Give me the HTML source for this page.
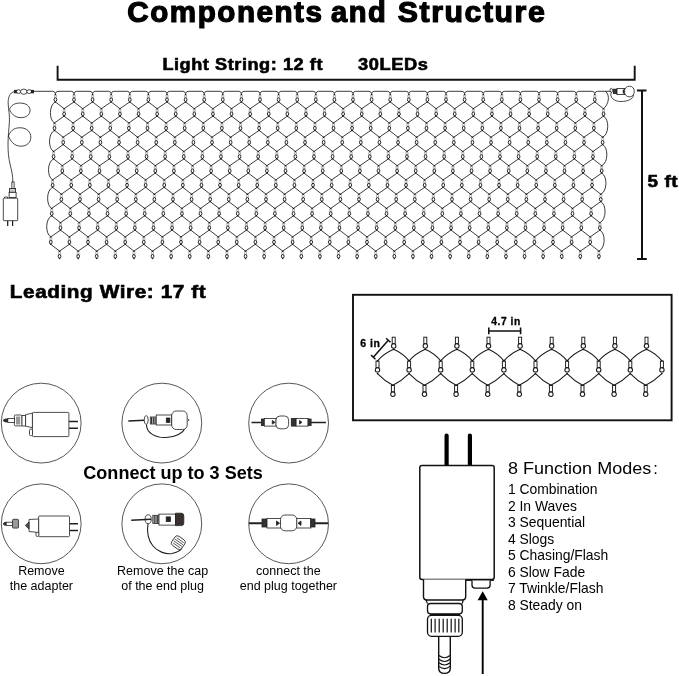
<!DOCTYPE html>
<html><head><meta charset="utf-8"><style>
html,body{margin:0;padding:0;background:#fff;}
body{width:679px;height:676px;overflow:hidden;position:relative;font-family:"Liberation Sans",sans-serif;}
svg{position:absolute;left:0;top:0;will-change:transform;}
text{font-family:"Liberation Sans",sans-serif;}
</style></head><body>
<svg width="679" height="676" viewBox="0 0 679 676" font-family="Liberation Sans, sans-serif">
<path d="M32,91.3 L52.8,91.3 Q54.8,91.3 55.4,93.6 Q56.0,91.3 58.0,91.3 L71.4,91.3 Q73.4,91.3 74.0,93.6 Q74.6,91.3 76.6,91.3 L90.0,91.3 Q92.0,91.3 92.6,93.6 Q93.2,91.3 95.2,91.3 L108.6,91.3 Q110.6,91.3 111.2,93.6 Q111.8,91.3 113.8,91.3 L127.2,91.3 Q129.2,91.3 129.8,93.6 Q130.4,91.3 132.4,91.3 L145.8,91.3 Q147.8,91.3 148.4,93.6 Q149.0,91.3 151.0,91.3 L164.4,91.3 Q166.4,91.3 167.0,93.6 Q167.6,91.3 169.6,91.3 L183.0,91.3 Q185.0,91.3 185.6,93.6 Q186.2,91.3 188.2,91.3 L201.6,91.3 Q203.6,91.3 204.2,93.6 Q204.8,91.3 206.8,91.3 L220.2,91.3 Q222.2,91.3 222.8,93.6 Q223.4,91.3 225.4,91.3 L238.8,91.3 Q240.8,91.3 241.4,93.6 Q242.0,91.3 244.0,91.3 L257.4,91.3 Q259.4,91.3 260.0,93.6 Q260.6,91.3 262.6,91.3 L276.0,91.3 Q278.0,91.3 278.6,93.6 Q279.2,91.3 281.2,91.3 L294.6,91.3 Q296.6,91.3 297.2,93.6 Q297.8,91.3 299.8,91.3 L313.2,91.3 Q315.2,91.3 315.8,93.6 Q316.4,91.3 318.4,91.3 L331.8,91.3 Q333.8,91.3 334.4,93.6 Q335.0,91.3 337.0,91.3 L350.4,91.3 Q352.4,91.3 353.0,93.6 Q353.6,91.3 355.6,91.3 L369.0,91.3 Q371.0,91.3 371.6,93.6 Q372.2,91.3 374.2,91.3 L387.6,91.3 Q389.6,91.3 390.2,93.6 Q390.8,91.3 392.8,91.3 L406.2,91.3 Q408.2,91.3 408.8,93.6 Q409.4,91.3 411.4,91.3 L424.8,91.3 Q426.8,91.3 427.4,93.6 Q428.0,91.3 430.0,91.3 L443.4,91.3 Q445.4,91.3 446.0,93.6 Q446.6,91.3 448.6,91.3 L462.0,91.3 Q464.0,91.3 464.6,93.6 Q465.2,91.3 467.2,91.3 L480.6,91.3 Q482.6,91.3 483.2,93.6 Q483.8,91.3 485.8,91.3 L499.2,91.3 Q501.2,91.3 501.8,93.6 Q502.4,91.3 504.4,91.3 L517.8,91.3 Q519.8,91.3 520.4,93.6 Q521.0,91.3 523.0,91.3 L536.4,91.3 Q538.4,91.3 539.0,93.6 Q539.6,91.3 541.6,91.3 L555.0,91.3 Q557.0,91.3 557.6,93.6 Q558.2,91.3 560.2,91.3 L573.6,91.3 Q575.6,91.3 576.2,93.6 Q576.8,91.3 578.8,91.3 L592.2,91.3 Q594.2,91.3 594.8,93.6 Q595.4,91.3 597.4,91.3 L611,91.3 M55.4,101.9 L64.1,108.7 M74.0,101.9 L64.1,108.7 M74.0,101.9 L82.7,108.7 M92.6,101.9 L82.7,108.7 M92.6,101.9 L101.3,108.7 M111.2,101.9 L101.3,108.7 M111.2,101.9 L119.9,108.7 M129.8,101.9 L119.9,108.7 M129.8,101.9 L138.5,108.7 M148.4,101.9 L138.5,108.7 M148.4,101.9 L157.1,108.7 M167.0,101.9 L157.1,108.7 M167.0,101.9 L175.7,108.7 M185.6,101.9 L175.7,108.7 M185.6,101.9 L194.3,108.7 M204.2,101.9 L194.3,108.7 M204.2,101.9 L212.9,108.7 M222.8,101.9 L212.9,108.7 M222.8,101.9 L231.5,108.7 M241.4,101.9 L231.5,108.7 M241.4,101.9 L250.1,108.7 M260.0,101.9 L250.1,108.7 M260.0,101.9 L268.7,108.7 M278.6,101.9 L268.7,108.7 M278.6,101.9 L287.3,108.7 M297.2,101.9 L287.3,108.7 M297.2,101.9 L305.9,108.7 M315.8,101.9 L305.9,108.7 M315.8,101.9 L324.5,108.7 M334.4,101.9 L324.5,108.7 M334.4,101.9 L343.1,108.7 M353.0,101.9 L343.1,108.7 M353.0,101.9 L361.7,108.7 M371.6,101.9 L361.7,108.7 M371.6,101.9 L380.3,108.7 M390.2,101.9 L380.3,108.7 M390.2,101.9 L398.9,108.7 M408.8,101.9 L398.9,108.7 M408.8,101.9 L417.5,108.7 M427.4,101.9 L417.5,108.7 M427.4,101.9 L436.1,108.7 M446.0,101.9 L436.1,108.7 M446.0,101.9 L454.7,108.7 M464.6,101.9 L454.7,108.7 M464.6,101.9 L473.3,108.7 M483.2,101.9 L473.3,108.7 M483.2,101.9 L491.9,108.7 M501.8,101.9 L491.9,108.7 M501.8,101.9 L510.5,108.7 M520.4,101.9 L510.5,108.7 M520.4,101.9 L529.1,108.7 M539.0,101.9 L529.1,108.7 M539.0,101.9 L547.7,108.7 M557.6,101.9 L547.7,108.7 M557.6,101.9 L566.3,108.7 M576.2,101.9 L566.3,108.7 M576.2,101.9 L584.9,108.7 M594.8,101.9 L584.9,108.7 M594.8,101.9 L603.5,108.7 M64.1,116.1 L54.5,123.0 M64.1,116.1 L73.1,123.0 M82.7,116.1 L73.1,123.0 M82.7,116.1 L91.7,123.0 M101.3,116.1 L91.7,123.0 M101.3,116.1 L110.3,123.0 M119.9,116.1 L110.3,123.0 M119.9,116.1 L128.9,123.0 M138.5,116.1 L128.9,123.0 M138.5,116.1 L147.5,123.0 M157.1,116.1 L147.5,123.0 M157.1,116.1 L166.1,123.0 M175.7,116.1 L166.1,123.0 M175.7,116.1 L184.7,123.0 M194.3,116.1 L184.7,123.0 M194.3,116.1 L203.3,123.0 M212.9,116.1 L203.3,123.0 M212.9,116.1 L221.9,123.0 M231.5,116.1 L221.9,123.0 M231.5,116.1 L240.5,123.0 M250.1,116.1 L240.5,123.0 M250.1,116.1 L259.1,123.0 M268.7,116.1 L259.1,123.0 M268.7,116.1 L277.7,123.0 M287.3,116.1 L277.7,123.0 M287.3,116.1 L296.3,123.0 M305.9,116.1 L296.3,123.0 M305.9,116.1 L314.9,123.0 M324.5,116.1 L314.9,123.0 M324.5,116.1 L333.5,123.0 M343.1,116.1 L333.5,123.0 M343.1,116.1 L352.1,123.0 M361.7,116.1 L352.1,123.0 M361.7,116.1 L370.7,123.0 M380.3,116.1 L370.7,123.0 M380.3,116.1 L389.3,123.0 M398.9,116.1 L389.3,123.0 M398.9,116.1 L407.9,123.0 M417.5,116.1 L407.9,123.0 M417.5,116.1 L426.5,123.0 M436.1,116.1 L426.5,123.0 M436.1,116.1 L445.1,123.0 M454.7,116.1 L445.1,123.0 M454.7,116.1 L463.7,123.0 M473.3,116.1 L463.7,123.0 M473.3,116.1 L482.3,123.0 M491.9,116.1 L482.3,123.0 M491.9,116.1 L500.9,123.0 M510.5,116.1 L500.9,123.0 M510.5,116.1 L519.5,123.0 M529.1,116.1 L519.5,123.0 M529.1,116.1 L538.1,123.0 M547.7,116.1 L538.1,123.0 M547.7,116.1 L556.7,123.0 M566.3,116.1 L556.7,123.0 M566.3,116.1 L575.3,123.0 M584.9,116.1 L575.3,123.0 M584.9,116.1 L593.9,123.0 M603.5,116.1 L593.9,123.0 M54.5,130.4 L63.2,137.2 M73.1,130.4 L63.2,137.2 M73.1,130.4 L81.8,137.2 M91.7,130.4 L81.8,137.2 M91.7,130.4 L100.4,137.2 M110.3,130.4 L100.4,137.2 M110.3,130.4 L119.0,137.2 M128.9,130.4 L119.0,137.2 M128.9,130.4 L137.6,137.2 M147.5,130.4 L137.6,137.2 M147.5,130.4 L156.2,137.2 M166.1,130.4 L156.2,137.2 M166.1,130.4 L174.8,137.2 M184.7,130.4 L174.8,137.2 M184.7,130.4 L193.4,137.2 M203.3,130.4 L193.4,137.2 M203.3,130.4 L212.0,137.2 M221.9,130.4 L212.0,137.2 M221.9,130.4 L230.6,137.2 M240.5,130.4 L230.6,137.2 M240.5,130.4 L249.2,137.2 M259.1,130.4 L249.2,137.2 M259.1,130.4 L267.8,137.2 M277.7,130.4 L267.8,137.2 M277.7,130.4 L286.4,137.2 M296.3,130.4 L286.4,137.2 M296.3,130.4 L305.0,137.2 M314.9,130.4 L305.0,137.2 M314.9,130.4 L323.6,137.2 M333.5,130.4 L323.6,137.2 M333.5,130.4 L342.2,137.2 M352.1,130.4 L342.2,137.2 M352.1,130.4 L360.8,137.2 M370.7,130.4 L360.8,137.2 M370.7,130.4 L379.4,137.2 M389.3,130.4 L379.4,137.2 M389.3,130.4 L398.0,137.2 M407.9,130.4 L398.0,137.2 M407.9,130.4 L416.6,137.2 M426.5,130.4 L416.6,137.2 M426.5,130.4 L435.2,137.2 M445.1,130.4 L435.2,137.2 M445.1,130.4 L453.8,137.2 M463.7,130.4 L453.8,137.2 M463.7,130.4 L472.4,137.2 M482.3,130.4 L472.4,137.2 M482.3,130.4 L491.0,137.2 M500.9,130.4 L491.0,137.2 M500.9,130.4 L509.6,137.2 M519.5,130.4 L509.6,137.2 M519.5,130.4 L528.2,137.2 M538.1,130.4 L528.2,137.2 M538.1,130.4 L546.8,137.2 M556.7,130.4 L546.8,137.2 M556.7,130.4 L565.4,137.2 M575.3,130.4 L565.4,137.2 M575.3,130.4 L584.0,137.2 M593.9,130.4 L584.0,137.2 M593.9,130.4 L602.6,137.2 M63.2,144.6 L53.6,151.5 M63.2,144.6 L72.2,151.5 M81.8,144.6 L72.2,151.5 M81.8,144.6 L90.8,151.5 M100.4,144.6 L90.8,151.5 M100.4,144.6 L109.4,151.5 M119.0,144.6 L109.4,151.5 M119.0,144.6 L128.0,151.5 M137.6,144.6 L128.0,151.5 M137.6,144.6 L146.6,151.5 M156.2,144.6 L146.6,151.5 M156.2,144.6 L165.2,151.5 M174.8,144.6 L165.2,151.5 M174.8,144.6 L183.8,151.5 M193.4,144.6 L183.8,151.5 M193.4,144.6 L202.4,151.5 M212.0,144.6 L202.4,151.5 M212.0,144.6 L221.0,151.5 M230.6,144.6 L221.0,151.5 M230.6,144.6 L239.6,151.5 M249.2,144.6 L239.6,151.5 M249.2,144.6 L258.2,151.5 M267.8,144.6 L258.2,151.5 M267.8,144.6 L276.8,151.5 M286.4,144.6 L276.8,151.5 M286.4,144.6 L295.4,151.5 M305.0,144.6 L295.4,151.5 M305.0,144.6 L314.0,151.5 M323.6,144.6 L314.0,151.5 M323.6,144.6 L332.6,151.5 M342.2,144.6 L332.6,151.5 M342.2,144.6 L351.2,151.5 M360.8,144.6 L351.2,151.5 M360.8,144.6 L369.8,151.5 M379.4,144.6 L369.8,151.5 M379.4,144.6 L388.4,151.5 M398.0,144.6 L388.4,151.5 M398.0,144.6 L407.0,151.5 M416.6,144.6 L407.0,151.5 M416.6,144.6 L425.6,151.5 M435.2,144.6 L425.6,151.5 M435.2,144.6 L444.2,151.5 M453.8,144.6 L444.2,151.5 M453.8,144.6 L462.8,151.5 M472.4,144.6 L462.8,151.5 M472.4,144.6 L481.4,151.5 M491.0,144.6 L481.4,151.5 M491.0,144.6 L500.0,151.5 M509.6,144.6 L500.0,151.5 M509.6,144.6 L518.6,151.5 M528.2,144.6 L518.6,151.5 M528.2,144.6 L537.2,151.5 M546.8,144.6 L537.2,151.5 M546.8,144.6 L555.8,151.5 M565.4,144.6 L555.8,151.5 M565.4,144.6 L574.4,151.5 M584.0,144.6 L574.4,151.5 M584.0,144.6 L593.0,151.5 M602.6,144.6 L593.0,151.5 M53.6,158.9 L62.3,165.7 M72.2,158.9 L62.3,165.7 M72.2,158.9 L80.9,165.7 M90.8,158.9 L80.9,165.7 M90.8,158.9 L99.5,165.7 M109.4,158.9 L99.5,165.7 M109.4,158.9 L118.1,165.7 M128.0,158.9 L118.1,165.7 M128.0,158.9 L136.7,165.7 M146.6,158.9 L136.7,165.7 M146.6,158.9 L155.3,165.7 M165.2,158.9 L155.3,165.7 M165.2,158.9 L173.9,165.7 M183.8,158.9 L173.9,165.7 M183.8,158.9 L192.5,165.7 M202.4,158.9 L192.5,165.7 M202.4,158.9 L211.1,165.7 M221.0,158.9 L211.1,165.7 M221.0,158.9 L229.7,165.7 M239.6,158.9 L229.7,165.7 M239.6,158.9 L248.3,165.7 M258.2,158.9 L248.3,165.7 M258.2,158.9 L266.9,165.7 M276.8,158.9 L266.9,165.7 M276.8,158.9 L285.5,165.7 M295.4,158.9 L285.5,165.7 M295.4,158.9 L304.1,165.7 M314.0,158.9 L304.1,165.7 M314.0,158.9 L322.7,165.7 M332.6,158.9 L322.7,165.7 M332.6,158.9 L341.3,165.7 M351.2,158.9 L341.3,165.7 M351.2,158.9 L359.9,165.7 M369.8,158.9 L359.9,165.7 M369.8,158.9 L378.5,165.7 M388.4,158.9 L378.5,165.7 M388.4,158.9 L397.1,165.7 M407.0,158.9 L397.1,165.7 M407.0,158.9 L415.7,165.7 M425.6,158.9 L415.7,165.7 M425.6,158.9 L434.3,165.7 M444.2,158.9 L434.3,165.7 M444.2,158.9 L452.9,165.7 M462.8,158.9 L452.9,165.7 M462.8,158.9 L471.5,165.7 M481.4,158.9 L471.5,165.7 M481.4,158.9 L490.1,165.7 M500.0,158.9 L490.1,165.7 M500.0,158.9 L508.7,165.7 M518.6,158.9 L508.7,165.7 M518.6,158.9 L527.3,165.7 M537.2,158.9 L527.3,165.7 M537.2,158.9 L545.9,165.7 M555.8,158.9 L545.9,165.7 M555.8,158.9 L564.5,165.7 M574.4,158.9 L564.5,165.7 M574.4,158.9 L583.1,165.7 M593.0,158.9 L583.1,165.7 M593.0,158.9 L601.7,165.7 M62.3,173.1 L52.6,179.9 M62.3,173.1 L71.2,179.9 M80.9,173.1 L71.2,179.9 M80.9,173.1 L89.8,179.9 M99.5,173.1 L89.8,179.9 M99.5,173.1 L108.4,179.9 M118.1,173.1 L108.4,179.9 M118.1,173.1 L127.0,179.9 M136.7,173.1 L127.0,179.9 M136.7,173.1 L145.6,179.9 M155.3,173.1 L145.6,179.9 M155.3,173.1 L164.2,179.9 M173.9,173.1 L164.2,179.9 M173.9,173.1 L182.8,179.9 M192.5,173.1 L182.8,179.9 M192.5,173.1 L201.4,179.9 M211.1,173.1 L201.4,179.9 M211.1,173.1 L220.0,179.9 M229.7,173.1 L220.0,179.9 M229.7,173.1 L238.6,179.9 M248.3,173.1 L238.6,179.9 M248.3,173.1 L257.2,179.9 M266.9,173.1 L257.2,179.9 M266.9,173.1 L275.8,179.9 M285.5,173.1 L275.8,179.9 M285.5,173.1 L294.4,179.9 M304.1,173.1 L294.4,179.9 M304.1,173.1 L313.0,179.9 M322.7,173.1 L313.0,179.9 M322.7,173.1 L331.6,179.9 M341.3,173.1 L331.6,179.9 M341.3,173.1 L350.2,179.9 M359.9,173.1 L350.2,179.9 M359.9,173.1 L368.8,179.9 M378.5,173.1 L368.8,179.9 M378.5,173.1 L387.4,179.9 M397.1,173.1 L387.4,179.9 M397.1,173.1 L406.0,179.9 M415.7,173.1 L406.0,179.9 M415.7,173.1 L424.6,179.9 M434.3,173.1 L424.6,179.9 M434.3,173.1 L443.2,179.9 M452.9,173.1 L443.2,179.9 M452.9,173.1 L461.8,179.9 M471.5,173.1 L461.8,179.9 M471.5,173.1 L480.4,179.9 M490.1,173.1 L480.4,179.9 M490.1,173.1 L499.0,179.9 M508.7,173.1 L499.0,179.9 M508.7,173.1 L517.6,179.9 M527.3,173.1 L517.6,179.9 M527.3,173.1 L536.2,179.9 M545.9,173.1 L536.2,179.9 M545.9,173.1 L554.8,179.9 M564.5,173.1 L554.8,179.9 M564.5,173.1 L573.4,179.9 M583.1,173.1 L573.4,179.9 M583.1,173.1 L592.0,179.9 M601.7,173.1 L592.0,179.9 M52.6,187.3 L61.4,194.2 M71.2,187.3 L61.4,194.2 M71.2,187.3 L80.0,194.2 M89.8,187.3 L80.0,194.2 M89.8,187.3 L98.6,194.2 M108.4,187.3 L98.6,194.2 M108.4,187.3 L117.2,194.2 M127.0,187.3 L117.2,194.2 M127.0,187.3 L135.8,194.2 M145.6,187.3 L135.8,194.2 M145.6,187.3 L154.4,194.2 M164.2,187.3 L154.4,194.2 M164.2,187.3 L173.0,194.2 M182.8,187.3 L173.0,194.2 M182.8,187.3 L191.6,194.2 M201.4,187.3 L191.6,194.2 M201.4,187.3 L210.2,194.2 M220.0,187.3 L210.2,194.2 M220.0,187.3 L228.8,194.2 M238.6,187.3 L228.8,194.2 M238.6,187.3 L247.4,194.2 M257.2,187.3 L247.4,194.2 M257.2,187.3 L266.0,194.2 M275.8,187.3 L266.0,194.2 M275.8,187.3 L284.6,194.2 M294.4,187.3 L284.6,194.2 M294.4,187.3 L303.2,194.2 M313.0,187.3 L303.2,194.2 M313.0,187.3 L321.8,194.2 M331.6,187.3 L321.8,194.2 M331.6,187.3 L340.4,194.2 M350.2,187.3 L340.4,194.2 M350.2,187.3 L359.0,194.2 M368.8,187.3 L359.0,194.2 M368.8,187.3 L377.6,194.2 M387.4,187.3 L377.6,194.2 M387.4,187.3 L396.2,194.2 M406.0,187.3 L396.2,194.2 M406.0,187.3 L414.8,194.2 M424.6,187.3 L414.8,194.2 M424.6,187.3 L433.4,194.2 M443.2,187.3 L433.4,194.2 M443.2,187.3 L452.0,194.2 M461.8,187.3 L452.0,194.2 M461.8,187.3 L470.6,194.2 M480.4,187.3 L470.6,194.2 M480.4,187.3 L489.2,194.2 M499.0,187.3 L489.2,194.2 M499.0,187.3 L507.8,194.2 M517.6,187.3 L507.8,194.2 M517.6,187.3 L526.4,194.2 M536.2,187.3 L526.4,194.2 M536.2,187.3 L545.0,194.2 M554.8,187.3 L545.0,194.2 M554.8,187.3 L563.6,194.2 M573.4,187.3 L563.6,194.2 M573.4,187.3 L582.2,194.2 M592.0,187.3 L582.2,194.2 M592.0,187.3 L600.8,194.2 M61.4,201.6 L51.7,208.4 M61.4,201.6 L70.3,208.4 M80.0,201.6 L70.3,208.4 M80.0,201.6 L88.9,208.4 M98.6,201.6 L88.9,208.4 M98.6,201.6 L107.5,208.4 M117.2,201.6 L107.5,208.4 M117.2,201.6 L126.1,208.4 M135.8,201.6 L126.1,208.4 M135.8,201.6 L144.7,208.4 M154.4,201.6 L144.7,208.4 M154.4,201.6 L163.3,208.4 M173.0,201.6 L163.3,208.4 M173.0,201.6 L181.9,208.4 M191.6,201.6 L181.9,208.4 M191.6,201.6 L200.5,208.4 M210.2,201.6 L200.5,208.4 M210.2,201.6 L219.1,208.4 M228.8,201.6 L219.1,208.4 M228.8,201.6 L237.7,208.4 M247.4,201.6 L237.7,208.4 M247.4,201.6 L256.3,208.4 M266.0,201.6 L256.3,208.4 M266.0,201.6 L274.9,208.4 M284.6,201.6 L274.9,208.4 M284.6,201.6 L293.5,208.4 M303.2,201.6 L293.5,208.4 M303.2,201.6 L312.1,208.4 M321.8,201.6 L312.1,208.4 M321.8,201.6 L330.7,208.4 M340.4,201.6 L330.7,208.4 M340.4,201.6 L349.3,208.4 M359.0,201.6 L349.3,208.4 M359.0,201.6 L367.9,208.4 M377.6,201.6 L367.9,208.4 M377.6,201.6 L386.5,208.4 M396.2,201.6 L386.5,208.4 M396.2,201.6 L405.1,208.4 M414.8,201.6 L405.1,208.4 M414.8,201.6 L423.7,208.4 M433.4,201.6 L423.7,208.4 M433.4,201.6 L442.3,208.4 M452.0,201.6 L442.3,208.4 M452.0,201.6 L460.9,208.4 M470.6,201.6 L460.9,208.4 M470.6,201.6 L479.5,208.4 M489.2,201.6 L479.5,208.4 M489.2,201.6 L498.1,208.4 M507.8,201.6 L498.1,208.4 M507.8,201.6 L516.7,208.4 M526.4,201.6 L516.7,208.4 M526.4,201.6 L535.3,208.4 M545.0,201.6 L535.3,208.4 M545.0,201.6 L553.9,208.4 M563.6,201.6 L553.9,208.4 M563.6,201.6 L572.5,208.4 M582.2,201.6 L572.5,208.4 M582.2,201.6 L591.1,208.4 M600.8,201.6 L591.1,208.4 M51.7,215.8 L60.5,222.7 M70.3,215.8 L60.5,222.7 M70.3,215.8 L79.1,222.7 M88.9,215.8 L79.1,222.7 M88.9,215.8 L97.7,222.7 M107.5,215.8 L97.7,222.7 M107.5,215.8 L116.3,222.7 M126.1,215.8 L116.3,222.7 M126.1,215.8 L134.9,222.7 M144.7,215.8 L134.9,222.7 M144.7,215.8 L153.5,222.7 M163.3,215.8 L153.5,222.7 M163.3,215.8 L172.1,222.7 M181.9,215.8 L172.1,222.7 M181.9,215.8 L190.7,222.7 M200.5,215.8 L190.7,222.7 M200.5,215.8 L209.3,222.7 M219.1,215.8 L209.3,222.7 M219.1,215.8 L227.9,222.7 M237.7,215.8 L227.9,222.7 M237.7,215.8 L246.5,222.7 M256.3,215.8 L246.5,222.7 M256.3,215.8 L265.1,222.7 M274.9,215.8 L265.1,222.7 M274.9,215.8 L283.7,222.7 M293.5,215.8 L283.7,222.7 M293.5,215.8 L302.3,222.7 M312.1,215.8 L302.3,222.7 M312.1,215.8 L320.9,222.7 M330.7,215.8 L320.9,222.7 M330.7,215.8 L339.5,222.7 M349.3,215.8 L339.5,222.7 M349.3,215.8 L358.1,222.7 M367.9,215.8 L358.1,222.7 M367.9,215.8 L376.7,222.7 M386.5,215.8 L376.7,222.7 M386.5,215.8 L395.3,222.7 M405.1,215.8 L395.3,222.7 M405.1,215.8 L413.9,222.7 M423.7,215.8 L413.9,222.7 M423.7,215.8 L432.5,222.7 M442.3,215.8 L432.5,222.7 M442.3,215.8 L451.1,222.7 M460.9,215.8 L451.1,222.7 M460.9,215.8 L469.7,222.7 M479.5,215.8 L469.7,222.7 M479.5,215.8 L488.3,222.7 M498.1,215.8 L488.3,222.7 M498.1,215.8 L506.9,222.7 M516.7,215.8 L506.9,222.7 M516.7,215.8 L525.5,222.7 M535.3,215.8 L525.5,222.7 M535.3,215.8 L544.1,222.7 M553.9,215.8 L544.1,222.7 M553.9,215.8 L562.7,222.7 M572.5,215.8 L562.7,222.7 M572.5,215.8 L581.3,222.7 M591.1,215.8 L581.3,222.7 M591.1,215.8 L599.9,222.7 M60.5,230.1 L50.8,236.9 M60.5,230.1 L69.4,236.9 M79.1,230.1 L69.4,236.9 M79.1,230.1 L88.0,236.9 M97.7,230.1 L88.0,236.9 M97.7,230.1 L106.6,236.9 M116.3,230.1 L106.6,236.9 M116.3,230.1 L125.2,236.9 M134.9,230.1 L125.2,236.9 M134.9,230.1 L143.8,236.9 M153.5,230.1 L143.8,236.9 M153.5,230.1 L162.4,236.9 M172.1,230.1 L162.4,236.9 M172.1,230.1 L181.0,236.9 M190.7,230.1 L181.0,236.9 M190.7,230.1 L199.6,236.9 M209.3,230.1 L199.6,236.9 M209.3,230.1 L218.2,236.9 M227.9,230.1 L218.2,236.9 M227.9,230.1 L236.8,236.9 M246.5,230.1 L236.8,236.9 M246.5,230.1 L255.4,236.9 M265.1,230.1 L255.4,236.9 M265.1,230.1 L274.0,236.9 M283.7,230.1 L274.0,236.9 M283.7,230.1 L292.6,236.9 M302.3,230.1 L292.6,236.9 M302.3,230.1 L311.2,236.9 M320.9,230.1 L311.2,236.9 M320.9,230.1 L329.8,236.9 M339.5,230.1 L329.8,236.9 M339.5,230.1 L348.4,236.9 M358.1,230.1 L348.4,236.9 M358.1,230.1 L367.0,236.9 M376.7,230.1 L367.0,236.9 M376.7,230.1 L385.6,236.9 M395.3,230.1 L385.6,236.9 M395.3,230.1 L404.2,236.9 M413.9,230.1 L404.2,236.9 M413.9,230.1 L422.8,236.9 M432.5,230.1 L422.8,236.9 M432.5,230.1 L441.4,236.9 M451.1,230.1 L441.4,236.9 M451.1,230.1 L460.0,236.9 M469.7,230.1 L460.0,236.9 M469.7,230.1 L478.6,236.9 M488.3,230.1 L478.6,236.9 M488.3,230.1 L497.2,236.9 M506.9,230.1 L497.2,236.9 M506.9,230.1 L515.8,236.9 M525.5,230.1 L515.8,236.9 M525.5,230.1 L534.4,236.9 M544.1,230.1 L534.4,236.9 M544.1,230.1 L553.0,236.9 M562.7,230.1 L553.0,236.9 M562.7,230.1 L571.6,236.9 M581.3,230.1 L571.6,236.9 M581.3,230.1 L590.2,236.9 M599.9,230.1 L590.2,236.9 M50.8,244.3 L59.5,251.1 M69.4,244.3 L59.5,251.1 M69.4,244.3 L78.1,251.1 M88.0,244.3 L78.1,251.1 M88.0,244.3 L96.7,251.1 M106.6,244.3 L96.7,251.1 M106.6,244.3 L115.3,251.1 M125.2,244.3 L115.3,251.1 M125.2,244.3 L133.9,251.1 M143.8,244.3 L133.9,251.1 M143.8,244.3 L152.5,251.1 M162.4,244.3 L152.5,251.1 M162.4,244.3 L171.1,251.1 M181.0,244.3 L171.1,251.1 M181.0,244.3 L189.7,251.1 M199.6,244.3 L189.7,251.1 M199.6,244.3 L208.3,251.1 M218.2,244.3 L208.3,251.1 M218.2,244.3 L226.9,251.1 M236.8,244.3 L226.9,251.1 M236.8,244.3 L245.5,251.1 M255.4,244.3 L245.5,251.1 M255.4,244.3 L264.1,251.1 M274.0,244.3 L264.1,251.1 M274.0,244.3 L282.7,251.1 M292.6,244.3 L282.7,251.1 M292.6,244.3 L301.3,251.1 M311.2,244.3 L301.3,251.1 M311.2,244.3 L319.9,251.1 M329.8,244.3 L319.9,251.1 M329.8,244.3 L338.5,251.1 M348.4,244.3 L338.5,251.1 M348.4,244.3 L357.1,251.1 M367.0,244.3 L357.1,251.1 M367.0,244.3 L375.7,251.1 M385.6,244.3 L375.7,251.1 M385.6,244.3 L394.3,251.1 M404.2,244.3 L394.3,251.1 M404.2,244.3 L412.9,251.1 M422.8,244.3 L412.9,251.1 M422.8,244.3 L431.5,251.1 M441.4,244.3 L431.5,251.1 M441.4,244.3 L450.1,251.1 M460.0,244.3 L450.1,251.1 M460.0,244.3 L468.7,251.1 M478.6,244.3 L468.7,251.1 M478.6,244.3 L487.3,251.1 M497.2,244.3 L487.3,251.1 M497.2,244.3 L505.9,251.1 M515.8,244.3 L505.9,251.1 M515.8,244.3 L524.5,251.1 M534.4,244.3 L524.5,251.1 M534.4,244.3 L543.1,251.1 M553.0,244.3 L543.1,251.1 M553.0,244.3 L561.7,251.1 M571.6,244.3 L561.7,251.1 M571.6,244.3 L580.3,251.1 M590.2,244.3 L580.3,251.1 M590.2,244.3 L598.9,251.1 M55.4,101.9 C48.9,104.9 48.9,120.0 54.5,123.0 M54.5,130.4 C48.0,133.4 48.0,148.5 53.6,151.5 M53.6,158.9 C47.0,161.9 47.0,176.9 52.6,179.9 M52.6,187.3 C46.1,190.3 46.1,205.4 51.7,208.4 M51.7,215.8 C45.2,218.8 45.2,233.9 50.8,236.9 M605.5,91.3 C610.5,95.3 608.5,104.7 603.5,108.7 M603.5,116.1 C609.3,119.1 609.3,134.2 602.6,137.2 M602.6,144.6 C608.4,147.6 608.4,162.7 601.7,165.7 M601.7,173.1 C607.5,176.1 607.5,191.2 600.8,194.2 M600.8,201.6 C606.6,204.6 606.6,219.7 599.9,222.7 M599.9,230.1 C605.7,233.1 605.7,248.1 598.9,251.1" fill="none" stroke="#1a1a1a" stroke-width="0.85"/>
<path d="M54.4,94.8h2v3.1h-2zM73.0,94.8h2v3.1h-2zM91.6,94.8h2v3.1h-2zM110.2,94.8h2v3.1h-2zM128.8,94.8h2v3.1h-2zM147.4,94.8h2v3.1h-2zM166.0,94.8h2v3.1h-2zM184.6,94.8h2v3.1h-2zM203.2,94.8h2v3.1h-2zM221.8,94.8h2v3.1h-2zM240.4,94.8h2v3.1h-2zM259.0,94.8h2v3.1h-2zM277.6,94.8h2v3.1h-2zM296.2,94.8h2v3.1h-2zM314.8,94.8h2v3.1h-2zM333.4,94.8h2v3.1h-2zM352.0,94.8h2v3.1h-2zM370.6,94.8h2v3.1h-2zM389.2,94.8h2v3.1h-2zM407.8,94.8h2v3.1h-2zM426.4,94.8h2v3.1h-2zM445.0,94.8h2v3.1h-2zM463.6,94.8h2v3.1h-2zM482.2,94.8h2v3.1h-2zM500.8,94.8h2v3.1h-2zM519.4,94.8h2v3.1h-2zM538.0,94.8h2v3.1h-2zM556.6,94.8h2v3.1h-2zM575.2,94.8h2v3.1h-2zM593.8,94.8h2v3.1h-2zM63.1,109.0h2v3.1h-2zM81.7,109.0h2v3.1h-2zM100.3,109.0h2v3.1h-2zM118.9,109.0h2v3.1h-2zM137.5,109.0h2v3.1h-2zM156.1,109.0h2v3.1h-2zM174.7,109.0h2v3.1h-2zM193.3,109.0h2v3.1h-2zM211.9,109.0h2v3.1h-2zM230.5,109.0h2v3.1h-2zM249.1,109.0h2v3.1h-2zM267.7,109.0h2v3.1h-2zM286.3,109.0h2v3.1h-2zM304.9,109.0h2v3.1h-2zM323.5,109.0h2v3.1h-2zM342.1,109.0h2v3.1h-2zM360.7,109.0h2v3.1h-2zM379.3,109.0h2v3.1h-2zM397.9,109.0h2v3.1h-2zM416.5,109.0h2v3.1h-2zM435.1,109.0h2v3.1h-2zM453.7,109.0h2v3.1h-2zM472.3,109.0h2v3.1h-2zM490.9,109.0h2v3.1h-2zM509.5,109.0h2v3.1h-2zM528.1,109.0h2v3.1h-2zM546.7,109.0h2v3.1h-2zM565.3,109.0h2v3.1h-2zM583.9,109.0h2v3.1h-2zM602.5,109.0h2v3.1h-2zM53.5,123.3h2v3.1h-2zM72.1,123.3h2v3.1h-2zM90.7,123.3h2v3.1h-2zM109.3,123.3h2v3.1h-2zM127.9,123.3h2v3.1h-2zM146.5,123.3h2v3.1h-2zM165.1,123.3h2v3.1h-2zM183.7,123.3h2v3.1h-2zM202.3,123.3h2v3.1h-2zM220.9,123.3h2v3.1h-2zM239.5,123.3h2v3.1h-2zM258.1,123.3h2v3.1h-2zM276.7,123.3h2v3.1h-2zM295.3,123.3h2v3.1h-2zM313.9,123.3h2v3.1h-2zM332.5,123.3h2v3.1h-2zM351.1,123.3h2v3.1h-2zM369.7,123.3h2v3.1h-2zM388.3,123.3h2v3.1h-2zM406.9,123.3h2v3.1h-2zM425.5,123.3h2v3.1h-2zM444.1,123.3h2v3.1h-2zM462.7,123.3h2v3.1h-2zM481.3,123.3h2v3.1h-2zM499.9,123.3h2v3.1h-2zM518.5,123.3h2v3.1h-2zM537.1,123.3h2v3.1h-2zM555.7,123.3h2v3.1h-2zM574.3,123.3h2v3.1h-2zM592.9,123.3h2v3.1h-2zM62.2,137.5h2v3.1h-2zM80.8,137.5h2v3.1h-2zM99.4,137.5h2v3.1h-2zM118.0,137.5h2v3.1h-2zM136.6,137.5h2v3.1h-2zM155.2,137.5h2v3.1h-2zM173.8,137.5h2v3.1h-2zM192.4,137.5h2v3.1h-2zM211.0,137.5h2v3.1h-2zM229.6,137.5h2v3.1h-2zM248.2,137.5h2v3.1h-2zM266.8,137.5h2v3.1h-2zM285.4,137.5h2v3.1h-2zM304.0,137.5h2v3.1h-2zM322.6,137.5h2v3.1h-2zM341.2,137.5h2v3.1h-2zM359.8,137.5h2v3.1h-2zM378.4,137.5h2v3.1h-2zM397.0,137.5h2v3.1h-2zM415.6,137.5h2v3.1h-2zM434.2,137.5h2v3.1h-2zM452.8,137.5h2v3.1h-2zM471.4,137.5h2v3.1h-2zM490.0,137.5h2v3.1h-2zM508.6,137.5h2v3.1h-2zM527.2,137.5h2v3.1h-2zM545.8,137.5h2v3.1h-2zM564.4,137.5h2v3.1h-2zM583.0,137.5h2v3.1h-2zM601.6,137.5h2v3.1h-2zM52.6,151.8h2v3.1h-2zM71.2,151.8h2v3.1h-2zM89.8,151.8h2v3.1h-2zM108.4,151.8h2v3.1h-2zM127.0,151.8h2v3.1h-2zM145.6,151.8h2v3.1h-2zM164.2,151.8h2v3.1h-2zM182.8,151.8h2v3.1h-2zM201.4,151.8h2v3.1h-2zM220.0,151.8h2v3.1h-2zM238.6,151.8h2v3.1h-2zM257.2,151.8h2v3.1h-2zM275.8,151.8h2v3.1h-2zM294.4,151.8h2v3.1h-2zM313.0,151.8h2v3.1h-2zM331.6,151.8h2v3.1h-2zM350.2,151.8h2v3.1h-2zM368.8,151.8h2v3.1h-2zM387.4,151.8h2v3.1h-2zM406.0,151.8h2v3.1h-2zM424.6,151.8h2v3.1h-2zM443.2,151.8h2v3.1h-2zM461.8,151.8h2v3.1h-2zM480.4,151.8h2v3.1h-2zM499.0,151.8h2v3.1h-2zM517.6,151.8h2v3.1h-2zM536.2,151.8h2v3.1h-2zM554.8,151.8h2v3.1h-2zM573.4,151.8h2v3.1h-2zM592.0,151.8h2v3.1h-2zM61.3,166.0h2v3.1h-2zM79.9,166.0h2v3.1h-2zM98.5,166.0h2v3.1h-2zM117.1,166.0h2v3.1h-2zM135.7,166.0h2v3.1h-2zM154.3,166.0h2v3.1h-2zM172.9,166.0h2v3.1h-2zM191.5,166.0h2v3.1h-2zM210.1,166.0h2v3.1h-2zM228.7,166.0h2v3.1h-2zM247.3,166.0h2v3.1h-2zM265.9,166.0h2v3.1h-2zM284.5,166.0h2v3.1h-2zM303.1,166.0h2v3.1h-2zM321.7,166.0h2v3.1h-2zM340.3,166.0h2v3.1h-2zM358.9,166.0h2v3.1h-2zM377.5,166.0h2v3.1h-2zM396.1,166.0h2v3.1h-2zM414.7,166.0h2v3.1h-2zM433.3,166.0h2v3.1h-2zM451.9,166.0h2v3.1h-2zM470.5,166.0h2v3.1h-2zM489.1,166.0h2v3.1h-2zM507.7,166.0h2v3.1h-2zM526.3,166.0h2v3.1h-2zM544.9,166.0h2v3.1h-2zM563.5,166.0h2v3.1h-2zM582.1,166.0h2v3.1h-2zM600.7,166.0h2v3.1h-2zM51.6,180.2h2v3.1h-2zM70.2,180.2h2v3.1h-2zM88.8,180.2h2v3.1h-2zM107.4,180.2h2v3.1h-2zM126.0,180.2h2v3.1h-2zM144.6,180.2h2v3.1h-2zM163.2,180.2h2v3.1h-2zM181.8,180.2h2v3.1h-2zM200.4,180.2h2v3.1h-2zM219.0,180.2h2v3.1h-2zM237.6,180.2h2v3.1h-2zM256.2,180.2h2v3.1h-2zM274.8,180.2h2v3.1h-2zM293.4,180.2h2v3.1h-2zM312.0,180.2h2v3.1h-2zM330.6,180.2h2v3.1h-2zM349.2,180.2h2v3.1h-2zM367.8,180.2h2v3.1h-2zM386.4,180.2h2v3.1h-2zM405.0,180.2h2v3.1h-2zM423.6,180.2h2v3.1h-2zM442.2,180.2h2v3.1h-2zM460.8,180.2h2v3.1h-2zM479.4,180.2h2v3.1h-2zM498.0,180.2h2v3.1h-2zM516.6,180.2h2v3.1h-2zM535.2,180.2h2v3.1h-2zM553.8,180.2h2v3.1h-2zM572.4,180.2h2v3.1h-2zM591.0,180.2h2v3.1h-2zM60.4,194.5h2v3.1h-2zM79.0,194.5h2v3.1h-2zM97.6,194.5h2v3.1h-2zM116.2,194.5h2v3.1h-2zM134.8,194.5h2v3.1h-2zM153.4,194.5h2v3.1h-2zM172.0,194.5h2v3.1h-2zM190.6,194.5h2v3.1h-2zM209.2,194.5h2v3.1h-2zM227.8,194.5h2v3.1h-2zM246.4,194.5h2v3.1h-2zM265.0,194.5h2v3.1h-2zM283.6,194.5h2v3.1h-2zM302.2,194.5h2v3.1h-2zM320.8,194.5h2v3.1h-2zM339.4,194.5h2v3.1h-2zM358.0,194.5h2v3.1h-2zM376.6,194.5h2v3.1h-2zM395.2,194.5h2v3.1h-2zM413.8,194.5h2v3.1h-2zM432.4,194.5h2v3.1h-2zM451.0,194.5h2v3.1h-2zM469.6,194.5h2v3.1h-2zM488.2,194.5h2v3.1h-2zM506.8,194.5h2v3.1h-2zM525.4,194.5h2v3.1h-2zM544.0,194.5h2v3.1h-2zM562.6,194.5h2v3.1h-2zM581.2,194.5h2v3.1h-2zM599.8,194.5h2v3.1h-2zM50.7,208.7h2v3.1h-2zM69.3,208.7h2v3.1h-2zM87.9,208.7h2v3.1h-2zM106.5,208.7h2v3.1h-2zM125.1,208.7h2v3.1h-2zM143.7,208.7h2v3.1h-2zM162.3,208.7h2v3.1h-2zM180.9,208.7h2v3.1h-2zM199.5,208.7h2v3.1h-2zM218.1,208.7h2v3.1h-2zM236.7,208.7h2v3.1h-2zM255.3,208.7h2v3.1h-2zM273.9,208.7h2v3.1h-2zM292.5,208.7h2v3.1h-2zM311.1,208.7h2v3.1h-2zM329.7,208.7h2v3.1h-2zM348.3,208.7h2v3.1h-2zM366.9,208.7h2v3.1h-2zM385.5,208.7h2v3.1h-2zM404.1,208.7h2v3.1h-2zM422.7,208.7h2v3.1h-2zM441.3,208.7h2v3.1h-2zM459.9,208.7h2v3.1h-2zM478.5,208.7h2v3.1h-2zM497.1,208.7h2v3.1h-2zM515.7,208.7h2v3.1h-2zM534.3,208.7h2v3.1h-2zM552.9,208.7h2v3.1h-2zM571.5,208.7h2v3.1h-2zM590.1,208.7h2v3.1h-2zM59.5,223.0h2v3.1h-2zM78.1,223.0h2v3.1h-2zM96.7,223.0h2v3.1h-2zM115.3,223.0h2v3.1h-2zM133.9,223.0h2v3.1h-2zM152.5,223.0h2v3.1h-2zM171.1,223.0h2v3.1h-2zM189.7,223.0h2v3.1h-2zM208.3,223.0h2v3.1h-2zM226.9,223.0h2v3.1h-2zM245.5,223.0h2v3.1h-2zM264.1,223.0h2v3.1h-2zM282.7,223.0h2v3.1h-2zM301.3,223.0h2v3.1h-2zM319.9,223.0h2v3.1h-2zM338.5,223.0h2v3.1h-2zM357.1,223.0h2v3.1h-2zM375.7,223.0h2v3.1h-2zM394.3,223.0h2v3.1h-2zM412.9,223.0h2v3.1h-2zM431.5,223.0h2v3.1h-2zM450.1,223.0h2v3.1h-2zM468.7,223.0h2v3.1h-2zM487.3,223.0h2v3.1h-2zM505.9,223.0h2v3.1h-2zM524.5,223.0h2v3.1h-2zM543.1,223.0h2v3.1h-2zM561.7,223.0h2v3.1h-2zM580.3,223.0h2v3.1h-2zM598.9,223.0h2v3.1h-2zM49.8,237.2h2v3.1h-2zM68.4,237.2h2v3.1h-2zM87.0,237.2h2v3.1h-2zM105.6,237.2h2v3.1h-2zM124.2,237.2h2v3.1h-2zM142.8,237.2h2v3.1h-2zM161.4,237.2h2v3.1h-2zM180.0,237.2h2v3.1h-2zM198.6,237.2h2v3.1h-2zM217.2,237.2h2v3.1h-2zM235.8,237.2h2v3.1h-2zM254.4,237.2h2v3.1h-2zM273.0,237.2h2v3.1h-2zM291.6,237.2h2v3.1h-2zM310.2,237.2h2v3.1h-2zM328.8,237.2h2v3.1h-2zM347.4,237.2h2v3.1h-2zM366.0,237.2h2v3.1h-2zM384.6,237.2h2v3.1h-2zM403.2,237.2h2v3.1h-2zM421.8,237.2h2v3.1h-2zM440.4,237.2h2v3.1h-2zM459.0,237.2h2v3.1h-2zM477.6,237.2h2v3.1h-2zM496.2,237.2h2v3.1h-2zM514.8,237.2h2v3.1h-2zM533.4,237.2h2v3.1h-2zM552.0,237.2h2v3.1h-2zM570.6,237.2h2v3.1h-2zM589.2,237.2h2v3.1h-2zM58.5,251.4h2v3.1h-2zM77.1,251.4h2v3.1h-2zM95.7,251.4h2v3.1h-2zM114.3,251.4h2v3.1h-2zM132.9,251.4h2v3.1h-2zM151.5,251.4h2v3.1h-2zM170.1,251.4h2v3.1h-2zM188.7,251.4h2v3.1h-2zM207.3,251.4h2v3.1h-2zM225.9,251.4h2v3.1h-2zM244.5,251.4h2v3.1h-2zM263.1,251.4h2v3.1h-2zM281.7,251.4h2v3.1h-2zM300.3,251.4h2v3.1h-2zM318.9,251.4h2v3.1h-2zM337.5,251.4h2v3.1h-2zM356.1,251.4h2v3.1h-2zM374.7,251.4h2v3.1h-2zM393.3,251.4h2v3.1h-2zM411.9,251.4h2v3.1h-2zM430.5,251.4h2v3.1h-2zM449.1,251.4h2v3.1h-2zM467.7,251.4h2v3.1h-2zM486.3,251.4h2v3.1h-2zM504.9,251.4h2v3.1h-2zM523.5,251.4h2v3.1h-2zM542.1,251.4h2v3.1h-2zM560.7,251.4h2v3.1h-2zM579.3,251.4h2v3.1h-2zM597.9,251.4h2v3.1h-2z" fill="#f4f4f4" stroke="#888" stroke-width="0.6"/>
<path d="M54.05,99.70a1.35,1.85 0 1,0 2.7,0a1.35,1.85 0 1,0 -2.7,0M72.65,99.70a1.35,1.85 0 1,0 2.7,0a1.35,1.85 0 1,0 -2.7,0M91.25,99.70a1.35,1.85 0 1,0 2.7,0a1.35,1.85 0 1,0 -2.7,0M109.85,99.70a1.35,1.85 0 1,0 2.7,0a1.35,1.85 0 1,0 -2.7,0M128.45,99.70a1.35,1.85 0 1,0 2.7,0a1.35,1.85 0 1,0 -2.7,0M147.05,99.70a1.35,1.85 0 1,0 2.7,0a1.35,1.85 0 1,0 -2.7,0M165.65,99.70a1.35,1.85 0 1,0 2.7,0a1.35,1.85 0 1,0 -2.7,0M184.25,99.70a1.35,1.85 0 1,0 2.7,0a1.35,1.85 0 1,0 -2.7,0M202.85,99.70a1.35,1.85 0 1,0 2.7,0a1.35,1.85 0 1,0 -2.7,0M221.45,99.70a1.35,1.85 0 1,0 2.7,0a1.35,1.85 0 1,0 -2.7,0M240.05,99.70a1.35,1.85 0 1,0 2.7,0a1.35,1.85 0 1,0 -2.7,0M258.65,99.70a1.35,1.85 0 1,0 2.7,0a1.35,1.85 0 1,0 -2.7,0M277.25,99.70a1.35,1.85 0 1,0 2.7,0a1.35,1.85 0 1,0 -2.7,0M295.85,99.70a1.35,1.85 0 1,0 2.7,0a1.35,1.85 0 1,0 -2.7,0M314.45,99.70a1.35,1.85 0 1,0 2.7,0a1.35,1.85 0 1,0 -2.7,0M333.05,99.70a1.35,1.85 0 1,0 2.7,0a1.35,1.85 0 1,0 -2.7,0M351.65,99.70a1.35,1.85 0 1,0 2.7,0a1.35,1.85 0 1,0 -2.7,0M370.25,99.70a1.35,1.85 0 1,0 2.7,0a1.35,1.85 0 1,0 -2.7,0M388.85,99.70a1.35,1.85 0 1,0 2.7,0a1.35,1.85 0 1,0 -2.7,0M407.45,99.70a1.35,1.85 0 1,0 2.7,0a1.35,1.85 0 1,0 -2.7,0M426.05,99.70a1.35,1.85 0 1,0 2.7,0a1.35,1.85 0 1,0 -2.7,0M444.65,99.70a1.35,1.85 0 1,0 2.7,0a1.35,1.85 0 1,0 -2.7,0M463.25,99.70a1.35,1.85 0 1,0 2.7,0a1.35,1.85 0 1,0 -2.7,0M481.85,99.70a1.35,1.85 0 1,0 2.7,0a1.35,1.85 0 1,0 -2.7,0M500.45,99.70a1.35,1.85 0 1,0 2.7,0a1.35,1.85 0 1,0 -2.7,0M519.05,99.70a1.35,1.85 0 1,0 2.7,0a1.35,1.85 0 1,0 -2.7,0M537.65,99.70a1.35,1.85 0 1,0 2.7,0a1.35,1.85 0 1,0 -2.7,0M556.25,99.70a1.35,1.85 0 1,0 2.7,0a1.35,1.85 0 1,0 -2.7,0M574.85,99.70a1.35,1.85 0 1,0 2.7,0a1.35,1.85 0 1,0 -2.7,0M593.45,99.70a1.35,1.85 0 1,0 2.7,0a1.35,1.85 0 1,0 -2.7,0M62.79,113.94a1.35,1.85 0 1,0 2.7,0a1.35,1.85 0 1,0 -2.7,0M81.39,113.94a1.35,1.85 0 1,0 2.7,0a1.35,1.85 0 1,0 -2.7,0M99.99,113.94a1.35,1.85 0 1,0 2.7,0a1.35,1.85 0 1,0 -2.7,0M118.59,113.94a1.35,1.85 0 1,0 2.7,0a1.35,1.85 0 1,0 -2.7,0M137.19,113.94a1.35,1.85 0 1,0 2.7,0a1.35,1.85 0 1,0 -2.7,0M155.79,113.94a1.35,1.85 0 1,0 2.7,0a1.35,1.85 0 1,0 -2.7,0M174.39,113.94a1.35,1.85 0 1,0 2.7,0a1.35,1.85 0 1,0 -2.7,0M192.99,113.94a1.35,1.85 0 1,0 2.7,0a1.35,1.85 0 1,0 -2.7,0M211.59,113.94a1.35,1.85 0 1,0 2.7,0a1.35,1.85 0 1,0 -2.7,0M230.19,113.94a1.35,1.85 0 1,0 2.7,0a1.35,1.85 0 1,0 -2.7,0M248.79,113.94a1.35,1.85 0 1,0 2.7,0a1.35,1.85 0 1,0 -2.7,0M267.39,113.94a1.35,1.85 0 1,0 2.7,0a1.35,1.85 0 1,0 -2.7,0M285.99,113.94a1.35,1.85 0 1,0 2.7,0a1.35,1.85 0 1,0 -2.7,0M304.59,113.94a1.35,1.85 0 1,0 2.7,0a1.35,1.85 0 1,0 -2.7,0M323.19,113.94a1.35,1.85 0 1,0 2.7,0a1.35,1.85 0 1,0 -2.7,0M341.79,113.94a1.35,1.85 0 1,0 2.7,0a1.35,1.85 0 1,0 -2.7,0M360.39,113.94a1.35,1.85 0 1,0 2.7,0a1.35,1.85 0 1,0 -2.7,0M378.99,113.94a1.35,1.85 0 1,0 2.7,0a1.35,1.85 0 1,0 -2.7,0M397.59,113.94a1.35,1.85 0 1,0 2.7,0a1.35,1.85 0 1,0 -2.7,0M416.19,113.94a1.35,1.85 0 1,0 2.7,0a1.35,1.85 0 1,0 -2.7,0M434.79,113.94a1.35,1.85 0 1,0 2.7,0a1.35,1.85 0 1,0 -2.7,0M453.39,113.94a1.35,1.85 0 1,0 2.7,0a1.35,1.85 0 1,0 -2.7,0M471.99,113.94a1.35,1.85 0 1,0 2.7,0a1.35,1.85 0 1,0 -2.7,0M490.59,113.94a1.35,1.85 0 1,0 2.7,0a1.35,1.85 0 1,0 -2.7,0M509.19,113.94a1.35,1.85 0 1,0 2.7,0a1.35,1.85 0 1,0 -2.7,0M527.79,113.94a1.35,1.85 0 1,0 2.7,0a1.35,1.85 0 1,0 -2.7,0M546.39,113.94a1.35,1.85 0 1,0 2.7,0a1.35,1.85 0 1,0 -2.7,0M564.99,113.94a1.35,1.85 0 1,0 2.7,0a1.35,1.85 0 1,0 -2.7,0M583.59,113.94a1.35,1.85 0 1,0 2.7,0a1.35,1.85 0 1,0 -2.7,0M602.19,113.94a1.35,1.85 0 1,0 2.7,0a1.35,1.85 0 1,0 -2.7,0M53.13,128.18a1.35,1.85 0 1,0 2.7,0a1.35,1.85 0 1,0 -2.7,0M71.73,128.18a1.35,1.85 0 1,0 2.7,0a1.35,1.85 0 1,0 -2.7,0M90.33,128.18a1.35,1.85 0 1,0 2.7,0a1.35,1.85 0 1,0 -2.7,0M108.93,128.18a1.35,1.85 0 1,0 2.7,0a1.35,1.85 0 1,0 -2.7,0M127.53,128.18a1.35,1.85 0 1,0 2.7,0a1.35,1.85 0 1,0 -2.7,0M146.13,128.18a1.35,1.85 0 1,0 2.7,0a1.35,1.85 0 1,0 -2.7,0M164.73,128.18a1.35,1.85 0 1,0 2.7,0a1.35,1.85 0 1,0 -2.7,0M183.33,128.18a1.35,1.85 0 1,0 2.7,0a1.35,1.85 0 1,0 -2.7,0M201.93,128.18a1.35,1.85 0 1,0 2.7,0a1.35,1.85 0 1,0 -2.7,0M220.53,128.18a1.35,1.85 0 1,0 2.7,0a1.35,1.85 0 1,0 -2.7,0M239.13,128.18a1.35,1.85 0 1,0 2.7,0a1.35,1.85 0 1,0 -2.7,0M257.73,128.18a1.35,1.85 0 1,0 2.7,0a1.35,1.85 0 1,0 -2.7,0M276.33,128.18a1.35,1.85 0 1,0 2.7,0a1.35,1.85 0 1,0 -2.7,0M294.93,128.18a1.35,1.85 0 1,0 2.7,0a1.35,1.85 0 1,0 -2.7,0M313.53,128.18a1.35,1.85 0 1,0 2.7,0a1.35,1.85 0 1,0 -2.7,0M332.13,128.18a1.35,1.85 0 1,0 2.7,0a1.35,1.85 0 1,0 -2.7,0M350.73,128.18a1.35,1.85 0 1,0 2.7,0a1.35,1.85 0 1,0 -2.7,0M369.33,128.18a1.35,1.85 0 1,0 2.7,0a1.35,1.85 0 1,0 -2.7,0M387.93,128.18a1.35,1.85 0 1,0 2.7,0a1.35,1.85 0 1,0 -2.7,0M406.53,128.18a1.35,1.85 0 1,0 2.7,0a1.35,1.85 0 1,0 -2.7,0M425.13,128.18a1.35,1.85 0 1,0 2.7,0a1.35,1.85 0 1,0 -2.7,0M443.73,128.18a1.35,1.85 0 1,0 2.7,0a1.35,1.85 0 1,0 -2.7,0M462.33,128.18a1.35,1.85 0 1,0 2.7,0a1.35,1.85 0 1,0 -2.7,0M480.93,128.18a1.35,1.85 0 1,0 2.7,0a1.35,1.85 0 1,0 -2.7,0M499.53,128.18a1.35,1.85 0 1,0 2.7,0a1.35,1.85 0 1,0 -2.7,0M518.13,128.18a1.35,1.85 0 1,0 2.7,0a1.35,1.85 0 1,0 -2.7,0M536.73,128.18a1.35,1.85 0 1,0 2.7,0a1.35,1.85 0 1,0 -2.7,0M555.33,128.18a1.35,1.85 0 1,0 2.7,0a1.35,1.85 0 1,0 -2.7,0M573.93,128.18a1.35,1.85 0 1,0 2.7,0a1.35,1.85 0 1,0 -2.7,0M592.53,128.18a1.35,1.85 0 1,0 2.7,0a1.35,1.85 0 1,0 -2.7,0M61.87,142.42a1.35,1.85 0 1,0 2.7,0a1.35,1.85 0 1,0 -2.7,0M80.47,142.42a1.35,1.85 0 1,0 2.7,0a1.35,1.85 0 1,0 -2.7,0M99.07,142.42a1.35,1.85 0 1,0 2.7,0a1.35,1.85 0 1,0 -2.7,0M117.67,142.42a1.35,1.85 0 1,0 2.7,0a1.35,1.85 0 1,0 -2.7,0M136.27,142.42a1.35,1.85 0 1,0 2.7,0a1.35,1.85 0 1,0 -2.7,0M154.87,142.42a1.35,1.85 0 1,0 2.7,0a1.35,1.85 0 1,0 -2.7,0M173.47,142.42a1.35,1.85 0 1,0 2.7,0a1.35,1.85 0 1,0 -2.7,0M192.07,142.42a1.35,1.85 0 1,0 2.7,0a1.35,1.85 0 1,0 -2.7,0M210.67,142.42a1.35,1.85 0 1,0 2.7,0a1.35,1.85 0 1,0 -2.7,0M229.27,142.42a1.35,1.85 0 1,0 2.7,0a1.35,1.85 0 1,0 -2.7,0M247.87,142.42a1.35,1.85 0 1,0 2.7,0a1.35,1.85 0 1,0 -2.7,0M266.47,142.42a1.35,1.85 0 1,0 2.7,0a1.35,1.85 0 1,0 -2.7,0M285.07,142.42a1.35,1.85 0 1,0 2.7,0a1.35,1.85 0 1,0 -2.7,0M303.67,142.42a1.35,1.85 0 1,0 2.7,0a1.35,1.85 0 1,0 -2.7,0M322.27,142.42a1.35,1.85 0 1,0 2.7,0a1.35,1.85 0 1,0 -2.7,0M340.87,142.42a1.35,1.85 0 1,0 2.7,0a1.35,1.85 0 1,0 -2.7,0M359.47,142.42a1.35,1.85 0 1,0 2.7,0a1.35,1.85 0 1,0 -2.7,0M378.07,142.42a1.35,1.85 0 1,0 2.7,0a1.35,1.85 0 1,0 -2.7,0M396.67,142.42a1.35,1.85 0 1,0 2.7,0a1.35,1.85 0 1,0 -2.7,0M415.27,142.42a1.35,1.85 0 1,0 2.7,0a1.35,1.85 0 1,0 -2.7,0M433.87,142.42a1.35,1.85 0 1,0 2.7,0a1.35,1.85 0 1,0 -2.7,0M452.47,142.42a1.35,1.85 0 1,0 2.7,0a1.35,1.85 0 1,0 -2.7,0M471.07,142.42a1.35,1.85 0 1,0 2.7,0a1.35,1.85 0 1,0 -2.7,0M489.67,142.42a1.35,1.85 0 1,0 2.7,0a1.35,1.85 0 1,0 -2.7,0M508.27,142.42a1.35,1.85 0 1,0 2.7,0a1.35,1.85 0 1,0 -2.7,0M526.87,142.42a1.35,1.85 0 1,0 2.7,0a1.35,1.85 0 1,0 -2.7,0M545.47,142.42a1.35,1.85 0 1,0 2.7,0a1.35,1.85 0 1,0 -2.7,0M564.07,142.42a1.35,1.85 0 1,0 2.7,0a1.35,1.85 0 1,0 -2.7,0M582.67,142.42a1.35,1.85 0 1,0 2.7,0a1.35,1.85 0 1,0 -2.7,0M601.27,142.42a1.35,1.85 0 1,0 2.7,0a1.35,1.85 0 1,0 -2.7,0M52.21,156.66a1.35,1.85 0 1,0 2.7,0a1.35,1.85 0 1,0 -2.7,0M70.81,156.66a1.35,1.85 0 1,0 2.7,0a1.35,1.85 0 1,0 -2.7,0M89.41,156.66a1.35,1.85 0 1,0 2.7,0a1.35,1.85 0 1,0 -2.7,0M108.01,156.66a1.35,1.85 0 1,0 2.7,0a1.35,1.85 0 1,0 -2.7,0M126.61,156.66a1.35,1.85 0 1,0 2.7,0a1.35,1.85 0 1,0 -2.7,0M145.21,156.66a1.35,1.85 0 1,0 2.7,0a1.35,1.85 0 1,0 -2.7,0M163.81,156.66a1.35,1.85 0 1,0 2.7,0a1.35,1.85 0 1,0 -2.7,0M182.41,156.66a1.35,1.85 0 1,0 2.7,0a1.35,1.85 0 1,0 -2.7,0M201.01,156.66a1.35,1.85 0 1,0 2.7,0a1.35,1.85 0 1,0 -2.7,0M219.61,156.66a1.35,1.85 0 1,0 2.7,0a1.35,1.85 0 1,0 -2.7,0M238.21,156.66a1.35,1.85 0 1,0 2.7,0a1.35,1.85 0 1,0 -2.7,0M256.81,156.66a1.35,1.85 0 1,0 2.7,0a1.35,1.85 0 1,0 -2.7,0M275.41,156.66a1.35,1.85 0 1,0 2.7,0a1.35,1.85 0 1,0 -2.7,0M294.01,156.66a1.35,1.85 0 1,0 2.7,0a1.35,1.85 0 1,0 -2.7,0M312.61,156.66a1.35,1.85 0 1,0 2.7,0a1.35,1.85 0 1,0 -2.7,0M331.21,156.66a1.35,1.85 0 1,0 2.7,0a1.35,1.85 0 1,0 -2.7,0M349.81,156.66a1.35,1.85 0 1,0 2.7,0a1.35,1.85 0 1,0 -2.7,0M368.41,156.66a1.35,1.85 0 1,0 2.7,0a1.35,1.85 0 1,0 -2.7,0M387.01,156.66a1.35,1.85 0 1,0 2.7,0a1.35,1.85 0 1,0 -2.7,0M405.61,156.66a1.35,1.85 0 1,0 2.7,0a1.35,1.85 0 1,0 -2.7,0M424.21,156.66a1.35,1.85 0 1,0 2.7,0a1.35,1.85 0 1,0 -2.7,0M442.81,156.66a1.35,1.85 0 1,0 2.7,0a1.35,1.85 0 1,0 -2.7,0M461.41,156.66a1.35,1.85 0 1,0 2.7,0a1.35,1.85 0 1,0 -2.7,0M480.01,156.66a1.35,1.85 0 1,0 2.7,0a1.35,1.85 0 1,0 -2.7,0M498.61,156.66a1.35,1.85 0 1,0 2.7,0a1.35,1.85 0 1,0 -2.7,0M517.21,156.66a1.35,1.85 0 1,0 2.7,0a1.35,1.85 0 1,0 -2.7,0M535.81,156.66a1.35,1.85 0 1,0 2.7,0a1.35,1.85 0 1,0 -2.7,0M554.41,156.66a1.35,1.85 0 1,0 2.7,0a1.35,1.85 0 1,0 -2.7,0M573.01,156.66a1.35,1.85 0 1,0 2.7,0a1.35,1.85 0 1,0 -2.7,0M591.61,156.66a1.35,1.85 0 1,0 2.7,0a1.35,1.85 0 1,0 -2.7,0M60.95,170.90a1.35,1.85 0 1,0 2.7,0a1.35,1.85 0 1,0 -2.7,0M79.55,170.90a1.35,1.85 0 1,0 2.7,0a1.35,1.85 0 1,0 -2.7,0M98.15,170.90a1.35,1.85 0 1,0 2.7,0a1.35,1.85 0 1,0 -2.7,0M116.75,170.90a1.35,1.85 0 1,0 2.7,0a1.35,1.85 0 1,0 -2.7,0M135.35,170.90a1.35,1.85 0 1,0 2.7,0a1.35,1.85 0 1,0 -2.7,0M153.95,170.90a1.35,1.85 0 1,0 2.7,0a1.35,1.85 0 1,0 -2.7,0M172.55,170.90a1.35,1.85 0 1,0 2.7,0a1.35,1.85 0 1,0 -2.7,0M191.15,170.90a1.35,1.85 0 1,0 2.7,0a1.35,1.85 0 1,0 -2.7,0M209.75,170.90a1.35,1.85 0 1,0 2.7,0a1.35,1.85 0 1,0 -2.7,0M228.35,170.90a1.35,1.85 0 1,0 2.7,0a1.35,1.85 0 1,0 -2.7,0M246.95,170.90a1.35,1.85 0 1,0 2.7,0a1.35,1.85 0 1,0 -2.7,0M265.55,170.90a1.35,1.85 0 1,0 2.7,0a1.35,1.85 0 1,0 -2.7,0M284.15,170.90a1.35,1.85 0 1,0 2.7,0a1.35,1.85 0 1,0 -2.7,0M302.75,170.90a1.35,1.85 0 1,0 2.7,0a1.35,1.85 0 1,0 -2.7,0M321.35,170.90a1.35,1.85 0 1,0 2.7,0a1.35,1.85 0 1,0 -2.7,0M339.95,170.90a1.35,1.85 0 1,0 2.7,0a1.35,1.85 0 1,0 -2.7,0M358.55,170.90a1.35,1.85 0 1,0 2.7,0a1.35,1.85 0 1,0 -2.7,0M377.15,170.90a1.35,1.85 0 1,0 2.7,0a1.35,1.85 0 1,0 -2.7,0M395.75,170.90a1.35,1.85 0 1,0 2.7,0a1.35,1.85 0 1,0 -2.7,0M414.35,170.90a1.35,1.85 0 1,0 2.7,0a1.35,1.85 0 1,0 -2.7,0M432.95,170.90a1.35,1.85 0 1,0 2.7,0a1.35,1.85 0 1,0 -2.7,0M451.55,170.90a1.35,1.85 0 1,0 2.7,0a1.35,1.85 0 1,0 -2.7,0M470.15,170.90a1.35,1.85 0 1,0 2.7,0a1.35,1.85 0 1,0 -2.7,0M488.75,170.90a1.35,1.85 0 1,0 2.7,0a1.35,1.85 0 1,0 -2.7,0M507.35,170.90a1.35,1.85 0 1,0 2.7,0a1.35,1.85 0 1,0 -2.7,0M525.95,170.90a1.35,1.85 0 1,0 2.7,0a1.35,1.85 0 1,0 -2.7,0M544.55,170.90a1.35,1.85 0 1,0 2.7,0a1.35,1.85 0 1,0 -2.7,0M563.15,170.90a1.35,1.85 0 1,0 2.7,0a1.35,1.85 0 1,0 -2.7,0M581.75,170.90a1.35,1.85 0 1,0 2.7,0a1.35,1.85 0 1,0 -2.7,0M600.35,170.90a1.35,1.85 0 1,0 2.7,0a1.35,1.85 0 1,0 -2.7,0M51.29,185.14a1.35,1.85 0 1,0 2.7,0a1.35,1.85 0 1,0 -2.7,0M69.89,185.14a1.35,1.85 0 1,0 2.7,0a1.35,1.85 0 1,0 -2.7,0M88.49,185.14a1.35,1.85 0 1,0 2.7,0a1.35,1.85 0 1,0 -2.7,0M107.09,185.14a1.35,1.85 0 1,0 2.7,0a1.35,1.85 0 1,0 -2.7,0M125.69,185.14a1.35,1.85 0 1,0 2.7,0a1.35,1.85 0 1,0 -2.7,0M144.29,185.14a1.35,1.85 0 1,0 2.7,0a1.35,1.85 0 1,0 -2.7,0M162.89,185.14a1.35,1.85 0 1,0 2.7,0a1.35,1.85 0 1,0 -2.7,0M181.49,185.14a1.35,1.85 0 1,0 2.7,0a1.35,1.85 0 1,0 -2.7,0M200.09,185.14a1.35,1.85 0 1,0 2.7,0a1.35,1.85 0 1,0 -2.7,0M218.69,185.14a1.35,1.85 0 1,0 2.7,0a1.35,1.85 0 1,0 -2.7,0M237.29,185.14a1.35,1.85 0 1,0 2.7,0a1.35,1.85 0 1,0 -2.7,0M255.89,185.14a1.35,1.85 0 1,0 2.7,0a1.35,1.85 0 1,0 -2.7,0M274.49,185.14a1.35,1.85 0 1,0 2.7,0a1.35,1.85 0 1,0 -2.7,0M293.09,185.14a1.35,1.85 0 1,0 2.7,0a1.35,1.85 0 1,0 -2.7,0M311.69,185.14a1.35,1.85 0 1,0 2.7,0a1.35,1.85 0 1,0 -2.7,0M330.29,185.14a1.35,1.85 0 1,0 2.7,0a1.35,1.85 0 1,0 -2.7,0M348.89,185.14a1.35,1.85 0 1,0 2.7,0a1.35,1.85 0 1,0 -2.7,0M367.49,185.14a1.35,1.85 0 1,0 2.7,0a1.35,1.85 0 1,0 -2.7,0M386.09,185.14a1.35,1.85 0 1,0 2.7,0a1.35,1.85 0 1,0 -2.7,0M404.69,185.14a1.35,1.85 0 1,0 2.7,0a1.35,1.85 0 1,0 -2.7,0M423.29,185.14a1.35,1.85 0 1,0 2.7,0a1.35,1.85 0 1,0 -2.7,0M441.89,185.14a1.35,1.85 0 1,0 2.7,0a1.35,1.85 0 1,0 -2.7,0M460.49,185.14a1.35,1.85 0 1,0 2.7,0a1.35,1.85 0 1,0 -2.7,0M479.09,185.14a1.35,1.85 0 1,0 2.7,0a1.35,1.85 0 1,0 -2.7,0M497.69,185.14a1.35,1.85 0 1,0 2.7,0a1.35,1.85 0 1,0 -2.7,0M516.29,185.14a1.35,1.85 0 1,0 2.7,0a1.35,1.85 0 1,0 -2.7,0M534.89,185.14a1.35,1.85 0 1,0 2.7,0a1.35,1.85 0 1,0 -2.7,0M553.49,185.14a1.35,1.85 0 1,0 2.7,0a1.35,1.85 0 1,0 -2.7,0M572.09,185.14a1.35,1.85 0 1,0 2.7,0a1.35,1.85 0 1,0 -2.7,0M590.69,185.14a1.35,1.85 0 1,0 2.7,0a1.35,1.85 0 1,0 -2.7,0M60.03,199.38a1.35,1.85 0 1,0 2.7,0a1.35,1.85 0 1,0 -2.7,0M78.63,199.38a1.35,1.85 0 1,0 2.7,0a1.35,1.85 0 1,0 -2.7,0M97.23,199.38a1.35,1.85 0 1,0 2.7,0a1.35,1.85 0 1,0 -2.7,0M115.83,199.38a1.35,1.85 0 1,0 2.7,0a1.35,1.85 0 1,0 -2.7,0M134.43,199.38a1.35,1.85 0 1,0 2.7,0a1.35,1.85 0 1,0 -2.7,0M153.03,199.38a1.35,1.85 0 1,0 2.7,0a1.35,1.85 0 1,0 -2.7,0M171.63,199.38a1.35,1.85 0 1,0 2.7,0a1.35,1.85 0 1,0 -2.7,0M190.23,199.38a1.35,1.85 0 1,0 2.7,0a1.35,1.85 0 1,0 -2.7,0M208.83,199.38a1.35,1.85 0 1,0 2.7,0a1.35,1.85 0 1,0 -2.7,0M227.43,199.38a1.35,1.85 0 1,0 2.7,0a1.35,1.85 0 1,0 -2.7,0M246.03,199.38a1.35,1.85 0 1,0 2.7,0a1.35,1.85 0 1,0 -2.7,0M264.63,199.38a1.35,1.85 0 1,0 2.7,0a1.35,1.85 0 1,0 -2.7,0M283.23,199.38a1.35,1.85 0 1,0 2.7,0a1.35,1.85 0 1,0 -2.7,0M301.83,199.38a1.35,1.85 0 1,0 2.7,0a1.35,1.85 0 1,0 -2.7,0M320.43,199.38a1.35,1.85 0 1,0 2.7,0a1.35,1.85 0 1,0 -2.7,0M339.03,199.38a1.35,1.85 0 1,0 2.7,0a1.35,1.85 0 1,0 -2.7,0M357.63,199.38a1.35,1.85 0 1,0 2.7,0a1.35,1.85 0 1,0 -2.7,0M376.23,199.38a1.35,1.85 0 1,0 2.7,0a1.35,1.85 0 1,0 -2.7,0M394.83,199.38a1.35,1.85 0 1,0 2.7,0a1.35,1.85 0 1,0 -2.7,0M413.43,199.38a1.35,1.85 0 1,0 2.7,0a1.35,1.85 0 1,0 -2.7,0M432.03,199.38a1.35,1.85 0 1,0 2.7,0a1.35,1.85 0 1,0 -2.7,0M450.63,199.38a1.35,1.85 0 1,0 2.7,0a1.35,1.85 0 1,0 -2.7,0M469.23,199.38a1.35,1.85 0 1,0 2.7,0a1.35,1.85 0 1,0 -2.7,0M487.83,199.38a1.35,1.85 0 1,0 2.7,0a1.35,1.85 0 1,0 -2.7,0M506.43,199.38a1.35,1.85 0 1,0 2.7,0a1.35,1.85 0 1,0 -2.7,0M525.03,199.38a1.35,1.85 0 1,0 2.7,0a1.35,1.85 0 1,0 -2.7,0M543.63,199.38a1.35,1.85 0 1,0 2.7,0a1.35,1.85 0 1,0 -2.7,0M562.23,199.38a1.35,1.85 0 1,0 2.7,0a1.35,1.85 0 1,0 -2.7,0M580.83,199.38a1.35,1.85 0 1,0 2.7,0a1.35,1.85 0 1,0 -2.7,0M599.43,199.38a1.35,1.85 0 1,0 2.7,0a1.35,1.85 0 1,0 -2.7,0M50.37,213.62a1.35,1.85 0 1,0 2.7,0a1.35,1.85 0 1,0 -2.7,0M68.97,213.62a1.35,1.85 0 1,0 2.7,0a1.35,1.85 0 1,0 -2.7,0M87.57,213.62a1.35,1.85 0 1,0 2.7,0a1.35,1.85 0 1,0 -2.7,0M106.17,213.62a1.35,1.85 0 1,0 2.7,0a1.35,1.85 0 1,0 -2.7,0M124.77,213.62a1.35,1.85 0 1,0 2.7,0a1.35,1.85 0 1,0 -2.7,0M143.37,213.62a1.35,1.85 0 1,0 2.7,0a1.35,1.85 0 1,0 -2.7,0M161.97,213.62a1.35,1.85 0 1,0 2.7,0a1.35,1.85 0 1,0 -2.7,0M180.57,213.62a1.35,1.85 0 1,0 2.7,0a1.35,1.85 0 1,0 -2.7,0M199.17,213.62a1.35,1.85 0 1,0 2.7,0a1.35,1.85 0 1,0 -2.7,0M217.77,213.62a1.35,1.85 0 1,0 2.7,0a1.35,1.85 0 1,0 -2.7,0M236.37,213.62a1.35,1.85 0 1,0 2.7,0a1.35,1.85 0 1,0 -2.7,0M254.97,213.62a1.35,1.85 0 1,0 2.7,0a1.35,1.85 0 1,0 -2.7,0M273.57,213.62a1.35,1.85 0 1,0 2.7,0a1.35,1.85 0 1,0 -2.7,0M292.17,213.62a1.35,1.85 0 1,0 2.7,0a1.35,1.85 0 1,0 -2.7,0M310.77,213.62a1.35,1.85 0 1,0 2.7,0a1.35,1.85 0 1,0 -2.7,0M329.37,213.62a1.35,1.85 0 1,0 2.7,0a1.35,1.85 0 1,0 -2.7,0M347.97,213.62a1.35,1.85 0 1,0 2.7,0a1.35,1.85 0 1,0 -2.7,0M366.57,213.62a1.35,1.85 0 1,0 2.7,0a1.35,1.85 0 1,0 -2.7,0M385.17,213.62a1.35,1.85 0 1,0 2.7,0a1.35,1.85 0 1,0 -2.7,0M403.77,213.62a1.35,1.85 0 1,0 2.7,0a1.35,1.85 0 1,0 -2.7,0M422.37,213.62a1.35,1.85 0 1,0 2.7,0a1.35,1.85 0 1,0 -2.7,0M440.97,213.62a1.35,1.85 0 1,0 2.7,0a1.35,1.85 0 1,0 -2.7,0M459.57,213.62a1.35,1.85 0 1,0 2.7,0a1.35,1.85 0 1,0 -2.7,0M478.17,213.62a1.35,1.85 0 1,0 2.7,0a1.35,1.85 0 1,0 -2.7,0M496.77,213.62a1.35,1.85 0 1,0 2.7,0a1.35,1.85 0 1,0 -2.7,0M515.37,213.62a1.35,1.85 0 1,0 2.7,0a1.35,1.85 0 1,0 -2.7,0M533.97,213.62a1.35,1.85 0 1,0 2.7,0a1.35,1.85 0 1,0 -2.7,0M552.57,213.62a1.35,1.85 0 1,0 2.7,0a1.35,1.85 0 1,0 -2.7,0M571.17,213.62a1.35,1.85 0 1,0 2.7,0a1.35,1.85 0 1,0 -2.7,0M589.77,213.62a1.35,1.85 0 1,0 2.7,0a1.35,1.85 0 1,0 -2.7,0M59.11,227.86a1.35,1.85 0 1,0 2.7,0a1.35,1.85 0 1,0 -2.7,0M77.71,227.86a1.35,1.85 0 1,0 2.7,0a1.35,1.85 0 1,0 -2.7,0M96.31,227.86a1.35,1.85 0 1,0 2.7,0a1.35,1.85 0 1,0 -2.7,0M114.91,227.86a1.35,1.85 0 1,0 2.7,0a1.35,1.85 0 1,0 -2.7,0M133.51,227.86a1.35,1.85 0 1,0 2.7,0a1.35,1.85 0 1,0 -2.7,0M152.11,227.86a1.35,1.85 0 1,0 2.7,0a1.35,1.85 0 1,0 -2.7,0M170.71,227.86a1.35,1.85 0 1,0 2.7,0a1.35,1.85 0 1,0 -2.7,0M189.31,227.86a1.35,1.85 0 1,0 2.7,0a1.35,1.85 0 1,0 -2.7,0M207.91,227.86a1.35,1.85 0 1,0 2.7,0a1.35,1.85 0 1,0 -2.7,0M226.51,227.86a1.35,1.85 0 1,0 2.7,0a1.35,1.85 0 1,0 -2.7,0M245.11,227.86a1.35,1.85 0 1,0 2.7,0a1.35,1.85 0 1,0 -2.7,0M263.71,227.86a1.35,1.85 0 1,0 2.7,0a1.35,1.85 0 1,0 -2.7,0M282.31,227.86a1.35,1.85 0 1,0 2.7,0a1.35,1.85 0 1,0 -2.7,0M300.91,227.86a1.35,1.85 0 1,0 2.7,0a1.35,1.85 0 1,0 -2.7,0M319.51,227.86a1.35,1.85 0 1,0 2.7,0a1.35,1.85 0 1,0 -2.7,0M338.11,227.86a1.35,1.85 0 1,0 2.7,0a1.35,1.85 0 1,0 -2.7,0M356.71,227.86a1.35,1.85 0 1,0 2.7,0a1.35,1.85 0 1,0 -2.7,0M375.31,227.86a1.35,1.85 0 1,0 2.7,0a1.35,1.85 0 1,0 -2.7,0M393.91,227.86a1.35,1.85 0 1,0 2.7,0a1.35,1.85 0 1,0 -2.7,0M412.51,227.86a1.35,1.85 0 1,0 2.7,0a1.35,1.85 0 1,0 -2.7,0M431.11,227.86a1.35,1.85 0 1,0 2.7,0a1.35,1.85 0 1,0 -2.7,0M449.71,227.86a1.35,1.85 0 1,0 2.7,0a1.35,1.85 0 1,0 -2.7,0M468.31,227.86a1.35,1.85 0 1,0 2.7,0a1.35,1.85 0 1,0 -2.7,0M486.91,227.86a1.35,1.85 0 1,0 2.7,0a1.35,1.85 0 1,0 -2.7,0M505.51,227.86a1.35,1.85 0 1,0 2.7,0a1.35,1.85 0 1,0 -2.7,0M524.11,227.86a1.35,1.85 0 1,0 2.7,0a1.35,1.85 0 1,0 -2.7,0M542.71,227.86a1.35,1.85 0 1,0 2.7,0a1.35,1.85 0 1,0 -2.7,0M561.31,227.86a1.35,1.85 0 1,0 2.7,0a1.35,1.85 0 1,0 -2.7,0M579.91,227.86a1.35,1.85 0 1,0 2.7,0a1.35,1.85 0 1,0 -2.7,0M598.51,227.86a1.35,1.85 0 1,0 2.7,0a1.35,1.85 0 1,0 -2.7,0M49.45,242.10a1.35,1.85 0 1,0 2.7,0a1.35,1.85 0 1,0 -2.7,0M68.05,242.10a1.35,1.85 0 1,0 2.7,0a1.35,1.85 0 1,0 -2.7,0M86.65,242.10a1.35,1.85 0 1,0 2.7,0a1.35,1.85 0 1,0 -2.7,0M105.25,242.10a1.35,1.85 0 1,0 2.7,0a1.35,1.85 0 1,0 -2.7,0M123.85,242.10a1.35,1.85 0 1,0 2.7,0a1.35,1.85 0 1,0 -2.7,0M142.45,242.10a1.35,1.85 0 1,0 2.7,0a1.35,1.85 0 1,0 -2.7,0M161.05,242.10a1.35,1.85 0 1,0 2.7,0a1.35,1.85 0 1,0 -2.7,0M179.65,242.10a1.35,1.85 0 1,0 2.7,0a1.35,1.85 0 1,0 -2.7,0M198.25,242.10a1.35,1.85 0 1,0 2.7,0a1.35,1.85 0 1,0 -2.7,0M216.85,242.10a1.35,1.85 0 1,0 2.7,0a1.35,1.85 0 1,0 -2.7,0M235.45,242.10a1.35,1.85 0 1,0 2.7,0a1.35,1.85 0 1,0 -2.7,0M254.05,242.10a1.35,1.85 0 1,0 2.7,0a1.35,1.85 0 1,0 -2.7,0M272.65,242.10a1.35,1.85 0 1,0 2.7,0a1.35,1.85 0 1,0 -2.7,0M291.25,242.10a1.35,1.85 0 1,0 2.7,0a1.35,1.85 0 1,0 -2.7,0M309.85,242.10a1.35,1.85 0 1,0 2.7,0a1.35,1.85 0 1,0 -2.7,0M328.45,242.10a1.35,1.85 0 1,0 2.7,0a1.35,1.85 0 1,0 -2.7,0M347.05,242.10a1.35,1.85 0 1,0 2.7,0a1.35,1.85 0 1,0 -2.7,0M365.65,242.10a1.35,1.85 0 1,0 2.7,0a1.35,1.85 0 1,0 -2.7,0M384.25,242.10a1.35,1.85 0 1,0 2.7,0a1.35,1.85 0 1,0 -2.7,0M402.85,242.10a1.35,1.85 0 1,0 2.7,0a1.35,1.85 0 1,0 -2.7,0M421.45,242.10a1.35,1.85 0 1,0 2.7,0a1.35,1.85 0 1,0 -2.7,0M440.05,242.10a1.35,1.85 0 1,0 2.7,0a1.35,1.85 0 1,0 -2.7,0M458.65,242.10a1.35,1.85 0 1,0 2.7,0a1.35,1.85 0 1,0 -2.7,0M477.25,242.10a1.35,1.85 0 1,0 2.7,0a1.35,1.85 0 1,0 -2.7,0M495.85,242.10a1.35,1.85 0 1,0 2.7,0a1.35,1.85 0 1,0 -2.7,0M514.45,242.10a1.35,1.85 0 1,0 2.7,0a1.35,1.85 0 1,0 -2.7,0M533.05,242.10a1.35,1.85 0 1,0 2.7,0a1.35,1.85 0 1,0 -2.7,0M551.65,242.10a1.35,1.85 0 1,0 2.7,0a1.35,1.85 0 1,0 -2.7,0M570.25,242.10a1.35,1.85 0 1,0 2.7,0a1.35,1.85 0 1,0 -2.7,0M588.85,242.10a1.35,1.85 0 1,0 2.7,0a1.35,1.85 0 1,0 -2.7,0M58.19,256.34a1.35,1.85 0 1,0 2.7,0a1.35,1.85 0 1,0 -2.7,0M76.79,256.34a1.35,1.85 0 1,0 2.7,0a1.35,1.85 0 1,0 -2.7,0M95.39,256.34a1.35,1.85 0 1,0 2.7,0a1.35,1.85 0 1,0 -2.7,0M113.99,256.34a1.35,1.85 0 1,0 2.7,0a1.35,1.85 0 1,0 -2.7,0M132.59,256.34a1.35,1.85 0 1,0 2.7,0a1.35,1.85 0 1,0 -2.7,0M151.19,256.34a1.35,1.85 0 1,0 2.7,0a1.35,1.85 0 1,0 -2.7,0M169.79,256.34a1.35,1.85 0 1,0 2.7,0a1.35,1.85 0 1,0 -2.7,0M188.39,256.34a1.35,1.85 0 1,0 2.7,0a1.35,1.85 0 1,0 -2.7,0M206.99,256.34a1.35,1.85 0 1,0 2.7,0a1.35,1.85 0 1,0 -2.7,0M225.59,256.34a1.35,1.85 0 1,0 2.7,0a1.35,1.85 0 1,0 -2.7,0M244.19,256.34a1.35,1.85 0 1,0 2.7,0a1.35,1.85 0 1,0 -2.7,0M262.79,256.34a1.35,1.85 0 1,0 2.7,0a1.35,1.85 0 1,0 -2.7,0M281.39,256.34a1.35,1.85 0 1,0 2.7,0a1.35,1.85 0 1,0 -2.7,0M299.99,256.34a1.35,1.85 0 1,0 2.7,0a1.35,1.85 0 1,0 -2.7,0M318.59,256.34a1.35,1.85 0 1,0 2.7,0a1.35,1.85 0 1,0 -2.7,0M337.19,256.34a1.35,1.85 0 1,0 2.7,0a1.35,1.85 0 1,0 -2.7,0M355.79,256.34a1.35,1.85 0 1,0 2.7,0a1.35,1.85 0 1,0 -2.7,0M374.39,256.34a1.35,1.85 0 1,0 2.7,0a1.35,1.85 0 1,0 -2.7,0M392.99,256.34a1.35,1.85 0 1,0 2.7,0a1.35,1.85 0 1,0 -2.7,0M411.59,256.34a1.35,1.85 0 1,0 2.7,0a1.35,1.85 0 1,0 -2.7,0M430.19,256.34a1.35,1.85 0 1,0 2.7,0a1.35,1.85 0 1,0 -2.7,0M448.79,256.34a1.35,1.85 0 1,0 2.7,0a1.35,1.85 0 1,0 -2.7,0M467.39,256.34a1.35,1.85 0 1,0 2.7,0a1.35,1.85 0 1,0 -2.7,0M485.99,256.34a1.35,1.85 0 1,0 2.7,0a1.35,1.85 0 1,0 -2.7,0M504.59,256.34a1.35,1.85 0 1,0 2.7,0a1.35,1.85 0 1,0 -2.7,0M523.19,256.34a1.35,1.85 0 1,0 2.7,0a1.35,1.85 0 1,0 -2.7,0M541.79,256.34a1.35,1.85 0 1,0 2.7,0a1.35,1.85 0 1,0 -2.7,0M560.39,256.34a1.35,1.85 0 1,0 2.7,0a1.35,1.85 0 1,0 -2.7,0M578.99,256.34a1.35,1.85 0 1,0 2.7,0a1.35,1.85 0 1,0 -2.7,0M597.59,256.34a1.35,1.85 0 1,0 2.7,0a1.35,1.85 0 1,0 -2.7,0" fill="#fff" stroke="#111" stroke-width="0.9"/>
<path d="M54.65,94.50a0.75,0.75 0 1,0 1.5,0a0.75,0.75 0 1,0 -1.5,0M54.65,101.90a0.75,0.75 0 1,0 1.5,0a0.75,0.75 0 1,0 -1.5,0M73.25,94.50a0.75,0.75 0 1,0 1.5,0a0.75,0.75 0 1,0 -1.5,0M73.25,101.90a0.75,0.75 0 1,0 1.5,0a0.75,0.75 0 1,0 -1.5,0M91.85,94.50a0.75,0.75 0 1,0 1.5,0a0.75,0.75 0 1,0 -1.5,0M91.85,101.90a0.75,0.75 0 1,0 1.5,0a0.75,0.75 0 1,0 -1.5,0M110.45,94.50a0.75,0.75 0 1,0 1.5,0a0.75,0.75 0 1,0 -1.5,0M110.45,101.90a0.75,0.75 0 1,0 1.5,0a0.75,0.75 0 1,0 -1.5,0M129.05,94.50a0.75,0.75 0 1,0 1.5,0a0.75,0.75 0 1,0 -1.5,0M129.05,101.90a0.75,0.75 0 1,0 1.5,0a0.75,0.75 0 1,0 -1.5,0M147.65,94.50a0.75,0.75 0 1,0 1.5,0a0.75,0.75 0 1,0 -1.5,0M147.65,101.90a0.75,0.75 0 1,0 1.5,0a0.75,0.75 0 1,0 -1.5,0M166.25,94.50a0.75,0.75 0 1,0 1.5,0a0.75,0.75 0 1,0 -1.5,0M166.25,101.90a0.75,0.75 0 1,0 1.5,0a0.75,0.75 0 1,0 -1.5,0M184.85,94.50a0.75,0.75 0 1,0 1.5,0a0.75,0.75 0 1,0 -1.5,0M184.85,101.90a0.75,0.75 0 1,0 1.5,0a0.75,0.75 0 1,0 -1.5,0M203.45,94.50a0.75,0.75 0 1,0 1.5,0a0.75,0.75 0 1,0 -1.5,0M203.45,101.90a0.75,0.75 0 1,0 1.5,0a0.75,0.75 0 1,0 -1.5,0M222.05,94.50a0.75,0.75 0 1,0 1.5,0a0.75,0.75 0 1,0 -1.5,0M222.05,101.90a0.75,0.75 0 1,0 1.5,0a0.75,0.75 0 1,0 -1.5,0M240.65,94.50a0.75,0.75 0 1,0 1.5,0a0.75,0.75 0 1,0 -1.5,0M240.65,101.90a0.75,0.75 0 1,0 1.5,0a0.75,0.75 0 1,0 -1.5,0M259.25,94.50a0.75,0.75 0 1,0 1.5,0a0.75,0.75 0 1,0 -1.5,0M259.25,101.90a0.75,0.75 0 1,0 1.5,0a0.75,0.75 0 1,0 -1.5,0M277.85,94.50a0.75,0.75 0 1,0 1.5,0a0.75,0.75 0 1,0 -1.5,0M277.85,101.90a0.75,0.75 0 1,0 1.5,0a0.75,0.75 0 1,0 -1.5,0M296.45,94.50a0.75,0.75 0 1,0 1.5,0a0.75,0.75 0 1,0 -1.5,0M296.45,101.90a0.75,0.75 0 1,0 1.5,0a0.75,0.75 0 1,0 -1.5,0M315.05,94.50a0.75,0.75 0 1,0 1.5,0a0.75,0.75 0 1,0 -1.5,0M315.05,101.90a0.75,0.75 0 1,0 1.5,0a0.75,0.75 0 1,0 -1.5,0M333.65,94.50a0.75,0.75 0 1,0 1.5,0a0.75,0.75 0 1,0 -1.5,0M333.65,101.90a0.75,0.75 0 1,0 1.5,0a0.75,0.75 0 1,0 -1.5,0M352.25,94.50a0.75,0.75 0 1,0 1.5,0a0.75,0.75 0 1,0 -1.5,0M352.25,101.90a0.75,0.75 0 1,0 1.5,0a0.75,0.75 0 1,0 -1.5,0M370.85,94.50a0.75,0.75 0 1,0 1.5,0a0.75,0.75 0 1,0 -1.5,0M370.85,101.90a0.75,0.75 0 1,0 1.5,0a0.75,0.75 0 1,0 -1.5,0M389.45,94.50a0.75,0.75 0 1,0 1.5,0a0.75,0.75 0 1,0 -1.5,0M389.45,101.90a0.75,0.75 0 1,0 1.5,0a0.75,0.75 0 1,0 -1.5,0M408.05,94.50a0.75,0.75 0 1,0 1.5,0a0.75,0.75 0 1,0 -1.5,0M408.05,101.90a0.75,0.75 0 1,0 1.5,0a0.75,0.75 0 1,0 -1.5,0M426.65,94.50a0.75,0.75 0 1,0 1.5,0a0.75,0.75 0 1,0 -1.5,0M426.65,101.90a0.75,0.75 0 1,0 1.5,0a0.75,0.75 0 1,0 -1.5,0M445.25,94.50a0.75,0.75 0 1,0 1.5,0a0.75,0.75 0 1,0 -1.5,0M445.25,101.90a0.75,0.75 0 1,0 1.5,0a0.75,0.75 0 1,0 -1.5,0M463.85,94.50a0.75,0.75 0 1,0 1.5,0a0.75,0.75 0 1,0 -1.5,0M463.85,101.90a0.75,0.75 0 1,0 1.5,0a0.75,0.75 0 1,0 -1.5,0M482.45,94.50a0.75,0.75 0 1,0 1.5,0a0.75,0.75 0 1,0 -1.5,0M482.45,101.90a0.75,0.75 0 1,0 1.5,0a0.75,0.75 0 1,0 -1.5,0M501.05,94.50a0.75,0.75 0 1,0 1.5,0a0.75,0.75 0 1,0 -1.5,0M501.05,101.90a0.75,0.75 0 1,0 1.5,0a0.75,0.75 0 1,0 -1.5,0M519.65,94.50a0.75,0.75 0 1,0 1.5,0a0.75,0.75 0 1,0 -1.5,0M519.65,101.90a0.75,0.75 0 1,0 1.5,0a0.75,0.75 0 1,0 -1.5,0M538.25,94.50a0.75,0.75 0 1,0 1.5,0a0.75,0.75 0 1,0 -1.5,0M538.25,101.90a0.75,0.75 0 1,0 1.5,0a0.75,0.75 0 1,0 -1.5,0M556.85,94.50a0.75,0.75 0 1,0 1.5,0a0.75,0.75 0 1,0 -1.5,0M556.85,101.90a0.75,0.75 0 1,0 1.5,0a0.75,0.75 0 1,0 -1.5,0M575.45,94.50a0.75,0.75 0 1,0 1.5,0a0.75,0.75 0 1,0 -1.5,0M575.45,101.90a0.75,0.75 0 1,0 1.5,0a0.75,0.75 0 1,0 -1.5,0M594.05,94.50a0.75,0.75 0 1,0 1.5,0a0.75,0.75 0 1,0 -1.5,0M594.05,101.90a0.75,0.75 0 1,0 1.5,0a0.75,0.75 0 1,0 -1.5,0M63.39,108.74a0.75,0.75 0 1,0 1.5,0a0.75,0.75 0 1,0 -1.5,0M63.39,116.14a0.75,0.75 0 1,0 1.5,0a0.75,0.75 0 1,0 -1.5,0M81.99,108.74a0.75,0.75 0 1,0 1.5,0a0.75,0.75 0 1,0 -1.5,0M81.99,116.14a0.75,0.75 0 1,0 1.5,0a0.75,0.75 0 1,0 -1.5,0M100.59,108.74a0.75,0.75 0 1,0 1.5,0a0.75,0.75 0 1,0 -1.5,0M100.59,116.14a0.75,0.75 0 1,0 1.5,0a0.75,0.75 0 1,0 -1.5,0M119.19,108.74a0.75,0.75 0 1,0 1.5,0a0.75,0.75 0 1,0 -1.5,0M119.19,116.14a0.75,0.75 0 1,0 1.5,0a0.75,0.75 0 1,0 -1.5,0M137.79,108.74a0.75,0.75 0 1,0 1.5,0a0.75,0.75 0 1,0 -1.5,0M137.79,116.14a0.75,0.75 0 1,0 1.5,0a0.75,0.75 0 1,0 -1.5,0M156.39,108.74a0.75,0.75 0 1,0 1.5,0a0.75,0.75 0 1,0 -1.5,0M156.39,116.14a0.75,0.75 0 1,0 1.5,0a0.75,0.75 0 1,0 -1.5,0M174.99,108.74a0.75,0.75 0 1,0 1.5,0a0.75,0.75 0 1,0 -1.5,0M174.99,116.14a0.75,0.75 0 1,0 1.5,0a0.75,0.75 0 1,0 -1.5,0M193.59,108.74a0.75,0.75 0 1,0 1.5,0a0.75,0.75 0 1,0 -1.5,0M193.59,116.14a0.75,0.75 0 1,0 1.5,0a0.75,0.75 0 1,0 -1.5,0M212.19,108.74a0.75,0.75 0 1,0 1.5,0a0.75,0.75 0 1,0 -1.5,0M212.19,116.14a0.75,0.75 0 1,0 1.5,0a0.75,0.75 0 1,0 -1.5,0M230.79,108.74a0.75,0.75 0 1,0 1.5,0a0.75,0.75 0 1,0 -1.5,0M230.79,116.14a0.75,0.75 0 1,0 1.5,0a0.75,0.75 0 1,0 -1.5,0M249.39,108.74a0.75,0.75 0 1,0 1.5,0a0.75,0.75 0 1,0 -1.5,0M249.39,116.14a0.75,0.75 0 1,0 1.5,0a0.75,0.75 0 1,0 -1.5,0M267.99,108.74a0.75,0.75 0 1,0 1.5,0a0.75,0.75 0 1,0 -1.5,0M267.99,116.14a0.75,0.75 0 1,0 1.5,0a0.75,0.75 0 1,0 -1.5,0M286.59,108.74a0.75,0.75 0 1,0 1.5,0a0.75,0.75 0 1,0 -1.5,0M286.59,116.14a0.75,0.75 0 1,0 1.5,0a0.75,0.75 0 1,0 -1.5,0M305.19,108.74a0.75,0.75 0 1,0 1.5,0a0.75,0.75 0 1,0 -1.5,0M305.19,116.14a0.75,0.75 0 1,0 1.5,0a0.75,0.75 0 1,0 -1.5,0M323.79,108.74a0.75,0.75 0 1,0 1.5,0a0.75,0.75 0 1,0 -1.5,0M323.79,116.14a0.75,0.75 0 1,0 1.5,0a0.75,0.75 0 1,0 -1.5,0M342.39,108.74a0.75,0.75 0 1,0 1.5,0a0.75,0.75 0 1,0 -1.5,0M342.39,116.14a0.75,0.75 0 1,0 1.5,0a0.75,0.75 0 1,0 -1.5,0M360.99,108.74a0.75,0.75 0 1,0 1.5,0a0.75,0.75 0 1,0 -1.5,0M360.99,116.14a0.75,0.75 0 1,0 1.5,0a0.75,0.75 0 1,0 -1.5,0M379.59,108.74a0.75,0.75 0 1,0 1.5,0a0.75,0.75 0 1,0 -1.5,0M379.59,116.14a0.75,0.75 0 1,0 1.5,0a0.75,0.75 0 1,0 -1.5,0M398.19,108.74a0.75,0.75 0 1,0 1.5,0a0.75,0.75 0 1,0 -1.5,0M398.19,116.14a0.75,0.75 0 1,0 1.5,0a0.75,0.75 0 1,0 -1.5,0M416.79,108.74a0.75,0.75 0 1,0 1.5,0a0.75,0.75 0 1,0 -1.5,0M416.79,116.14a0.75,0.75 0 1,0 1.5,0a0.75,0.75 0 1,0 -1.5,0M435.39,108.74a0.75,0.75 0 1,0 1.5,0a0.75,0.75 0 1,0 -1.5,0M435.39,116.14a0.75,0.75 0 1,0 1.5,0a0.75,0.75 0 1,0 -1.5,0M453.99,108.74a0.75,0.75 0 1,0 1.5,0a0.75,0.75 0 1,0 -1.5,0M453.99,116.14a0.75,0.75 0 1,0 1.5,0a0.75,0.75 0 1,0 -1.5,0M472.59,108.74a0.75,0.75 0 1,0 1.5,0a0.75,0.75 0 1,0 -1.5,0M472.59,116.14a0.75,0.75 0 1,0 1.5,0a0.75,0.75 0 1,0 -1.5,0M491.19,108.74a0.75,0.75 0 1,0 1.5,0a0.75,0.75 0 1,0 -1.5,0M491.19,116.14a0.75,0.75 0 1,0 1.5,0a0.75,0.75 0 1,0 -1.5,0M509.79,108.74a0.75,0.75 0 1,0 1.5,0a0.75,0.75 0 1,0 -1.5,0M509.79,116.14a0.75,0.75 0 1,0 1.5,0a0.75,0.75 0 1,0 -1.5,0M528.39,108.74a0.75,0.75 0 1,0 1.5,0a0.75,0.75 0 1,0 -1.5,0M528.39,116.14a0.75,0.75 0 1,0 1.5,0a0.75,0.75 0 1,0 -1.5,0M546.99,108.74a0.75,0.75 0 1,0 1.5,0a0.75,0.75 0 1,0 -1.5,0M546.99,116.14a0.75,0.75 0 1,0 1.5,0a0.75,0.75 0 1,0 -1.5,0M565.59,108.74a0.75,0.75 0 1,0 1.5,0a0.75,0.75 0 1,0 -1.5,0M565.59,116.14a0.75,0.75 0 1,0 1.5,0a0.75,0.75 0 1,0 -1.5,0M584.19,108.74a0.75,0.75 0 1,0 1.5,0a0.75,0.75 0 1,0 -1.5,0M584.19,116.14a0.75,0.75 0 1,0 1.5,0a0.75,0.75 0 1,0 -1.5,0M602.79,108.74a0.75,0.75 0 1,0 1.5,0a0.75,0.75 0 1,0 -1.5,0M602.79,116.14a0.75,0.75 0 1,0 1.5,0a0.75,0.75 0 1,0 -1.5,0M53.73,122.98a0.75,0.75 0 1,0 1.5,0a0.75,0.75 0 1,0 -1.5,0M53.73,130.38a0.75,0.75 0 1,0 1.5,0a0.75,0.75 0 1,0 -1.5,0M72.33,122.98a0.75,0.75 0 1,0 1.5,0a0.75,0.75 0 1,0 -1.5,0M72.33,130.38a0.75,0.75 0 1,0 1.5,0a0.75,0.75 0 1,0 -1.5,0M90.93,122.98a0.75,0.75 0 1,0 1.5,0a0.75,0.75 0 1,0 -1.5,0M90.93,130.38a0.75,0.75 0 1,0 1.5,0a0.75,0.75 0 1,0 -1.5,0M109.53,122.98a0.75,0.75 0 1,0 1.5,0a0.75,0.75 0 1,0 -1.5,0M109.53,130.38a0.75,0.75 0 1,0 1.5,0a0.75,0.75 0 1,0 -1.5,0M128.13,122.98a0.75,0.75 0 1,0 1.5,0a0.75,0.75 0 1,0 -1.5,0M128.13,130.38a0.75,0.75 0 1,0 1.5,0a0.75,0.75 0 1,0 -1.5,0M146.73,122.98a0.75,0.75 0 1,0 1.5,0a0.75,0.75 0 1,0 -1.5,0M146.73,130.38a0.75,0.75 0 1,0 1.5,0a0.75,0.75 0 1,0 -1.5,0M165.33,122.98a0.75,0.75 0 1,0 1.5,0a0.75,0.75 0 1,0 -1.5,0M165.33,130.38a0.75,0.75 0 1,0 1.5,0a0.75,0.75 0 1,0 -1.5,0M183.93,122.98a0.75,0.75 0 1,0 1.5,0a0.75,0.75 0 1,0 -1.5,0M183.93,130.38a0.75,0.75 0 1,0 1.5,0a0.75,0.75 0 1,0 -1.5,0M202.53,122.98a0.75,0.75 0 1,0 1.5,0a0.75,0.75 0 1,0 -1.5,0M202.53,130.38a0.75,0.75 0 1,0 1.5,0a0.75,0.75 0 1,0 -1.5,0M221.13,122.98a0.75,0.75 0 1,0 1.5,0a0.75,0.75 0 1,0 -1.5,0M221.13,130.38a0.75,0.75 0 1,0 1.5,0a0.75,0.75 0 1,0 -1.5,0M239.73,122.98a0.75,0.75 0 1,0 1.5,0a0.75,0.75 0 1,0 -1.5,0M239.73,130.38a0.75,0.75 0 1,0 1.5,0a0.75,0.75 0 1,0 -1.5,0M258.33,122.98a0.75,0.75 0 1,0 1.5,0a0.75,0.75 0 1,0 -1.5,0M258.33,130.38a0.75,0.75 0 1,0 1.5,0a0.75,0.75 0 1,0 -1.5,0M276.93,122.98a0.75,0.75 0 1,0 1.5,0a0.75,0.75 0 1,0 -1.5,0M276.93,130.38a0.75,0.75 0 1,0 1.5,0a0.75,0.75 0 1,0 -1.5,0M295.53,122.98a0.75,0.75 0 1,0 1.5,0a0.75,0.75 0 1,0 -1.5,0M295.53,130.38a0.75,0.75 0 1,0 1.5,0a0.75,0.75 0 1,0 -1.5,0M314.13,122.98a0.75,0.75 0 1,0 1.5,0a0.75,0.75 0 1,0 -1.5,0M314.13,130.38a0.75,0.75 0 1,0 1.5,0a0.75,0.75 0 1,0 -1.5,0M332.73,122.98a0.75,0.75 0 1,0 1.5,0a0.75,0.75 0 1,0 -1.5,0M332.73,130.38a0.75,0.75 0 1,0 1.5,0a0.75,0.75 0 1,0 -1.5,0M351.33,122.98a0.75,0.75 0 1,0 1.5,0a0.75,0.75 0 1,0 -1.5,0M351.33,130.38a0.75,0.75 0 1,0 1.5,0a0.75,0.75 0 1,0 -1.5,0M369.93,122.98a0.75,0.75 0 1,0 1.5,0a0.75,0.75 0 1,0 -1.5,0M369.93,130.38a0.75,0.75 0 1,0 1.5,0a0.75,0.75 0 1,0 -1.5,0M388.53,122.98a0.75,0.75 0 1,0 1.5,0a0.75,0.75 0 1,0 -1.5,0M388.53,130.38a0.75,0.75 0 1,0 1.5,0a0.75,0.75 0 1,0 -1.5,0M407.13,122.98a0.75,0.75 0 1,0 1.5,0a0.75,0.75 0 1,0 -1.5,0M407.13,130.38a0.75,0.75 0 1,0 1.5,0a0.75,0.75 0 1,0 -1.5,0M425.73,122.98a0.75,0.75 0 1,0 1.5,0a0.75,0.75 0 1,0 -1.5,0M425.73,130.38a0.75,0.75 0 1,0 1.5,0a0.75,0.75 0 1,0 -1.5,0M444.33,122.98a0.75,0.75 0 1,0 1.5,0a0.75,0.75 0 1,0 -1.5,0M444.33,130.38a0.75,0.75 0 1,0 1.5,0a0.75,0.75 0 1,0 -1.5,0M462.93,122.98a0.75,0.75 0 1,0 1.5,0a0.75,0.75 0 1,0 -1.5,0M462.93,130.38a0.75,0.75 0 1,0 1.5,0a0.75,0.75 0 1,0 -1.5,0M481.53,122.98a0.75,0.75 0 1,0 1.5,0a0.75,0.75 0 1,0 -1.5,0M481.53,130.38a0.75,0.75 0 1,0 1.5,0a0.75,0.75 0 1,0 -1.5,0M500.13,122.98a0.75,0.75 0 1,0 1.5,0a0.75,0.75 0 1,0 -1.5,0M500.13,130.38a0.75,0.75 0 1,0 1.5,0a0.75,0.75 0 1,0 -1.5,0M518.73,122.98a0.75,0.75 0 1,0 1.5,0a0.75,0.75 0 1,0 -1.5,0M518.73,130.38a0.75,0.75 0 1,0 1.5,0a0.75,0.75 0 1,0 -1.5,0M537.33,122.98a0.75,0.75 0 1,0 1.5,0a0.75,0.75 0 1,0 -1.5,0M537.33,130.38a0.75,0.75 0 1,0 1.5,0a0.75,0.75 0 1,0 -1.5,0M555.93,122.98a0.75,0.75 0 1,0 1.5,0a0.75,0.75 0 1,0 -1.5,0M555.93,130.38a0.75,0.75 0 1,0 1.5,0a0.75,0.75 0 1,0 -1.5,0M574.53,122.98a0.75,0.75 0 1,0 1.5,0a0.75,0.75 0 1,0 -1.5,0M574.53,130.38a0.75,0.75 0 1,0 1.5,0a0.75,0.75 0 1,0 -1.5,0M593.13,122.98a0.75,0.75 0 1,0 1.5,0a0.75,0.75 0 1,0 -1.5,0M593.13,130.38a0.75,0.75 0 1,0 1.5,0a0.75,0.75 0 1,0 -1.5,0M62.47,137.22a0.75,0.75 0 1,0 1.5,0a0.75,0.75 0 1,0 -1.5,0M62.47,144.62a0.75,0.75 0 1,0 1.5,0a0.75,0.75 0 1,0 -1.5,0M81.07,137.22a0.75,0.75 0 1,0 1.5,0a0.75,0.75 0 1,0 -1.5,0M81.07,144.62a0.75,0.75 0 1,0 1.5,0a0.75,0.75 0 1,0 -1.5,0M99.67,137.22a0.75,0.75 0 1,0 1.5,0a0.75,0.75 0 1,0 -1.5,0M99.67,144.62a0.75,0.75 0 1,0 1.5,0a0.75,0.75 0 1,0 -1.5,0M118.27,137.22a0.75,0.75 0 1,0 1.5,0a0.75,0.75 0 1,0 -1.5,0M118.27,144.62a0.75,0.75 0 1,0 1.5,0a0.75,0.75 0 1,0 -1.5,0M136.87,137.22a0.75,0.75 0 1,0 1.5,0a0.75,0.75 0 1,0 -1.5,0M136.87,144.62a0.75,0.75 0 1,0 1.5,0a0.75,0.75 0 1,0 -1.5,0M155.47,137.22a0.75,0.75 0 1,0 1.5,0a0.75,0.75 0 1,0 -1.5,0M155.47,144.62a0.75,0.75 0 1,0 1.5,0a0.75,0.75 0 1,0 -1.5,0M174.07,137.22a0.75,0.75 0 1,0 1.5,0a0.75,0.75 0 1,0 -1.5,0M174.07,144.62a0.75,0.75 0 1,0 1.5,0a0.75,0.75 0 1,0 -1.5,0M192.67,137.22a0.75,0.75 0 1,0 1.5,0a0.75,0.75 0 1,0 -1.5,0M192.67,144.62a0.75,0.75 0 1,0 1.5,0a0.75,0.75 0 1,0 -1.5,0M211.27,137.22a0.75,0.75 0 1,0 1.5,0a0.75,0.75 0 1,0 -1.5,0M211.27,144.62a0.75,0.75 0 1,0 1.5,0a0.75,0.75 0 1,0 -1.5,0M229.87,137.22a0.75,0.75 0 1,0 1.5,0a0.75,0.75 0 1,0 -1.5,0M229.87,144.62a0.75,0.75 0 1,0 1.5,0a0.75,0.75 0 1,0 -1.5,0M248.47,137.22a0.75,0.75 0 1,0 1.5,0a0.75,0.75 0 1,0 -1.5,0M248.47,144.62a0.75,0.75 0 1,0 1.5,0a0.75,0.75 0 1,0 -1.5,0M267.07,137.22a0.75,0.75 0 1,0 1.5,0a0.75,0.75 0 1,0 -1.5,0M267.07,144.62a0.75,0.75 0 1,0 1.5,0a0.75,0.75 0 1,0 -1.5,0M285.67,137.22a0.75,0.75 0 1,0 1.5,0a0.75,0.75 0 1,0 -1.5,0M285.67,144.62a0.75,0.75 0 1,0 1.5,0a0.75,0.75 0 1,0 -1.5,0M304.27,137.22a0.75,0.75 0 1,0 1.5,0a0.75,0.75 0 1,0 -1.5,0M304.27,144.62a0.75,0.75 0 1,0 1.5,0a0.75,0.75 0 1,0 -1.5,0M322.87,137.22a0.75,0.75 0 1,0 1.5,0a0.75,0.75 0 1,0 -1.5,0M322.87,144.62a0.75,0.75 0 1,0 1.5,0a0.75,0.75 0 1,0 -1.5,0M341.47,137.22a0.75,0.75 0 1,0 1.5,0a0.75,0.75 0 1,0 -1.5,0M341.47,144.62a0.75,0.75 0 1,0 1.5,0a0.75,0.75 0 1,0 -1.5,0M360.07,137.22a0.75,0.75 0 1,0 1.5,0a0.75,0.75 0 1,0 -1.5,0M360.07,144.62a0.75,0.75 0 1,0 1.5,0a0.75,0.75 0 1,0 -1.5,0M378.67,137.22a0.75,0.75 0 1,0 1.5,0a0.75,0.75 0 1,0 -1.5,0M378.67,144.62a0.75,0.75 0 1,0 1.5,0a0.75,0.75 0 1,0 -1.5,0M397.27,137.22a0.75,0.75 0 1,0 1.5,0a0.75,0.75 0 1,0 -1.5,0M397.27,144.62a0.75,0.75 0 1,0 1.5,0a0.75,0.75 0 1,0 -1.5,0M415.87,137.22a0.75,0.75 0 1,0 1.5,0a0.75,0.75 0 1,0 -1.5,0M415.87,144.62a0.75,0.75 0 1,0 1.5,0a0.75,0.75 0 1,0 -1.5,0M434.47,137.22a0.75,0.75 0 1,0 1.5,0a0.75,0.75 0 1,0 -1.5,0M434.47,144.62a0.75,0.75 0 1,0 1.5,0a0.75,0.75 0 1,0 -1.5,0M453.07,137.22a0.75,0.75 0 1,0 1.5,0a0.75,0.75 0 1,0 -1.5,0M453.07,144.62a0.75,0.75 0 1,0 1.5,0a0.75,0.75 0 1,0 -1.5,0M471.67,137.22a0.75,0.75 0 1,0 1.5,0a0.75,0.75 0 1,0 -1.5,0M471.67,144.62a0.75,0.75 0 1,0 1.5,0a0.75,0.75 0 1,0 -1.5,0M490.27,137.22a0.75,0.75 0 1,0 1.5,0a0.75,0.75 0 1,0 -1.5,0M490.27,144.62a0.75,0.75 0 1,0 1.5,0a0.75,0.75 0 1,0 -1.5,0M508.87,137.22a0.75,0.75 0 1,0 1.5,0a0.75,0.75 0 1,0 -1.5,0M508.87,144.62a0.75,0.75 0 1,0 1.5,0a0.75,0.75 0 1,0 -1.5,0M527.47,137.22a0.75,0.75 0 1,0 1.5,0a0.75,0.75 0 1,0 -1.5,0M527.47,144.62a0.75,0.75 0 1,0 1.5,0a0.75,0.75 0 1,0 -1.5,0M546.07,137.22a0.75,0.75 0 1,0 1.5,0a0.75,0.75 0 1,0 -1.5,0M546.07,144.62a0.75,0.75 0 1,0 1.5,0a0.75,0.75 0 1,0 -1.5,0M564.67,137.22a0.75,0.75 0 1,0 1.5,0a0.75,0.75 0 1,0 -1.5,0M564.67,144.62a0.75,0.75 0 1,0 1.5,0a0.75,0.75 0 1,0 -1.5,0M583.27,137.22a0.75,0.75 0 1,0 1.5,0a0.75,0.75 0 1,0 -1.5,0M583.27,144.62a0.75,0.75 0 1,0 1.5,0a0.75,0.75 0 1,0 -1.5,0M601.87,137.22a0.75,0.75 0 1,0 1.5,0a0.75,0.75 0 1,0 -1.5,0M601.87,144.62a0.75,0.75 0 1,0 1.5,0a0.75,0.75 0 1,0 -1.5,0M52.81,151.46a0.75,0.75 0 1,0 1.5,0a0.75,0.75 0 1,0 -1.5,0M52.81,158.86a0.75,0.75 0 1,0 1.5,0a0.75,0.75 0 1,0 -1.5,0M71.41,151.46a0.75,0.75 0 1,0 1.5,0a0.75,0.75 0 1,0 -1.5,0M71.41,158.86a0.75,0.75 0 1,0 1.5,0a0.75,0.75 0 1,0 -1.5,0M90.01,151.46a0.75,0.75 0 1,0 1.5,0a0.75,0.75 0 1,0 -1.5,0M90.01,158.86a0.75,0.75 0 1,0 1.5,0a0.75,0.75 0 1,0 -1.5,0M108.61,151.46a0.75,0.75 0 1,0 1.5,0a0.75,0.75 0 1,0 -1.5,0M108.61,158.86a0.75,0.75 0 1,0 1.5,0a0.75,0.75 0 1,0 -1.5,0M127.21,151.46a0.75,0.75 0 1,0 1.5,0a0.75,0.75 0 1,0 -1.5,0M127.21,158.86a0.75,0.75 0 1,0 1.5,0a0.75,0.75 0 1,0 -1.5,0M145.81,151.46a0.75,0.75 0 1,0 1.5,0a0.75,0.75 0 1,0 -1.5,0M145.81,158.86a0.75,0.75 0 1,0 1.5,0a0.75,0.75 0 1,0 -1.5,0M164.41,151.46a0.75,0.75 0 1,0 1.5,0a0.75,0.75 0 1,0 -1.5,0M164.41,158.86a0.75,0.75 0 1,0 1.5,0a0.75,0.75 0 1,0 -1.5,0M183.01,151.46a0.75,0.75 0 1,0 1.5,0a0.75,0.75 0 1,0 -1.5,0M183.01,158.86a0.75,0.75 0 1,0 1.5,0a0.75,0.75 0 1,0 -1.5,0M201.61,151.46a0.75,0.75 0 1,0 1.5,0a0.75,0.75 0 1,0 -1.5,0M201.61,158.86a0.75,0.75 0 1,0 1.5,0a0.75,0.75 0 1,0 -1.5,0M220.21,151.46a0.75,0.75 0 1,0 1.5,0a0.75,0.75 0 1,0 -1.5,0M220.21,158.86a0.75,0.75 0 1,0 1.5,0a0.75,0.75 0 1,0 -1.5,0M238.81,151.46a0.75,0.75 0 1,0 1.5,0a0.75,0.75 0 1,0 -1.5,0M238.81,158.86a0.75,0.75 0 1,0 1.5,0a0.75,0.75 0 1,0 -1.5,0M257.41,151.46a0.75,0.75 0 1,0 1.5,0a0.75,0.75 0 1,0 -1.5,0M257.41,158.86a0.75,0.75 0 1,0 1.5,0a0.75,0.75 0 1,0 -1.5,0M276.01,151.46a0.75,0.75 0 1,0 1.5,0a0.75,0.75 0 1,0 -1.5,0M276.01,158.86a0.75,0.75 0 1,0 1.5,0a0.75,0.75 0 1,0 -1.5,0M294.61,151.46a0.75,0.75 0 1,0 1.5,0a0.75,0.75 0 1,0 -1.5,0M294.61,158.86a0.75,0.75 0 1,0 1.5,0a0.75,0.75 0 1,0 -1.5,0M313.21,151.46a0.75,0.75 0 1,0 1.5,0a0.75,0.75 0 1,0 -1.5,0M313.21,158.86a0.75,0.75 0 1,0 1.5,0a0.75,0.75 0 1,0 -1.5,0M331.81,151.46a0.75,0.75 0 1,0 1.5,0a0.75,0.75 0 1,0 -1.5,0M331.81,158.86a0.75,0.75 0 1,0 1.5,0a0.75,0.75 0 1,0 -1.5,0M350.41,151.46a0.75,0.75 0 1,0 1.5,0a0.75,0.75 0 1,0 -1.5,0M350.41,158.86a0.75,0.75 0 1,0 1.5,0a0.75,0.75 0 1,0 -1.5,0M369.01,151.46a0.75,0.75 0 1,0 1.5,0a0.75,0.75 0 1,0 -1.5,0M369.01,158.86a0.75,0.75 0 1,0 1.5,0a0.75,0.75 0 1,0 -1.5,0M387.61,151.46a0.75,0.75 0 1,0 1.5,0a0.75,0.75 0 1,0 -1.5,0M387.61,158.86a0.75,0.75 0 1,0 1.5,0a0.75,0.75 0 1,0 -1.5,0M406.21,151.46a0.75,0.75 0 1,0 1.5,0a0.75,0.75 0 1,0 -1.5,0M406.21,158.86a0.75,0.75 0 1,0 1.5,0a0.75,0.75 0 1,0 -1.5,0M424.81,151.46a0.75,0.75 0 1,0 1.5,0a0.75,0.75 0 1,0 -1.5,0M424.81,158.86a0.75,0.75 0 1,0 1.5,0a0.75,0.75 0 1,0 -1.5,0M443.41,151.46a0.75,0.75 0 1,0 1.5,0a0.75,0.75 0 1,0 -1.5,0M443.41,158.86a0.75,0.75 0 1,0 1.5,0a0.75,0.75 0 1,0 -1.5,0M462.01,151.46a0.75,0.75 0 1,0 1.5,0a0.75,0.75 0 1,0 -1.5,0M462.01,158.86a0.75,0.75 0 1,0 1.5,0a0.75,0.75 0 1,0 -1.5,0M480.61,151.46a0.75,0.75 0 1,0 1.5,0a0.75,0.75 0 1,0 -1.5,0M480.61,158.86a0.75,0.75 0 1,0 1.5,0a0.75,0.75 0 1,0 -1.5,0M499.21,151.46a0.75,0.75 0 1,0 1.5,0a0.75,0.75 0 1,0 -1.5,0M499.21,158.86a0.75,0.75 0 1,0 1.5,0a0.75,0.75 0 1,0 -1.5,0M517.81,151.46a0.75,0.75 0 1,0 1.5,0a0.75,0.75 0 1,0 -1.5,0M517.81,158.86a0.75,0.75 0 1,0 1.5,0a0.75,0.75 0 1,0 -1.5,0M536.41,151.46a0.75,0.75 0 1,0 1.5,0a0.75,0.75 0 1,0 -1.5,0M536.41,158.86a0.75,0.75 0 1,0 1.5,0a0.75,0.75 0 1,0 -1.5,0M555.01,151.46a0.75,0.75 0 1,0 1.5,0a0.75,0.75 0 1,0 -1.5,0M555.01,158.86a0.75,0.75 0 1,0 1.5,0a0.75,0.75 0 1,0 -1.5,0M573.61,151.46a0.75,0.75 0 1,0 1.5,0a0.75,0.75 0 1,0 -1.5,0M573.61,158.86a0.75,0.75 0 1,0 1.5,0a0.75,0.75 0 1,0 -1.5,0M592.21,151.46a0.75,0.75 0 1,0 1.5,0a0.75,0.75 0 1,0 -1.5,0M592.21,158.86a0.75,0.75 0 1,0 1.5,0a0.75,0.75 0 1,0 -1.5,0M61.55,165.70a0.75,0.75 0 1,0 1.5,0a0.75,0.75 0 1,0 -1.5,0M61.55,173.10a0.75,0.75 0 1,0 1.5,0a0.75,0.75 0 1,0 -1.5,0M80.15,165.70a0.75,0.75 0 1,0 1.5,0a0.75,0.75 0 1,0 -1.5,0M80.15,173.10a0.75,0.75 0 1,0 1.5,0a0.75,0.75 0 1,0 -1.5,0M98.75,165.70a0.75,0.75 0 1,0 1.5,0a0.75,0.75 0 1,0 -1.5,0M98.75,173.10a0.75,0.75 0 1,0 1.5,0a0.75,0.75 0 1,0 -1.5,0M117.35,165.70a0.75,0.75 0 1,0 1.5,0a0.75,0.75 0 1,0 -1.5,0M117.35,173.10a0.75,0.75 0 1,0 1.5,0a0.75,0.75 0 1,0 -1.5,0M135.95,165.70a0.75,0.75 0 1,0 1.5,0a0.75,0.75 0 1,0 -1.5,0M135.95,173.10a0.75,0.75 0 1,0 1.5,0a0.75,0.75 0 1,0 -1.5,0M154.55,165.70a0.75,0.75 0 1,0 1.5,0a0.75,0.75 0 1,0 -1.5,0M154.55,173.10a0.75,0.75 0 1,0 1.5,0a0.75,0.75 0 1,0 -1.5,0M173.15,165.70a0.75,0.75 0 1,0 1.5,0a0.75,0.75 0 1,0 -1.5,0M173.15,173.10a0.75,0.75 0 1,0 1.5,0a0.75,0.75 0 1,0 -1.5,0M191.75,165.70a0.75,0.75 0 1,0 1.5,0a0.75,0.75 0 1,0 -1.5,0M191.75,173.10a0.75,0.75 0 1,0 1.5,0a0.75,0.75 0 1,0 -1.5,0M210.35,165.70a0.75,0.75 0 1,0 1.5,0a0.75,0.75 0 1,0 -1.5,0M210.35,173.10a0.75,0.75 0 1,0 1.5,0a0.75,0.75 0 1,0 -1.5,0M228.95,165.70a0.75,0.75 0 1,0 1.5,0a0.75,0.75 0 1,0 -1.5,0M228.95,173.10a0.75,0.75 0 1,0 1.5,0a0.75,0.75 0 1,0 -1.5,0M247.55,165.70a0.75,0.75 0 1,0 1.5,0a0.75,0.75 0 1,0 -1.5,0M247.55,173.10a0.75,0.75 0 1,0 1.5,0a0.75,0.75 0 1,0 -1.5,0M266.15,165.70a0.75,0.75 0 1,0 1.5,0a0.75,0.75 0 1,0 -1.5,0M266.15,173.10a0.75,0.75 0 1,0 1.5,0a0.75,0.75 0 1,0 -1.5,0M284.75,165.70a0.75,0.75 0 1,0 1.5,0a0.75,0.75 0 1,0 -1.5,0M284.75,173.10a0.75,0.75 0 1,0 1.5,0a0.75,0.75 0 1,0 -1.5,0M303.35,165.70a0.75,0.75 0 1,0 1.5,0a0.75,0.75 0 1,0 -1.5,0M303.35,173.10a0.75,0.75 0 1,0 1.5,0a0.75,0.75 0 1,0 -1.5,0M321.95,165.70a0.75,0.75 0 1,0 1.5,0a0.75,0.75 0 1,0 -1.5,0M321.95,173.10a0.75,0.75 0 1,0 1.5,0a0.75,0.75 0 1,0 -1.5,0M340.55,165.70a0.75,0.75 0 1,0 1.5,0a0.75,0.75 0 1,0 -1.5,0M340.55,173.10a0.75,0.75 0 1,0 1.5,0a0.75,0.75 0 1,0 -1.5,0M359.15,165.70a0.75,0.75 0 1,0 1.5,0a0.75,0.75 0 1,0 -1.5,0M359.15,173.10a0.75,0.75 0 1,0 1.5,0a0.75,0.75 0 1,0 -1.5,0M377.75,165.70a0.75,0.75 0 1,0 1.5,0a0.75,0.75 0 1,0 -1.5,0M377.75,173.10a0.75,0.75 0 1,0 1.5,0a0.75,0.75 0 1,0 -1.5,0M396.35,165.70a0.75,0.75 0 1,0 1.5,0a0.75,0.75 0 1,0 -1.5,0M396.35,173.10a0.75,0.75 0 1,0 1.5,0a0.75,0.75 0 1,0 -1.5,0M414.95,165.70a0.75,0.75 0 1,0 1.5,0a0.75,0.75 0 1,0 -1.5,0M414.95,173.10a0.75,0.75 0 1,0 1.5,0a0.75,0.75 0 1,0 -1.5,0M433.55,165.70a0.75,0.75 0 1,0 1.5,0a0.75,0.75 0 1,0 -1.5,0M433.55,173.10a0.75,0.75 0 1,0 1.5,0a0.75,0.75 0 1,0 -1.5,0M452.15,165.70a0.75,0.75 0 1,0 1.5,0a0.75,0.75 0 1,0 -1.5,0M452.15,173.10a0.75,0.75 0 1,0 1.5,0a0.75,0.75 0 1,0 -1.5,0M470.75,165.70a0.75,0.75 0 1,0 1.5,0a0.75,0.75 0 1,0 -1.5,0M470.75,173.10a0.75,0.75 0 1,0 1.5,0a0.75,0.75 0 1,0 -1.5,0M489.35,165.70a0.75,0.75 0 1,0 1.5,0a0.75,0.75 0 1,0 -1.5,0M489.35,173.10a0.75,0.75 0 1,0 1.5,0a0.75,0.75 0 1,0 -1.5,0M507.95,165.70a0.75,0.75 0 1,0 1.5,0a0.75,0.75 0 1,0 -1.5,0M507.95,173.10a0.75,0.75 0 1,0 1.5,0a0.75,0.75 0 1,0 -1.5,0M526.55,165.70a0.75,0.75 0 1,0 1.5,0a0.75,0.75 0 1,0 -1.5,0M526.55,173.10a0.75,0.75 0 1,0 1.5,0a0.75,0.75 0 1,0 -1.5,0M545.15,165.70a0.75,0.75 0 1,0 1.5,0a0.75,0.75 0 1,0 -1.5,0M545.15,173.10a0.75,0.75 0 1,0 1.5,0a0.75,0.75 0 1,0 -1.5,0M563.75,165.70a0.75,0.75 0 1,0 1.5,0a0.75,0.75 0 1,0 -1.5,0M563.75,173.10a0.75,0.75 0 1,0 1.5,0a0.75,0.75 0 1,0 -1.5,0M582.35,165.70a0.75,0.75 0 1,0 1.5,0a0.75,0.75 0 1,0 -1.5,0M582.35,173.10a0.75,0.75 0 1,0 1.5,0a0.75,0.75 0 1,0 -1.5,0M600.95,165.70a0.75,0.75 0 1,0 1.5,0a0.75,0.75 0 1,0 -1.5,0M600.95,173.10a0.75,0.75 0 1,0 1.5,0a0.75,0.75 0 1,0 -1.5,0M51.89,179.94a0.75,0.75 0 1,0 1.5,0a0.75,0.75 0 1,0 -1.5,0M51.89,187.34a0.75,0.75 0 1,0 1.5,0a0.75,0.75 0 1,0 -1.5,0M70.49,179.94a0.75,0.75 0 1,0 1.5,0a0.75,0.75 0 1,0 -1.5,0M70.49,187.34a0.75,0.75 0 1,0 1.5,0a0.75,0.75 0 1,0 -1.5,0M89.09,179.94a0.75,0.75 0 1,0 1.5,0a0.75,0.75 0 1,0 -1.5,0M89.09,187.34a0.75,0.75 0 1,0 1.5,0a0.75,0.75 0 1,0 -1.5,0M107.69,179.94a0.75,0.75 0 1,0 1.5,0a0.75,0.75 0 1,0 -1.5,0M107.69,187.34a0.75,0.75 0 1,0 1.5,0a0.75,0.75 0 1,0 -1.5,0M126.29,179.94a0.75,0.75 0 1,0 1.5,0a0.75,0.75 0 1,0 -1.5,0M126.29,187.34a0.75,0.75 0 1,0 1.5,0a0.75,0.75 0 1,0 -1.5,0M144.89,179.94a0.75,0.75 0 1,0 1.5,0a0.75,0.75 0 1,0 -1.5,0M144.89,187.34a0.75,0.75 0 1,0 1.5,0a0.75,0.75 0 1,0 -1.5,0M163.49,179.94a0.75,0.75 0 1,0 1.5,0a0.75,0.75 0 1,0 -1.5,0M163.49,187.34a0.75,0.75 0 1,0 1.5,0a0.75,0.75 0 1,0 -1.5,0M182.09,179.94a0.75,0.75 0 1,0 1.5,0a0.75,0.75 0 1,0 -1.5,0M182.09,187.34a0.75,0.75 0 1,0 1.5,0a0.75,0.75 0 1,0 -1.5,0M200.69,179.94a0.75,0.75 0 1,0 1.5,0a0.75,0.75 0 1,0 -1.5,0M200.69,187.34a0.75,0.75 0 1,0 1.5,0a0.75,0.75 0 1,0 -1.5,0M219.29,179.94a0.75,0.75 0 1,0 1.5,0a0.75,0.75 0 1,0 -1.5,0M219.29,187.34a0.75,0.75 0 1,0 1.5,0a0.75,0.75 0 1,0 -1.5,0M237.89,179.94a0.75,0.75 0 1,0 1.5,0a0.75,0.75 0 1,0 -1.5,0M237.89,187.34a0.75,0.75 0 1,0 1.5,0a0.75,0.75 0 1,0 -1.5,0M256.49,179.94a0.75,0.75 0 1,0 1.5,0a0.75,0.75 0 1,0 -1.5,0M256.49,187.34a0.75,0.75 0 1,0 1.5,0a0.75,0.75 0 1,0 -1.5,0M275.09,179.94a0.75,0.75 0 1,0 1.5,0a0.75,0.75 0 1,0 -1.5,0M275.09,187.34a0.75,0.75 0 1,0 1.5,0a0.75,0.75 0 1,0 -1.5,0M293.69,179.94a0.75,0.75 0 1,0 1.5,0a0.75,0.75 0 1,0 -1.5,0M293.69,187.34a0.75,0.75 0 1,0 1.5,0a0.75,0.75 0 1,0 -1.5,0M312.29,179.94a0.75,0.75 0 1,0 1.5,0a0.75,0.75 0 1,0 -1.5,0M312.29,187.34a0.75,0.75 0 1,0 1.5,0a0.75,0.75 0 1,0 -1.5,0M330.89,179.94a0.75,0.75 0 1,0 1.5,0a0.75,0.75 0 1,0 -1.5,0M330.89,187.34a0.75,0.75 0 1,0 1.5,0a0.75,0.75 0 1,0 -1.5,0M349.49,179.94a0.75,0.75 0 1,0 1.5,0a0.75,0.75 0 1,0 -1.5,0M349.49,187.34a0.75,0.75 0 1,0 1.5,0a0.75,0.75 0 1,0 -1.5,0M368.09,179.94a0.75,0.75 0 1,0 1.5,0a0.75,0.75 0 1,0 -1.5,0M368.09,187.34a0.75,0.75 0 1,0 1.5,0a0.75,0.75 0 1,0 -1.5,0M386.69,179.94a0.75,0.75 0 1,0 1.5,0a0.75,0.75 0 1,0 -1.5,0M386.69,187.34a0.75,0.75 0 1,0 1.5,0a0.75,0.75 0 1,0 -1.5,0M405.29,179.94a0.75,0.75 0 1,0 1.5,0a0.75,0.75 0 1,0 -1.5,0M405.29,187.34a0.75,0.75 0 1,0 1.5,0a0.75,0.75 0 1,0 -1.5,0M423.89,179.94a0.75,0.75 0 1,0 1.5,0a0.75,0.75 0 1,0 -1.5,0M423.89,187.34a0.75,0.75 0 1,0 1.5,0a0.75,0.75 0 1,0 -1.5,0M442.49,179.94a0.75,0.75 0 1,0 1.5,0a0.75,0.75 0 1,0 -1.5,0M442.49,187.34a0.75,0.75 0 1,0 1.5,0a0.75,0.75 0 1,0 -1.5,0M461.09,179.94a0.75,0.75 0 1,0 1.5,0a0.75,0.75 0 1,0 -1.5,0M461.09,187.34a0.75,0.75 0 1,0 1.5,0a0.75,0.75 0 1,0 -1.5,0M479.69,179.94a0.75,0.75 0 1,0 1.5,0a0.75,0.75 0 1,0 -1.5,0M479.69,187.34a0.75,0.75 0 1,0 1.5,0a0.75,0.75 0 1,0 -1.5,0M498.29,179.94a0.75,0.75 0 1,0 1.5,0a0.75,0.75 0 1,0 -1.5,0M498.29,187.34a0.75,0.75 0 1,0 1.5,0a0.75,0.75 0 1,0 -1.5,0M516.89,179.94a0.75,0.75 0 1,0 1.5,0a0.75,0.75 0 1,0 -1.5,0M516.89,187.34a0.75,0.75 0 1,0 1.5,0a0.75,0.75 0 1,0 -1.5,0M535.49,179.94a0.75,0.75 0 1,0 1.5,0a0.75,0.75 0 1,0 -1.5,0M535.49,187.34a0.75,0.75 0 1,0 1.5,0a0.75,0.75 0 1,0 -1.5,0M554.09,179.94a0.75,0.75 0 1,0 1.5,0a0.75,0.75 0 1,0 -1.5,0M554.09,187.34a0.75,0.75 0 1,0 1.5,0a0.75,0.75 0 1,0 -1.5,0M572.69,179.94a0.75,0.75 0 1,0 1.5,0a0.75,0.75 0 1,0 -1.5,0M572.69,187.34a0.75,0.75 0 1,0 1.5,0a0.75,0.75 0 1,0 -1.5,0M591.29,179.94a0.75,0.75 0 1,0 1.5,0a0.75,0.75 0 1,0 -1.5,0M591.29,187.34a0.75,0.75 0 1,0 1.5,0a0.75,0.75 0 1,0 -1.5,0M60.63,194.18a0.75,0.75 0 1,0 1.5,0a0.75,0.75 0 1,0 -1.5,0M60.63,201.58a0.75,0.75 0 1,0 1.5,0a0.75,0.75 0 1,0 -1.5,0M79.23,194.18a0.75,0.75 0 1,0 1.5,0a0.75,0.75 0 1,0 -1.5,0M79.23,201.58a0.75,0.75 0 1,0 1.5,0a0.75,0.75 0 1,0 -1.5,0M97.83,194.18a0.75,0.75 0 1,0 1.5,0a0.75,0.75 0 1,0 -1.5,0M97.83,201.58a0.75,0.75 0 1,0 1.5,0a0.75,0.75 0 1,0 -1.5,0M116.43,194.18a0.75,0.75 0 1,0 1.5,0a0.75,0.75 0 1,0 -1.5,0M116.43,201.58a0.75,0.75 0 1,0 1.5,0a0.75,0.75 0 1,0 -1.5,0M135.03,194.18a0.75,0.75 0 1,0 1.5,0a0.75,0.75 0 1,0 -1.5,0M135.03,201.58a0.75,0.75 0 1,0 1.5,0a0.75,0.75 0 1,0 -1.5,0M153.63,194.18a0.75,0.75 0 1,0 1.5,0a0.75,0.75 0 1,0 -1.5,0M153.63,201.58a0.75,0.75 0 1,0 1.5,0a0.75,0.75 0 1,0 -1.5,0M172.23,194.18a0.75,0.75 0 1,0 1.5,0a0.75,0.75 0 1,0 -1.5,0M172.23,201.58a0.75,0.75 0 1,0 1.5,0a0.75,0.75 0 1,0 -1.5,0M190.83,194.18a0.75,0.75 0 1,0 1.5,0a0.75,0.75 0 1,0 -1.5,0M190.83,201.58a0.75,0.75 0 1,0 1.5,0a0.75,0.75 0 1,0 -1.5,0M209.43,194.18a0.75,0.75 0 1,0 1.5,0a0.75,0.75 0 1,0 -1.5,0M209.43,201.58a0.75,0.75 0 1,0 1.5,0a0.75,0.75 0 1,0 -1.5,0M228.03,194.18a0.75,0.75 0 1,0 1.5,0a0.75,0.75 0 1,0 -1.5,0M228.03,201.58a0.75,0.75 0 1,0 1.5,0a0.75,0.75 0 1,0 -1.5,0M246.63,194.18a0.75,0.75 0 1,0 1.5,0a0.75,0.75 0 1,0 -1.5,0M246.63,201.58a0.75,0.75 0 1,0 1.5,0a0.75,0.75 0 1,0 -1.5,0M265.23,194.18a0.75,0.75 0 1,0 1.5,0a0.75,0.75 0 1,0 -1.5,0M265.23,201.58a0.75,0.75 0 1,0 1.5,0a0.75,0.75 0 1,0 -1.5,0M283.83,194.18a0.75,0.75 0 1,0 1.5,0a0.75,0.75 0 1,0 -1.5,0M283.83,201.58a0.75,0.75 0 1,0 1.5,0a0.75,0.75 0 1,0 -1.5,0M302.43,194.18a0.75,0.75 0 1,0 1.5,0a0.75,0.75 0 1,0 -1.5,0M302.43,201.58a0.75,0.75 0 1,0 1.5,0a0.75,0.75 0 1,0 -1.5,0M321.03,194.18a0.75,0.75 0 1,0 1.5,0a0.75,0.75 0 1,0 -1.5,0M321.03,201.58a0.75,0.75 0 1,0 1.5,0a0.75,0.75 0 1,0 -1.5,0M339.63,194.18a0.75,0.75 0 1,0 1.5,0a0.75,0.75 0 1,0 -1.5,0M339.63,201.58a0.75,0.75 0 1,0 1.5,0a0.75,0.75 0 1,0 -1.5,0M358.23,194.18a0.75,0.75 0 1,0 1.5,0a0.75,0.75 0 1,0 -1.5,0M358.23,201.58a0.75,0.75 0 1,0 1.5,0a0.75,0.75 0 1,0 -1.5,0M376.83,194.18a0.75,0.75 0 1,0 1.5,0a0.75,0.75 0 1,0 -1.5,0M376.83,201.58a0.75,0.75 0 1,0 1.5,0a0.75,0.75 0 1,0 -1.5,0M395.43,194.18a0.75,0.75 0 1,0 1.5,0a0.75,0.75 0 1,0 -1.5,0M395.43,201.58a0.75,0.75 0 1,0 1.5,0a0.75,0.75 0 1,0 -1.5,0M414.03,194.18a0.75,0.75 0 1,0 1.5,0a0.75,0.75 0 1,0 -1.5,0M414.03,201.58a0.75,0.75 0 1,0 1.5,0a0.75,0.75 0 1,0 -1.5,0M432.63,194.18a0.75,0.75 0 1,0 1.5,0a0.75,0.75 0 1,0 -1.5,0M432.63,201.58a0.75,0.75 0 1,0 1.5,0a0.75,0.75 0 1,0 -1.5,0M451.23,194.18a0.75,0.75 0 1,0 1.5,0a0.75,0.75 0 1,0 -1.5,0M451.23,201.58a0.75,0.75 0 1,0 1.5,0a0.75,0.75 0 1,0 -1.5,0M469.83,194.18a0.75,0.75 0 1,0 1.5,0a0.75,0.75 0 1,0 -1.5,0M469.83,201.58a0.75,0.75 0 1,0 1.5,0a0.75,0.75 0 1,0 -1.5,0M488.43,194.18a0.75,0.75 0 1,0 1.5,0a0.75,0.75 0 1,0 -1.5,0M488.43,201.58a0.75,0.75 0 1,0 1.5,0a0.75,0.75 0 1,0 -1.5,0M507.03,194.18a0.75,0.75 0 1,0 1.5,0a0.75,0.75 0 1,0 -1.5,0M507.03,201.58a0.75,0.75 0 1,0 1.5,0a0.75,0.75 0 1,0 -1.5,0M525.63,194.18a0.75,0.75 0 1,0 1.5,0a0.75,0.75 0 1,0 -1.5,0M525.63,201.58a0.75,0.75 0 1,0 1.5,0a0.75,0.75 0 1,0 -1.5,0M544.23,194.18a0.75,0.75 0 1,0 1.5,0a0.75,0.75 0 1,0 -1.5,0M544.23,201.58a0.75,0.75 0 1,0 1.5,0a0.75,0.75 0 1,0 -1.5,0M562.83,194.18a0.75,0.75 0 1,0 1.5,0a0.75,0.75 0 1,0 -1.5,0M562.83,201.58a0.75,0.75 0 1,0 1.5,0a0.75,0.75 0 1,0 -1.5,0M581.43,194.18a0.75,0.75 0 1,0 1.5,0a0.75,0.75 0 1,0 -1.5,0M581.43,201.58a0.75,0.75 0 1,0 1.5,0a0.75,0.75 0 1,0 -1.5,0M600.03,194.18a0.75,0.75 0 1,0 1.5,0a0.75,0.75 0 1,0 -1.5,0M600.03,201.58a0.75,0.75 0 1,0 1.5,0a0.75,0.75 0 1,0 -1.5,0M50.97,208.42a0.75,0.75 0 1,0 1.5,0a0.75,0.75 0 1,0 -1.5,0M50.97,215.82a0.75,0.75 0 1,0 1.5,0a0.75,0.75 0 1,0 -1.5,0M69.57,208.42a0.75,0.75 0 1,0 1.5,0a0.75,0.75 0 1,0 -1.5,0M69.57,215.82a0.75,0.75 0 1,0 1.5,0a0.75,0.75 0 1,0 -1.5,0M88.17,208.42a0.75,0.75 0 1,0 1.5,0a0.75,0.75 0 1,0 -1.5,0M88.17,215.82a0.75,0.75 0 1,0 1.5,0a0.75,0.75 0 1,0 -1.5,0M106.77,208.42a0.75,0.75 0 1,0 1.5,0a0.75,0.75 0 1,0 -1.5,0M106.77,215.82a0.75,0.75 0 1,0 1.5,0a0.75,0.75 0 1,0 -1.5,0M125.37,208.42a0.75,0.75 0 1,0 1.5,0a0.75,0.75 0 1,0 -1.5,0M125.37,215.82a0.75,0.75 0 1,0 1.5,0a0.75,0.75 0 1,0 -1.5,0M143.97,208.42a0.75,0.75 0 1,0 1.5,0a0.75,0.75 0 1,0 -1.5,0M143.97,215.82a0.75,0.75 0 1,0 1.5,0a0.75,0.75 0 1,0 -1.5,0M162.57,208.42a0.75,0.75 0 1,0 1.5,0a0.75,0.75 0 1,0 -1.5,0M162.57,215.82a0.75,0.75 0 1,0 1.5,0a0.75,0.75 0 1,0 -1.5,0M181.17,208.42a0.75,0.75 0 1,0 1.5,0a0.75,0.75 0 1,0 -1.5,0M181.17,215.82a0.75,0.75 0 1,0 1.5,0a0.75,0.75 0 1,0 -1.5,0M199.77,208.42a0.75,0.75 0 1,0 1.5,0a0.75,0.75 0 1,0 -1.5,0M199.77,215.82a0.75,0.75 0 1,0 1.5,0a0.75,0.75 0 1,0 -1.5,0M218.37,208.42a0.75,0.75 0 1,0 1.5,0a0.75,0.75 0 1,0 -1.5,0M218.37,215.82a0.75,0.75 0 1,0 1.5,0a0.75,0.75 0 1,0 -1.5,0M236.97,208.42a0.75,0.75 0 1,0 1.5,0a0.75,0.75 0 1,0 -1.5,0M236.97,215.82a0.75,0.75 0 1,0 1.5,0a0.75,0.75 0 1,0 -1.5,0M255.57,208.42a0.75,0.75 0 1,0 1.5,0a0.75,0.75 0 1,0 -1.5,0M255.57,215.82a0.75,0.75 0 1,0 1.5,0a0.75,0.75 0 1,0 -1.5,0M274.17,208.42a0.75,0.75 0 1,0 1.5,0a0.75,0.75 0 1,0 -1.5,0M274.17,215.82a0.75,0.75 0 1,0 1.5,0a0.75,0.75 0 1,0 -1.5,0M292.77,208.42a0.75,0.75 0 1,0 1.5,0a0.75,0.75 0 1,0 -1.5,0M292.77,215.82a0.75,0.75 0 1,0 1.5,0a0.75,0.75 0 1,0 -1.5,0M311.37,208.42a0.75,0.75 0 1,0 1.5,0a0.75,0.75 0 1,0 -1.5,0M311.37,215.82a0.75,0.75 0 1,0 1.5,0a0.75,0.75 0 1,0 -1.5,0M329.97,208.42a0.75,0.75 0 1,0 1.5,0a0.75,0.75 0 1,0 -1.5,0M329.97,215.82a0.75,0.75 0 1,0 1.5,0a0.75,0.75 0 1,0 -1.5,0M348.57,208.42a0.75,0.75 0 1,0 1.5,0a0.75,0.75 0 1,0 -1.5,0M348.57,215.82a0.75,0.75 0 1,0 1.5,0a0.75,0.75 0 1,0 -1.5,0M367.17,208.42a0.75,0.75 0 1,0 1.5,0a0.75,0.75 0 1,0 -1.5,0M367.17,215.82a0.75,0.75 0 1,0 1.5,0a0.75,0.75 0 1,0 -1.5,0M385.77,208.42a0.75,0.75 0 1,0 1.5,0a0.75,0.75 0 1,0 -1.5,0M385.77,215.82a0.75,0.75 0 1,0 1.5,0a0.75,0.75 0 1,0 -1.5,0M404.37,208.42a0.75,0.75 0 1,0 1.5,0a0.75,0.75 0 1,0 -1.5,0M404.37,215.82a0.75,0.75 0 1,0 1.5,0a0.75,0.75 0 1,0 -1.5,0M422.97,208.42a0.75,0.75 0 1,0 1.5,0a0.75,0.75 0 1,0 -1.5,0M422.97,215.82a0.75,0.75 0 1,0 1.5,0a0.75,0.75 0 1,0 -1.5,0M441.57,208.42a0.75,0.75 0 1,0 1.5,0a0.75,0.75 0 1,0 -1.5,0M441.57,215.82a0.75,0.75 0 1,0 1.5,0a0.75,0.75 0 1,0 -1.5,0M460.17,208.42a0.75,0.75 0 1,0 1.5,0a0.75,0.75 0 1,0 -1.5,0M460.17,215.82a0.75,0.75 0 1,0 1.5,0a0.75,0.75 0 1,0 -1.5,0M478.77,208.42a0.75,0.75 0 1,0 1.5,0a0.75,0.75 0 1,0 -1.5,0M478.77,215.82a0.75,0.75 0 1,0 1.5,0a0.75,0.75 0 1,0 -1.5,0M497.37,208.42a0.75,0.75 0 1,0 1.5,0a0.75,0.75 0 1,0 -1.5,0M497.37,215.82a0.75,0.75 0 1,0 1.5,0a0.75,0.75 0 1,0 -1.5,0M515.97,208.42a0.75,0.75 0 1,0 1.5,0a0.75,0.75 0 1,0 -1.5,0M515.97,215.82a0.75,0.75 0 1,0 1.5,0a0.75,0.75 0 1,0 -1.5,0M534.57,208.42a0.75,0.75 0 1,0 1.5,0a0.75,0.75 0 1,0 -1.5,0M534.57,215.82a0.75,0.75 0 1,0 1.5,0a0.75,0.75 0 1,0 -1.5,0M553.17,208.42a0.75,0.75 0 1,0 1.5,0a0.75,0.75 0 1,0 -1.5,0M553.17,215.82a0.75,0.75 0 1,0 1.5,0a0.75,0.75 0 1,0 -1.5,0M571.77,208.42a0.75,0.75 0 1,0 1.5,0a0.75,0.75 0 1,0 -1.5,0M571.77,215.82a0.75,0.75 0 1,0 1.5,0a0.75,0.75 0 1,0 -1.5,0M590.37,208.42a0.75,0.75 0 1,0 1.5,0a0.75,0.75 0 1,0 -1.5,0M590.37,215.82a0.75,0.75 0 1,0 1.5,0a0.75,0.75 0 1,0 -1.5,0M59.71,222.66a0.75,0.75 0 1,0 1.5,0a0.75,0.75 0 1,0 -1.5,0M59.71,230.06a0.75,0.75 0 1,0 1.5,0a0.75,0.75 0 1,0 -1.5,0M78.31,222.66a0.75,0.75 0 1,0 1.5,0a0.75,0.75 0 1,0 -1.5,0M78.31,230.06a0.75,0.75 0 1,0 1.5,0a0.75,0.75 0 1,0 -1.5,0M96.91,222.66a0.75,0.75 0 1,0 1.5,0a0.75,0.75 0 1,0 -1.5,0M96.91,230.06a0.75,0.75 0 1,0 1.5,0a0.75,0.75 0 1,0 -1.5,0M115.51,222.66a0.75,0.75 0 1,0 1.5,0a0.75,0.75 0 1,0 -1.5,0M115.51,230.06a0.75,0.75 0 1,0 1.5,0a0.75,0.75 0 1,0 -1.5,0M134.11,222.66a0.75,0.75 0 1,0 1.5,0a0.75,0.75 0 1,0 -1.5,0M134.11,230.06a0.75,0.75 0 1,0 1.5,0a0.75,0.75 0 1,0 -1.5,0M152.71,222.66a0.75,0.75 0 1,0 1.5,0a0.75,0.75 0 1,0 -1.5,0M152.71,230.06a0.75,0.75 0 1,0 1.5,0a0.75,0.75 0 1,0 -1.5,0M171.31,222.66a0.75,0.75 0 1,0 1.5,0a0.75,0.75 0 1,0 -1.5,0M171.31,230.06a0.75,0.75 0 1,0 1.5,0a0.75,0.75 0 1,0 -1.5,0M189.91,222.66a0.75,0.75 0 1,0 1.5,0a0.75,0.75 0 1,0 -1.5,0M189.91,230.06a0.75,0.75 0 1,0 1.5,0a0.75,0.75 0 1,0 -1.5,0M208.51,222.66a0.75,0.75 0 1,0 1.5,0a0.75,0.75 0 1,0 -1.5,0M208.51,230.06a0.75,0.75 0 1,0 1.5,0a0.75,0.75 0 1,0 -1.5,0M227.11,222.66a0.75,0.75 0 1,0 1.5,0a0.75,0.75 0 1,0 -1.5,0M227.11,230.06a0.75,0.75 0 1,0 1.5,0a0.75,0.75 0 1,0 -1.5,0M245.71,222.66a0.75,0.75 0 1,0 1.5,0a0.75,0.75 0 1,0 -1.5,0M245.71,230.06a0.75,0.75 0 1,0 1.5,0a0.75,0.75 0 1,0 -1.5,0M264.31,222.66a0.75,0.75 0 1,0 1.5,0a0.75,0.75 0 1,0 -1.5,0M264.31,230.06a0.75,0.75 0 1,0 1.5,0a0.75,0.75 0 1,0 -1.5,0M282.91,222.66a0.75,0.75 0 1,0 1.5,0a0.75,0.75 0 1,0 -1.5,0M282.91,230.06a0.75,0.75 0 1,0 1.5,0a0.75,0.75 0 1,0 -1.5,0M301.51,222.66a0.75,0.75 0 1,0 1.5,0a0.75,0.75 0 1,0 -1.5,0M301.51,230.06a0.75,0.75 0 1,0 1.5,0a0.75,0.75 0 1,0 -1.5,0M320.11,222.66a0.75,0.75 0 1,0 1.5,0a0.75,0.75 0 1,0 -1.5,0M320.11,230.06a0.75,0.75 0 1,0 1.5,0a0.75,0.75 0 1,0 -1.5,0M338.71,222.66a0.75,0.75 0 1,0 1.5,0a0.75,0.75 0 1,0 -1.5,0M338.71,230.06a0.75,0.75 0 1,0 1.5,0a0.75,0.75 0 1,0 -1.5,0M357.31,222.66a0.75,0.75 0 1,0 1.5,0a0.75,0.75 0 1,0 -1.5,0M357.31,230.06a0.75,0.75 0 1,0 1.5,0a0.75,0.75 0 1,0 -1.5,0M375.91,222.66a0.75,0.75 0 1,0 1.5,0a0.75,0.75 0 1,0 -1.5,0M375.91,230.06a0.75,0.75 0 1,0 1.5,0a0.75,0.75 0 1,0 -1.5,0M394.51,222.66a0.75,0.75 0 1,0 1.5,0a0.75,0.75 0 1,0 -1.5,0M394.51,230.06a0.75,0.75 0 1,0 1.5,0a0.75,0.75 0 1,0 -1.5,0M413.11,222.66a0.75,0.75 0 1,0 1.5,0a0.75,0.75 0 1,0 -1.5,0M413.11,230.06a0.75,0.75 0 1,0 1.5,0a0.75,0.75 0 1,0 -1.5,0M431.71,222.66a0.75,0.75 0 1,0 1.5,0a0.75,0.75 0 1,0 -1.5,0M431.71,230.06a0.75,0.75 0 1,0 1.5,0a0.75,0.75 0 1,0 -1.5,0M450.31,222.66a0.75,0.75 0 1,0 1.5,0a0.75,0.75 0 1,0 -1.5,0M450.31,230.06a0.75,0.75 0 1,0 1.5,0a0.75,0.75 0 1,0 -1.5,0M468.91,222.66a0.75,0.75 0 1,0 1.5,0a0.75,0.75 0 1,0 -1.5,0M468.91,230.06a0.75,0.75 0 1,0 1.5,0a0.75,0.75 0 1,0 -1.5,0M487.51,222.66a0.75,0.75 0 1,0 1.5,0a0.75,0.75 0 1,0 -1.5,0M487.51,230.06a0.75,0.75 0 1,0 1.5,0a0.75,0.75 0 1,0 -1.5,0M506.11,222.66a0.75,0.75 0 1,0 1.5,0a0.75,0.75 0 1,0 -1.5,0M506.11,230.06a0.75,0.75 0 1,0 1.5,0a0.75,0.75 0 1,0 -1.5,0M524.71,222.66a0.75,0.75 0 1,0 1.5,0a0.75,0.75 0 1,0 -1.5,0M524.71,230.06a0.75,0.75 0 1,0 1.5,0a0.75,0.75 0 1,0 -1.5,0M543.31,222.66a0.75,0.75 0 1,0 1.5,0a0.75,0.75 0 1,0 -1.5,0M543.31,230.06a0.75,0.75 0 1,0 1.5,0a0.75,0.75 0 1,0 -1.5,0M561.91,222.66a0.75,0.75 0 1,0 1.5,0a0.75,0.75 0 1,0 -1.5,0M561.91,230.06a0.75,0.75 0 1,0 1.5,0a0.75,0.75 0 1,0 -1.5,0M580.51,222.66a0.75,0.75 0 1,0 1.5,0a0.75,0.75 0 1,0 -1.5,0M580.51,230.06a0.75,0.75 0 1,0 1.5,0a0.75,0.75 0 1,0 -1.5,0M599.11,222.66a0.75,0.75 0 1,0 1.5,0a0.75,0.75 0 1,0 -1.5,0M599.11,230.06a0.75,0.75 0 1,0 1.5,0a0.75,0.75 0 1,0 -1.5,0M50.05,236.90a0.75,0.75 0 1,0 1.5,0a0.75,0.75 0 1,0 -1.5,0M50.05,244.30a0.75,0.75 0 1,0 1.5,0a0.75,0.75 0 1,0 -1.5,0M68.65,236.90a0.75,0.75 0 1,0 1.5,0a0.75,0.75 0 1,0 -1.5,0M68.65,244.30a0.75,0.75 0 1,0 1.5,0a0.75,0.75 0 1,0 -1.5,0M87.25,236.90a0.75,0.75 0 1,0 1.5,0a0.75,0.75 0 1,0 -1.5,0M87.25,244.30a0.75,0.75 0 1,0 1.5,0a0.75,0.75 0 1,0 -1.5,0M105.85,236.90a0.75,0.75 0 1,0 1.5,0a0.75,0.75 0 1,0 -1.5,0M105.85,244.30a0.75,0.75 0 1,0 1.5,0a0.75,0.75 0 1,0 -1.5,0M124.45,236.90a0.75,0.75 0 1,0 1.5,0a0.75,0.75 0 1,0 -1.5,0M124.45,244.30a0.75,0.75 0 1,0 1.5,0a0.75,0.75 0 1,0 -1.5,0M143.05,236.90a0.75,0.75 0 1,0 1.5,0a0.75,0.75 0 1,0 -1.5,0M143.05,244.30a0.75,0.75 0 1,0 1.5,0a0.75,0.75 0 1,0 -1.5,0M161.65,236.90a0.75,0.75 0 1,0 1.5,0a0.75,0.75 0 1,0 -1.5,0M161.65,244.30a0.75,0.75 0 1,0 1.5,0a0.75,0.75 0 1,0 -1.5,0M180.25,236.90a0.75,0.75 0 1,0 1.5,0a0.75,0.75 0 1,0 -1.5,0M180.25,244.30a0.75,0.75 0 1,0 1.5,0a0.75,0.75 0 1,0 -1.5,0M198.85,236.90a0.75,0.75 0 1,0 1.5,0a0.75,0.75 0 1,0 -1.5,0M198.85,244.30a0.75,0.75 0 1,0 1.5,0a0.75,0.75 0 1,0 -1.5,0M217.45,236.90a0.75,0.75 0 1,0 1.5,0a0.75,0.75 0 1,0 -1.5,0M217.45,244.30a0.75,0.75 0 1,0 1.5,0a0.75,0.75 0 1,0 -1.5,0M236.05,236.90a0.75,0.75 0 1,0 1.5,0a0.75,0.75 0 1,0 -1.5,0M236.05,244.30a0.75,0.75 0 1,0 1.5,0a0.75,0.75 0 1,0 -1.5,0M254.65,236.90a0.75,0.75 0 1,0 1.5,0a0.75,0.75 0 1,0 -1.5,0M254.65,244.30a0.75,0.75 0 1,0 1.5,0a0.75,0.75 0 1,0 -1.5,0M273.25,236.90a0.75,0.75 0 1,0 1.5,0a0.75,0.75 0 1,0 -1.5,0M273.25,244.30a0.75,0.75 0 1,0 1.5,0a0.75,0.75 0 1,0 -1.5,0M291.85,236.90a0.75,0.75 0 1,0 1.5,0a0.75,0.75 0 1,0 -1.5,0M291.85,244.30a0.75,0.75 0 1,0 1.5,0a0.75,0.75 0 1,0 -1.5,0M310.45,236.90a0.75,0.75 0 1,0 1.5,0a0.75,0.75 0 1,0 -1.5,0M310.45,244.30a0.75,0.75 0 1,0 1.5,0a0.75,0.75 0 1,0 -1.5,0M329.05,236.90a0.75,0.75 0 1,0 1.5,0a0.75,0.75 0 1,0 -1.5,0M329.05,244.30a0.75,0.75 0 1,0 1.5,0a0.75,0.75 0 1,0 -1.5,0M347.65,236.90a0.75,0.75 0 1,0 1.5,0a0.75,0.75 0 1,0 -1.5,0M347.65,244.30a0.75,0.75 0 1,0 1.5,0a0.75,0.75 0 1,0 -1.5,0M366.25,236.90a0.75,0.75 0 1,0 1.5,0a0.75,0.75 0 1,0 -1.5,0M366.25,244.30a0.75,0.75 0 1,0 1.5,0a0.75,0.75 0 1,0 -1.5,0M384.85,236.90a0.75,0.75 0 1,0 1.5,0a0.75,0.75 0 1,0 -1.5,0M384.85,244.30a0.75,0.75 0 1,0 1.5,0a0.75,0.75 0 1,0 -1.5,0M403.45,236.90a0.75,0.75 0 1,0 1.5,0a0.75,0.75 0 1,0 -1.5,0M403.45,244.30a0.75,0.75 0 1,0 1.5,0a0.75,0.75 0 1,0 -1.5,0M422.05,236.90a0.75,0.75 0 1,0 1.5,0a0.75,0.75 0 1,0 -1.5,0M422.05,244.30a0.75,0.75 0 1,0 1.5,0a0.75,0.75 0 1,0 -1.5,0M440.65,236.90a0.75,0.75 0 1,0 1.5,0a0.75,0.75 0 1,0 -1.5,0M440.65,244.30a0.75,0.75 0 1,0 1.5,0a0.75,0.75 0 1,0 -1.5,0M459.25,236.90a0.75,0.75 0 1,0 1.5,0a0.75,0.75 0 1,0 -1.5,0M459.25,244.30a0.75,0.75 0 1,0 1.5,0a0.75,0.75 0 1,0 -1.5,0M477.85,236.90a0.75,0.75 0 1,0 1.5,0a0.75,0.75 0 1,0 -1.5,0M477.85,244.30a0.75,0.75 0 1,0 1.5,0a0.75,0.75 0 1,0 -1.5,0M496.45,236.90a0.75,0.75 0 1,0 1.5,0a0.75,0.75 0 1,0 -1.5,0M496.45,244.30a0.75,0.75 0 1,0 1.5,0a0.75,0.75 0 1,0 -1.5,0M515.05,236.90a0.75,0.75 0 1,0 1.5,0a0.75,0.75 0 1,0 -1.5,0M515.05,244.30a0.75,0.75 0 1,0 1.5,0a0.75,0.75 0 1,0 -1.5,0M533.65,236.90a0.75,0.75 0 1,0 1.5,0a0.75,0.75 0 1,0 -1.5,0M533.65,244.30a0.75,0.75 0 1,0 1.5,0a0.75,0.75 0 1,0 -1.5,0M552.25,236.90a0.75,0.75 0 1,0 1.5,0a0.75,0.75 0 1,0 -1.5,0M552.25,244.30a0.75,0.75 0 1,0 1.5,0a0.75,0.75 0 1,0 -1.5,0M570.85,236.90a0.75,0.75 0 1,0 1.5,0a0.75,0.75 0 1,0 -1.5,0M570.85,244.30a0.75,0.75 0 1,0 1.5,0a0.75,0.75 0 1,0 -1.5,0M589.45,236.90a0.75,0.75 0 1,0 1.5,0a0.75,0.75 0 1,0 -1.5,0M589.45,244.30a0.75,0.75 0 1,0 1.5,0a0.75,0.75 0 1,0 -1.5,0M58.79,251.14a0.75,0.75 0 1,0 1.5,0a0.75,0.75 0 1,0 -1.5,0M58.79,258.54a0.75,0.75 0 1,0 1.5,0a0.75,0.75 0 1,0 -1.5,0M77.39,251.14a0.75,0.75 0 1,0 1.5,0a0.75,0.75 0 1,0 -1.5,0M77.39,258.54a0.75,0.75 0 1,0 1.5,0a0.75,0.75 0 1,0 -1.5,0M95.99,251.14a0.75,0.75 0 1,0 1.5,0a0.75,0.75 0 1,0 -1.5,0M95.99,258.54a0.75,0.75 0 1,0 1.5,0a0.75,0.75 0 1,0 -1.5,0M114.59,251.14a0.75,0.75 0 1,0 1.5,0a0.75,0.75 0 1,0 -1.5,0M114.59,258.54a0.75,0.75 0 1,0 1.5,0a0.75,0.75 0 1,0 -1.5,0M133.19,251.14a0.75,0.75 0 1,0 1.5,0a0.75,0.75 0 1,0 -1.5,0M133.19,258.54a0.75,0.75 0 1,0 1.5,0a0.75,0.75 0 1,0 -1.5,0M151.79,251.14a0.75,0.75 0 1,0 1.5,0a0.75,0.75 0 1,0 -1.5,0M151.79,258.54a0.75,0.75 0 1,0 1.5,0a0.75,0.75 0 1,0 -1.5,0M170.39,251.14a0.75,0.75 0 1,0 1.5,0a0.75,0.75 0 1,0 -1.5,0M170.39,258.54a0.75,0.75 0 1,0 1.5,0a0.75,0.75 0 1,0 -1.5,0M188.99,251.14a0.75,0.75 0 1,0 1.5,0a0.75,0.75 0 1,0 -1.5,0M188.99,258.54a0.75,0.75 0 1,0 1.5,0a0.75,0.75 0 1,0 -1.5,0M207.59,251.14a0.75,0.75 0 1,0 1.5,0a0.75,0.75 0 1,0 -1.5,0M207.59,258.54a0.75,0.75 0 1,0 1.5,0a0.75,0.75 0 1,0 -1.5,0M226.19,251.14a0.75,0.75 0 1,0 1.5,0a0.75,0.75 0 1,0 -1.5,0M226.19,258.54a0.75,0.75 0 1,0 1.5,0a0.75,0.75 0 1,0 -1.5,0M244.79,251.14a0.75,0.75 0 1,0 1.5,0a0.75,0.75 0 1,0 -1.5,0M244.79,258.54a0.75,0.75 0 1,0 1.5,0a0.75,0.75 0 1,0 -1.5,0M263.39,251.14a0.75,0.75 0 1,0 1.5,0a0.75,0.75 0 1,0 -1.5,0M263.39,258.54a0.75,0.75 0 1,0 1.5,0a0.75,0.75 0 1,0 -1.5,0M281.99,251.14a0.75,0.75 0 1,0 1.5,0a0.75,0.75 0 1,0 -1.5,0M281.99,258.54a0.75,0.75 0 1,0 1.5,0a0.75,0.75 0 1,0 -1.5,0M300.59,251.14a0.75,0.75 0 1,0 1.5,0a0.75,0.75 0 1,0 -1.5,0M300.59,258.54a0.75,0.75 0 1,0 1.5,0a0.75,0.75 0 1,0 -1.5,0M319.19,251.14a0.75,0.75 0 1,0 1.5,0a0.75,0.75 0 1,0 -1.5,0M319.19,258.54a0.75,0.75 0 1,0 1.5,0a0.75,0.75 0 1,0 -1.5,0M337.79,251.14a0.75,0.75 0 1,0 1.5,0a0.75,0.75 0 1,0 -1.5,0M337.79,258.54a0.75,0.75 0 1,0 1.5,0a0.75,0.75 0 1,0 -1.5,0M356.39,251.14a0.75,0.75 0 1,0 1.5,0a0.75,0.75 0 1,0 -1.5,0M356.39,258.54a0.75,0.75 0 1,0 1.5,0a0.75,0.75 0 1,0 -1.5,0M374.99,251.14a0.75,0.75 0 1,0 1.5,0a0.75,0.75 0 1,0 -1.5,0M374.99,258.54a0.75,0.75 0 1,0 1.5,0a0.75,0.75 0 1,0 -1.5,0M393.59,251.14a0.75,0.75 0 1,0 1.5,0a0.75,0.75 0 1,0 -1.5,0M393.59,258.54a0.75,0.75 0 1,0 1.5,0a0.75,0.75 0 1,0 -1.5,0M412.19,251.14a0.75,0.75 0 1,0 1.5,0a0.75,0.75 0 1,0 -1.5,0M412.19,258.54a0.75,0.75 0 1,0 1.5,0a0.75,0.75 0 1,0 -1.5,0M430.79,251.14a0.75,0.75 0 1,0 1.5,0a0.75,0.75 0 1,0 -1.5,0M430.79,258.54a0.75,0.75 0 1,0 1.5,0a0.75,0.75 0 1,0 -1.5,0M449.39,251.14a0.75,0.75 0 1,0 1.5,0a0.75,0.75 0 1,0 -1.5,0M449.39,258.54a0.75,0.75 0 1,0 1.5,0a0.75,0.75 0 1,0 -1.5,0M467.99,251.14a0.75,0.75 0 1,0 1.5,0a0.75,0.75 0 1,0 -1.5,0M467.99,258.54a0.75,0.75 0 1,0 1.5,0a0.75,0.75 0 1,0 -1.5,0M486.59,251.14a0.75,0.75 0 1,0 1.5,0a0.75,0.75 0 1,0 -1.5,0M486.59,258.54a0.75,0.75 0 1,0 1.5,0a0.75,0.75 0 1,0 -1.5,0M505.19,251.14a0.75,0.75 0 1,0 1.5,0a0.75,0.75 0 1,0 -1.5,0M505.19,258.54a0.75,0.75 0 1,0 1.5,0a0.75,0.75 0 1,0 -1.5,0M523.79,251.14a0.75,0.75 0 1,0 1.5,0a0.75,0.75 0 1,0 -1.5,0M523.79,258.54a0.75,0.75 0 1,0 1.5,0a0.75,0.75 0 1,0 -1.5,0M542.39,251.14a0.75,0.75 0 1,0 1.5,0a0.75,0.75 0 1,0 -1.5,0M542.39,258.54a0.75,0.75 0 1,0 1.5,0a0.75,0.75 0 1,0 -1.5,0M560.99,251.14a0.75,0.75 0 1,0 1.5,0a0.75,0.75 0 1,0 -1.5,0M560.99,258.54a0.75,0.75 0 1,0 1.5,0a0.75,0.75 0 1,0 -1.5,0M579.59,251.14a0.75,0.75 0 1,0 1.5,0a0.75,0.75 0 1,0 -1.5,0M579.59,258.54a0.75,0.75 0 1,0 1.5,0a0.75,0.75 0 1,0 -1.5,0M598.19,251.14a0.75,0.75 0 1,0 1.5,0a0.75,0.75 0 1,0 -1.5,0M598.19,258.54a0.75,0.75 0 1,0 1.5,0a0.75,0.75 0 1,0 -1.5,0" fill="#111"/>
<path d="M57.6,65.8 V79.7 H634.7 V65.8" fill="none" stroke="#111" stroke-width="1.9"/>
<path d="M637,90.4 H646.5 M642,90.4 V258.9 M637,258.9 H646.8" fill="none" stroke="#111" stroke-width="2"/>
<g stroke="#1a1a1a" stroke-width="0.8" fill="#fff"><path d="M611.5,92.3 C609,97 614,101.5 621,101.5 C628,101.5 633,99 633.5,95" fill="none"/><ellipse cx="611.3" cy="90.4" rx="1.2" ry="2.1"/><rect x="613.4" y="89.2" width="3.6" height="4.4" fill="#333"/><rect x="617" y="88.4" width="8" height="6.2"/><rect x="622.8" y="89.5" width="1.8" height="4" fill="#222" stroke="none"/><rect x="624.6" y="86.2" width="9.6" height="10.6" rx="4.6"/></g>
<g stroke="#1a1a1a" stroke-width="0.8" fill="none"><path d="M14.6,91.5 C9.5,92.5 7.8,98 8.2,104 C8.5,110 9.8,115 9.4,122 C9.0,129 8.0,136 8.0,144 C8.0,152 8.6,158 10.0,164 C11.5,170 13.0,176 12.8,182"/><path d="M9.4,109.5 C12,103 18,102.8 22,103.2 C28,103.8 30.3,107.5 30,111 C29.7,115 26,118 20,117.6 C14,117.2 11,113 9.4,109.5"/><path d="M8.4,136 C11,129 16,127.5 21,127.8 C27,128.2 30.8,132 30.8,137.2 C30.8,142.5 27,146.3 20.5,146.2 C14,146 10.5,141 8.4,136"/></g>
<g stroke="#1a1a1a" stroke-width="0.8" fill="#fff"><rect x="14.5" y="90.3" width="2.2" height="2.6" fill="#222"/><ellipse cx="18.6" cy="91.6" rx="2" ry="1.9"/><ellipse cx="23.8" cy="91.7" rx="3.3" ry="2.6"/><ellipse cx="29.2" cy="91.6" rx="2.3" ry="1.9"/><rect x="31.4" y="90.3" width="2.2" height="2.6" fill="#222"/><rect x="11.9" y="182" width="2.2" height="6.4"/><rect x="9.6" y="188.4" width="6" height="3.9" fill="#ccc"/><rect x="9.1" y="192.3" width="7" height="5.2"/><rect x="3.3" y="198.2" width="14.4" height="22.5" rx="0.8"/><path d="M4.5,198.2 V197 H7.5 V198.2"/><path d="M7.7,220.7 V226 M12.6,220.7 V226" stroke-width="1.2"/></g>
<rect x="353" y="294.8" width="318.6" height="125.5" fill="none" stroke="#111" stroke-width="1.9"/>
<path d="M488.8,331 H520.6 M488.8,327.6 V334.3 M520.6,327.6 V334.3" fill="none" stroke="#111" stroke-width="1.6"/>
<path d="M373.3,357.3 L388.3,340.3 M371.1,355.1 L375.5,359.2 M386.1,338.3 L390.5,342.3" fill="none" stroke="#111" stroke-width="1.5"/>
<path d="M393.7,349.3 Q384.3,353.3 377.5,360.8 M393.7,349.3 Q402.7,353.3 409.1,360.8 M377.5,373.6 Q384.2,380.7 392.9,385.2 M409.1,373.6 Q401.9,380.7 392.9,385.2 M425.3,349.3 Q415.9,353.3 409.1,360.8 M425.3,349.3 Q434.3,353.3 440.7,360.8 M409.1,373.6 Q415.8,380.7 424.5,385.2 M440.7,373.6 Q433.5,380.7 424.5,385.2 M456.9,349.3 Q447.5,353.3 440.7,360.8 M456.9,349.3 Q465.9,353.3 472.3,360.8 M440.7,373.6 Q447.4,380.7 456.1,385.2 M472.3,373.6 Q465.1,380.7 456.1,385.2 M488.5,349.3 Q479.1,353.3 472.3,360.8 M488.5,349.3 Q497.5,353.3 503.9,360.8 M472.3,373.6 Q479.0,380.7 487.7,385.2 M503.9,373.6 Q496.7,380.7 487.7,385.2 M520.1,349.3 Q510.7,353.3 503.9,360.8 M520.1,349.3 Q529.1,353.3 535.5,360.8 M503.9,373.6 Q510.6,380.7 519.3,385.2 M535.5,373.6 Q528.3,380.7 519.3,385.2 M551.7,349.3 Q542.3,353.3 535.5,360.8 M551.7,349.3 Q560.7,353.3 567.1,360.8 M535.5,373.6 Q542.2,380.7 550.9,385.2 M567.1,373.6 Q559.9,380.7 550.9,385.2 M583.3,349.3 Q573.9,353.3 567.1,360.8 M583.3,349.3 Q592.3,353.3 598.7,360.8 M567.1,373.6 Q573.8,380.7 582.5,385.2 M598.7,373.6 Q591.5,380.7 582.5,385.2 M614.9,349.3 Q605.5,353.3 598.7,360.8 M614.9,349.3 Q623.9,353.3 630.3,360.8 M598.7,373.6 Q605.4,380.7 614.1,385.2 M630.3,373.6 Q623.1,380.7 614.1,385.2 M646.5,349.3 Q637.1,353.3 630.3,360.8 M646.5,349.3 Q655.5,353.3 661.9,360.8 M630.3,373.6 Q637.0,380.7 645.7,385.2 M661.9,373.6 Q654.7,380.7 645.7,385.2" fill="none" stroke="#1a1a1a" stroke-width="1.05"/>
<rect x="392.2" y="337.2" width="3" height="6.4" fill="#fff" stroke="#1a1a1a" stroke-width="0.95"/><circle cx="393.7" cy="346.0" r="2.2" fill="#fff" stroke="#1a1a1a" stroke-width="1.05"/>
<rect x="423.8" y="337.2" width="3" height="6.4" fill="#fff" stroke="#1a1a1a" stroke-width="0.95"/><circle cx="425.3" cy="346.0" r="2.2" fill="#fff" stroke="#1a1a1a" stroke-width="1.05"/>
<rect x="455.4" y="337.2" width="3" height="6.4" fill="#fff" stroke="#1a1a1a" stroke-width="0.95"/><circle cx="456.9" cy="346.0" r="2.2" fill="#fff" stroke="#1a1a1a" stroke-width="1.05"/>
<rect x="487.0" y="337.2" width="3" height="6.4" fill="#fff" stroke="#1a1a1a" stroke-width="0.95"/><circle cx="488.5" cy="346.0" r="2.2" fill="#fff" stroke="#1a1a1a" stroke-width="1.05"/>
<rect x="518.6" y="337.2" width="3" height="6.4" fill="#fff" stroke="#1a1a1a" stroke-width="0.95"/><circle cx="520.1" cy="346.0" r="2.2" fill="#fff" stroke="#1a1a1a" stroke-width="1.05"/>
<rect x="550.2" y="337.2" width="3" height="6.4" fill="#fff" stroke="#1a1a1a" stroke-width="0.95"/><circle cx="551.7" cy="346.0" r="2.2" fill="#fff" stroke="#1a1a1a" stroke-width="1.05"/>
<rect x="581.8" y="337.2" width="3" height="6.4" fill="#fff" stroke="#1a1a1a" stroke-width="0.95"/><circle cx="583.3" cy="346.0" r="2.2" fill="#fff" stroke="#1a1a1a" stroke-width="1.05"/>
<rect x="613.4" y="337.2" width="3" height="6.4" fill="#fff" stroke="#1a1a1a" stroke-width="0.95"/><circle cx="614.9" cy="346.0" r="2.2" fill="#fff" stroke="#1a1a1a" stroke-width="1.05"/>
<rect x="645.0" y="337.2" width="3" height="6.4" fill="#fff" stroke="#1a1a1a" stroke-width="0.95"/><circle cx="646.5" cy="346.0" r="2.2" fill="#fff" stroke="#1a1a1a" stroke-width="1.05"/>
<rect x="376.0" y="361.1" width="3" height="6.4" fill="#fff" stroke="#1a1a1a" stroke-width="0.95"/><circle cx="377.5" cy="369.9" r="2.2" fill="#fff" stroke="#1a1a1a" stroke-width="1.05"/>
<rect x="407.6" y="361.1" width="3" height="6.4" fill="#fff" stroke="#1a1a1a" stroke-width="0.95"/><circle cx="409.1" cy="369.9" r="2.2" fill="#fff" stroke="#1a1a1a" stroke-width="1.05"/>
<rect x="439.2" y="361.1" width="3" height="6.4" fill="#fff" stroke="#1a1a1a" stroke-width="0.95"/><circle cx="440.7" cy="369.9" r="2.2" fill="#fff" stroke="#1a1a1a" stroke-width="1.05"/>
<rect x="470.8" y="361.1" width="3" height="6.4" fill="#fff" stroke="#1a1a1a" stroke-width="0.95"/><circle cx="472.3" cy="369.9" r="2.2" fill="#fff" stroke="#1a1a1a" stroke-width="1.05"/>
<rect x="502.4" y="361.1" width="3" height="6.4" fill="#fff" stroke="#1a1a1a" stroke-width="0.95"/><circle cx="503.9" cy="369.9" r="2.2" fill="#fff" stroke="#1a1a1a" stroke-width="1.05"/>
<rect x="534.0" y="361.1" width="3" height="6.4" fill="#fff" stroke="#1a1a1a" stroke-width="0.95"/><circle cx="535.5" cy="369.9" r="2.2" fill="#fff" stroke="#1a1a1a" stroke-width="1.05"/>
<rect x="565.6" y="361.1" width="3" height="6.4" fill="#fff" stroke="#1a1a1a" stroke-width="0.95"/><circle cx="567.1" cy="369.9" r="2.2" fill="#fff" stroke="#1a1a1a" stroke-width="1.05"/>
<rect x="597.2" y="361.1" width="3" height="6.4" fill="#fff" stroke="#1a1a1a" stroke-width="0.95"/><circle cx="598.7" cy="369.9" r="2.2" fill="#fff" stroke="#1a1a1a" stroke-width="1.05"/>
<rect x="628.8" y="361.1" width="3" height="6.4" fill="#fff" stroke="#1a1a1a" stroke-width="0.95"/><circle cx="630.3" cy="369.9" r="2.2" fill="#fff" stroke="#1a1a1a" stroke-width="1.05"/>
<rect x="660.4" y="361.1" width="3" height="6.4" fill="#fff" stroke="#1a1a1a" stroke-width="0.95"/><circle cx="661.9" cy="369.9" r="2.2" fill="#fff" stroke="#1a1a1a" stroke-width="1.05"/>
<rect x="391.4" y="385.4" width="3" height="6.4" fill="#fff" stroke="#1a1a1a" stroke-width="0.95"/><circle cx="392.9" cy="394.2" r="2.2" fill="#fff" stroke="#1a1a1a" stroke-width="1.05"/>
<rect x="423.0" y="385.4" width="3" height="6.4" fill="#fff" stroke="#1a1a1a" stroke-width="0.95"/><circle cx="424.5" cy="394.2" r="2.2" fill="#fff" stroke="#1a1a1a" stroke-width="1.05"/>
<rect x="454.6" y="385.4" width="3" height="6.4" fill="#fff" stroke="#1a1a1a" stroke-width="0.95"/><circle cx="456.1" cy="394.2" r="2.2" fill="#fff" stroke="#1a1a1a" stroke-width="1.05"/>
<rect x="486.2" y="385.4" width="3" height="6.4" fill="#fff" stroke="#1a1a1a" stroke-width="0.95"/><circle cx="487.7" cy="394.2" r="2.2" fill="#fff" stroke="#1a1a1a" stroke-width="1.05"/>
<rect x="517.8" y="385.4" width="3" height="6.4" fill="#fff" stroke="#1a1a1a" stroke-width="0.95"/><circle cx="519.3" cy="394.2" r="2.2" fill="#fff" stroke="#1a1a1a" stroke-width="1.05"/>
<rect x="549.4" y="385.4" width="3" height="6.4" fill="#fff" stroke="#1a1a1a" stroke-width="0.95"/><circle cx="550.9" cy="394.2" r="2.2" fill="#fff" stroke="#1a1a1a" stroke-width="1.05"/>
<rect x="581.0" y="385.4" width="3" height="6.4" fill="#fff" stroke="#1a1a1a" stroke-width="0.95"/><circle cx="582.5" cy="394.2" r="2.2" fill="#fff" stroke="#1a1a1a" stroke-width="1.05"/>
<rect x="612.6" y="385.4" width="3" height="6.4" fill="#fff" stroke="#1a1a1a" stroke-width="0.95"/><circle cx="614.1" cy="394.2" r="2.2" fill="#fff" stroke="#1a1a1a" stroke-width="1.05"/>
<rect x="644.2" y="385.4" width="3" height="6.4" fill="#fff" stroke="#1a1a1a" stroke-width="0.95"/><circle cx="645.7" cy="394.2" r="2.2" fill="#fff" stroke="#1a1a1a" stroke-width="1.05"/>
<path d="M392.90,349.40a0.8,0.8 0 1,0 1.6,0a0.8,0.8 0 1,0 -1.6,0M424.50,349.40a0.8,0.8 0 1,0 1.6,0a0.8,0.8 0 1,0 -1.6,0M456.10,349.40a0.8,0.8 0 1,0 1.6,0a0.8,0.8 0 1,0 -1.6,0M487.70,349.40a0.8,0.8 0 1,0 1.6,0a0.8,0.8 0 1,0 -1.6,0M519.30,349.40a0.8,0.8 0 1,0 1.6,0a0.8,0.8 0 1,0 -1.6,0M550.90,349.40a0.8,0.8 0 1,0 1.6,0a0.8,0.8 0 1,0 -1.6,0M582.50,349.40a0.8,0.8 0 1,0 1.6,0a0.8,0.8 0 1,0 -1.6,0M614.10,349.40a0.8,0.8 0 1,0 1.6,0a0.8,0.8 0 1,0 -1.6,0M645.70,349.40a0.8,0.8 0 1,0 1.6,0a0.8,0.8 0 1,0 -1.6,0M376.70,360.90a0.8,0.8 0 1,0 1.6,0a0.8,0.8 0 1,0 -1.6,0M376.70,373.60a0.8,0.8 0 1,0 1.6,0a0.8,0.8 0 1,0 -1.6,0M408.30,360.90a0.8,0.8 0 1,0 1.6,0a0.8,0.8 0 1,0 -1.6,0M408.30,373.60a0.8,0.8 0 1,0 1.6,0a0.8,0.8 0 1,0 -1.6,0M439.90,360.90a0.8,0.8 0 1,0 1.6,0a0.8,0.8 0 1,0 -1.6,0M439.90,373.60a0.8,0.8 0 1,0 1.6,0a0.8,0.8 0 1,0 -1.6,0M471.50,360.90a0.8,0.8 0 1,0 1.6,0a0.8,0.8 0 1,0 -1.6,0M471.50,373.60a0.8,0.8 0 1,0 1.6,0a0.8,0.8 0 1,0 -1.6,0M503.10,360.90a0.8,0.8 0 1,0 1.6,0a0.8,0.8 0 1,0 -1.6,0M503.10,373.60a0.8,0.8 0 1,0 1.6,0a0.8,0.8 0 1,0 -1.6,0M534.70,360.90a0.8,0.8 0 1,0 1.6,0a0.8,0.8 0 1,0 -1.6,0M534.70,373.60a0.8,0.8 0 1,0 1.6,0a0.8,0.8 0 1,0 -1.6,0M566.30,360.90a0.8,0.8 0 1,0 1.6,0a0.8,0.8 0 1,0 -1.6,0M566.30,373.60a0.8,0.8 0 1,0 1.6,0a0.8,0.8 0 1,0 -1.6,0M597.90,360.90a0.8,0.8 0 1,0 1.6,0a0.8,0.8 0 1,0 -1.6,0M597.90,373.60a0.8,0.8 0 1,0 1.6,0a0.8,0.8 0 1,0 -1.6,0M629.50,360.90a0.8,0.8 0 1,0 1.6,0a0.8,0.8 0 1,0 -1.6,0M629.50,373.60a0.8,0.8 0 1,0 1.6,0a0.8,0.8 0 1,0 -1.6,0M661.10,360.90a0.8,0.8 0 1,0 1.6,0a0.8,0.8 0 1,0 -1.6,0M661.10,373.60a0.8,0.8 0 1,0 1.6,0a0.8,0.8 0 1,0 -1.6,0M392.10,385.30a0.8,0.8 0 1,0 1.6,0a0.8,0.8 0 1,0 -1.6,0M423.70,385.30a0.8,0.8 0 1,0 1.6,0a0.8,0.8 0 1,0 -1.6,0M455.30,385.30a0.8,0.8 0 1,0 1.6,0a0.8,0.8 0 1,0 -1.6,0M486.90,385.30a0.8,0.8 0 1,0 1.6,0a0.8,0.8 0 1,0 -1.6,0M518.50,385.30a0.8,0.8 0 1,0 1.6,0a0.8,0.8 0 1,0 -1.6,0M550.10,385.30a0.8,0.8 0 1,0 1.6,0a0.8,0.8 0 1,0 -1.6,0M581.70,385.30a0.8,0.8 0 1,0 1.6,0a0.8,0.8 0 1,0 -1.6,0M613.30,385.30a0.8,0.8 0 1,0 1.6,0a0.8,0.8 0 1,0 -1.6,0M644.90,385.30a0.8,0.8 0 1,0 1.6,0a0.8,0.8 0 1,0 -1.6,0" fill="#111"/>
<circle cx="41.2" cy="423.1" r="39.9" fill="none" stroke="#444" stroke-width="0.9"/>
<circle cx="161.8" cy="423.1" r="39.9" fill="none" stroke="#444" stroke-width="0.9"/>
<circle cx="288.6" cy="423.1" r="39.9" fill="none" stroke="#444" stroke-width="0.9"/>
<circle cx="41.2" cy="523.8" r="39.9" fill="none" stroke="#444" stroke-width="0.9"/>
<circle cx="161.8" cy="523.8" r="39.9" fill="none" stroke="#444" stroke-width="0.9"/>
<circle cx="288.6" cy="523.8" r="39.9" fill="none" stroke="#444" stroke-width="0.9"/>
<g stroke="#222" stroke-width="0.8" fill="#fff"><path d="M68.9,421.4 H78 M68.9,428.3 H78" stroke-width="1.5"/><rect x="32.4" y="412.4" width="36.5" height="24.2" rx="1"/><rect x="29.5" y="429.2" width="3" height="6.4" rx="1"/><path d="M25.6,414.6 L32.4,413.2 V427.7 L25.6,426.2 Z"/><rect x="21.8" y="415.5" width="3.8" height="10.5"/><rect x="14.4" y="415" width="7.4" height="10.9" rx="1"/><rect x="16" y="416.5" width="4.2" height="8" fill="#999" stroke="none"/><rect x="7.7" y="418.4" width="6.7" height="4"/><path d="M3,420.4 L5,419 H7.7 V421.9 H5 Z" fill="#333"/></g>
<g stroke="#222" stroke-width="0.8" fill="#fff"><path d="M128.3,420.9 L144.5,420.2" stroke-width="1.5" fill="none"/><path d="M146.5,424.3 C146,433 156,438 166,437.5 C176,437 183,433 186,427" fill="none" stroke-width="1.1"/><ellipse cx="146.2" cy="420" rx="2" ry="4.4"/><rect x="150.3" y="417" width="5.9" height="7" fill="#fff"/><path d="M151.6,417.3 V423.7 M153.3,417.3 V423.7 M155,417.3 V423.7" stroke="#222" stroke-width="1.1"/><rect x="156.2" y="415" width="15.5" height="10"/><rect x="166.3" y="418" width="3.6" height="4.4" fill="#222"/><rect x="171.7" y="411" width="15.5" height="18.5" rx="4.5"/><path d="M187.2,419 L189.2,420 L187.2,421"/></g>
<g stroke="#222" stroke-width="0.8" fill="#fff"><path d="M251.5,422.5 H261.5 M311,422.5 H326" stroke-width="1.4"/><rect x="261.4" y="419" width="2.9" height="6.6" fill="#333"/><rect x="264.3" y="418.5" width="11.8" height="7.6"/><path d="M272.3,420.5 L275,422.3 L272.3,424.1 Z" fill="#222"/><rect x="276" y="416" width="12.6" height="12.8" rx="4"/><rect x="291.3" y="418.5" width="4.8" height="7.6" fill="#333"/><rect x="296.1" y="418.5" width="12" height="7.6"/><path d="M299.5,420.5 L302,422.3 L299.5,424.1 Z" fill="#222"/><rect x="308.1" y="419" width="3" height="6.6" fill="#333"/></g>
<g stroke="#222" stroke-width="0.8" fill="#fff"><path d="M69.5,523.7 H78 M69.5,530.4 H78" stroke-width="1.5"/><rect x="38.6" y="516" width="30.9" height="20.7" rx="1"/><rect x="36" y="531" width="2.8" height="5.4" rx="1"/><path d="M29,519.5 L38.6,519 V532.5 L29,531.5 Z"/><path d="M25.3,525.4 L29,522 V529 Z" fill="#555"/><rect x="12.5" y="519.3" width="6" height="8.8" rx="1" fill="#999"/><rect x="6" y="522.2" width="6.5" height="3.2"/><path d="M3,523.8 L4.5,522.5 H6 V525.1 H4.5 Z" fill="#333"/></g>
<g stroke="#222" stroke-width="0.8" fill="#fff"><path d="M131.2,520.3 L151,519.2" stroke-width="1.5" fill="none"/><path d="M148,523.6 C146.5,532 148.5,541 153,546 C158,552 166,554.5 172,553.5 C177,552.5 180.5,550.5 182,548" fill="none" stroke-width="1.1"/><ellipse cx="148.2" cy="519.2" rx="3.1" ry="4.4" fill="none"/><rect x="152.8" y="515.3" width="6.2" height="8.3" fill="#fff"/><path d="M154.2,515.6 V523.3 M156,515.6 V523.3 M157.7,515.6 V523.3" stroke="#222" stroke-width="1.1"/><rect x="159" y="514.1" width="16.5" height="11"/><rect x="166.2" y="516.9" width="4.2" height="4.6" fill="#222"/><path d="M175.5,513.2 H181.5 Q183.8,513.2 183.8,516 V523 Q183.8,525.6 181.5,525.6 H175.5 Z" fill="#3a3030"/><g transform="rotate(35 178.1 543)"><rect x="172.1" y="537" width="12" height="11.2" rx="3"/><path d="M174,539.5 H182.5 M173.2,541.6 H183.2 M173.2,543.7 H183.2 M174,545.8 H182.5" stroke-width="0.7"/></g></g>
<g stroke="#222" stroke-width="0.8" fill="#fff"><path d="M249,523.2 H262 M315,523.2 H328" stroke-width="2"/><rect x="262" y="519" width="5" height="8" fill="#333"/><rect x="267" y="518.5" width="14.2" height="9.5"/><path d="M276.5,521 L279.5,523.2 L276.5,525.4 Z" fill="#222"/><rect x="296.7" y="518.5" width="14.2" height="9.5"/><path d="M301,521 L298,523.2 L301,525.4 Z" fill="#222"/><rect x="310.7" y="519" width="4.3" height="8" fill="#333"/><rect x="280.5" y="515" width="16.2" height="15.8" rx="4.5"/></g>
<g stroke="#111" fill="#fff"><path d="M446.6,435.6 V466 M469.9,435.6 V466" stroke-width="4.2" stroke="#000" stroke-linecap="round"/><rect x="419.8" y="465.4" width="74.4" height="114" rx="2.2" stroke-width="1.5"/><path d="M465.7,580.4 H494" stroke-width="1"/><path d="M472,580.6 V585 Q472,588.1 475,588.1 H487 Q490.1,588.1 490.1,585 V580.6" stroke-width="1.3"/><path d="M423.5,579.4 V596.5 Q423.5,600 427,600 H462.2 Q465.7,600 465.7,596.5 V579.4" stroke-width="1.4"/><path d="M426,600 L427.5,603.5 M463.2,600 L462.3,603.5" stroke-width="1.2"/><rect x="427.5" y="603.5" width="34.8" height="10.3" rx="3" stroke-width="1.3"/><path d="M430,614.6 H460" stroke-width="1.6"/><path d="M438.7,636 V668 Q438.7,673.4 444.5,673.4 Q450.3,673.4 450.3,668 V636" stroke-width="1.4"/><path d="M439,655.5 Q444.5,660 450,655.5 M439,659.2 Q444.5,663.7 450,659.2 M439,662.8 Q444.5,667.3 450,662.8 M439,666.4 Q444.5,670.9 450,666.4" fill="none" stroke-width="1.1"/><rect x="427.5" y="615.3" width="34.8" height="21" rx="4" stroke-width="1.3"/><path d="M431.3,618.8 V632.6 M435.1,618.8 V632.6 M439.2,618.8 V632.6 M443.2,618.8 V632.6 M447.2,618.8 V632.6 M451.2,618.8 V632.6 M455.1,618.8 V632.6 M458.8,618.8 V632.6" stroke-width="1.2"/></g>
<path d="M482.7,599 V674" stroke="#000" stroke-width="1.9"/>
<path d="M482.7,591.3 L487.8,600.2 L477.6,600.2 Z" fill="#000"/>
<text x="127.3" y="21.5" font-size="29" font-weight="bold" textLength="196.2" lengthAdjust="spacingAndGlyphs" letter-spacing="1.5" stroke="#000" stroke-width="1.2" fill="#000">Components</text>
<text x="331.0" y="21.5" font-size="29" font-weight="bold" textLength="56.2" lengthAdjust="spacingAndGlyphs" letter-spacing="1.5" stroke="#000" stroke-width="1.2" fill="#000">and</text>
<text x="397.8" y="21.5" font-size="29" font-weight="bold" textLength="148.5" lengthAdjust="spacingAndGlyphs" letter-spacing="1.5" stroke="#000" stroke-width="1.2" fill="#000">Structure</text>
<text x="162.4" y="70" font-size="16.3" font-weight="bold" textLength="160.6" lengthAdjust="spacingAndGlyphs" letter-spacing="0.5" stroke="#000" stroke-width="0.6" fill="#000">Light String: 12 ft</text>
<text x="358.1" y="70" font-size="16.3" font-weight="bold" textLength="70.3" lengthAdjust="spacingAndGlyphs" letter-spacing="0.5" stroke="#000" stroke-width="0.6" fill="#000">30LEDs</text>
<text x="647.6" y="187.4" font-size="16.8" font-weight="bold" textLength="30.6" lengthAdjust="spacingAndGlyphs" letter-spacing="0.5" stroke="#000" stroke-width="0.6" fill="#000">5 ft</text>
<text x="9.8" y="297.9" font-size="17.8" font-weight="bold" textLength="196.4" lengthAdjust="spacingAndGlyphs" letter-spacing="0.5" stroke="#000" stroke-width="0.6" fill="#000">Leading Wire: 17 ft</text>
<text x="491.3" y="325.1" font-size="10.2" font-weight="bold" textLength="29.4" lengthAdjust="spacingAndGlyphs" letter-spacing="0.5" stroke="#000" stroke-width="0.3" fill="#000">4.7 in</text>
<text x="360.3" y="346.8" font-size="10.2" font-weight="bold" textLength="20.1" lengthAdjust="spacingAndGlyphs" letter-spacing="0.5" stroke="#000" stroke-width="0.3" fill="#000">6 in</text>
<text x="83.3" y="479.1" font-size="18.4" font-weight="bold" textLength="179.5" lengthAdjust="spacingAndGlyphs" fill="#000">Connect up to 3 Sets</text>
<text x="508.0" y="474.4" font-size="16.5" font-weight="normal" textLength="143.2" lengthAdjust="spacingAndGlyphs" fill="#000">8 Function Modes</text>
<text x="653.3" y="474.4" font-size="16.5" font-weight="normal" fill="#000">:</text>
<text x="507.9" y="494.2" font-size="13.9" font-weight="normal" fill="#000">1 Combination</text>
<text x="507.9" y="510.7" font-size="13.9" font-weight="normal" fill="#000">2 In Waves</text>
<text x="507.9" y="527.2" font-size="13.9" font-weight="normal" fill="#000">3 Sequential</text>
<text x="507.9" y="543.7" font-size="13.9" font-weight="normal" fill="#000">4 Slogs</text>
<text x="507.9" y="560.2" font-size="13.9" font-weight="normal" fill="#000">5 Chasing/Flash</text>
<text x="507.9" y="576.8" font-size="13.9" font-weight="normal" fill="#000">6 Slow Fade</text>
<text x="507.9" y="593.3" font-size="13.9" font-weight="normal" fill="#000">7 Twinkle/Flash</text>
<text x="507.9" y="609.8" font-size="13.9" font-weight="normal" fill="#000">8 Steady on</text>
<text x="41.4" y="575.3" font-size="12.5" text-anchor="middle" fill="#000">Remove</text>
<text x="41.4" y="590.1" font-size="12.5" text-anchor="middle" fill="#000">the adapter</text>
<text x="162.6" y="575.3" font-size="12.5" text-anchor="middle" fill="#000">Remove the cap</text>
<text x="162.6" y="590.1" font-size="12.5" text-anchor="middle" fill="#000">of the end plug</text>
<text x="288.4" y="575.3" font-size="12.5" text-anchor="middle" fill="#000">connect the</text>
<text x="288.4" y="590.1" font-size="12.5" text-anchor="middle" fill="#000">end plug together</text>
</svg>
</body></html>
